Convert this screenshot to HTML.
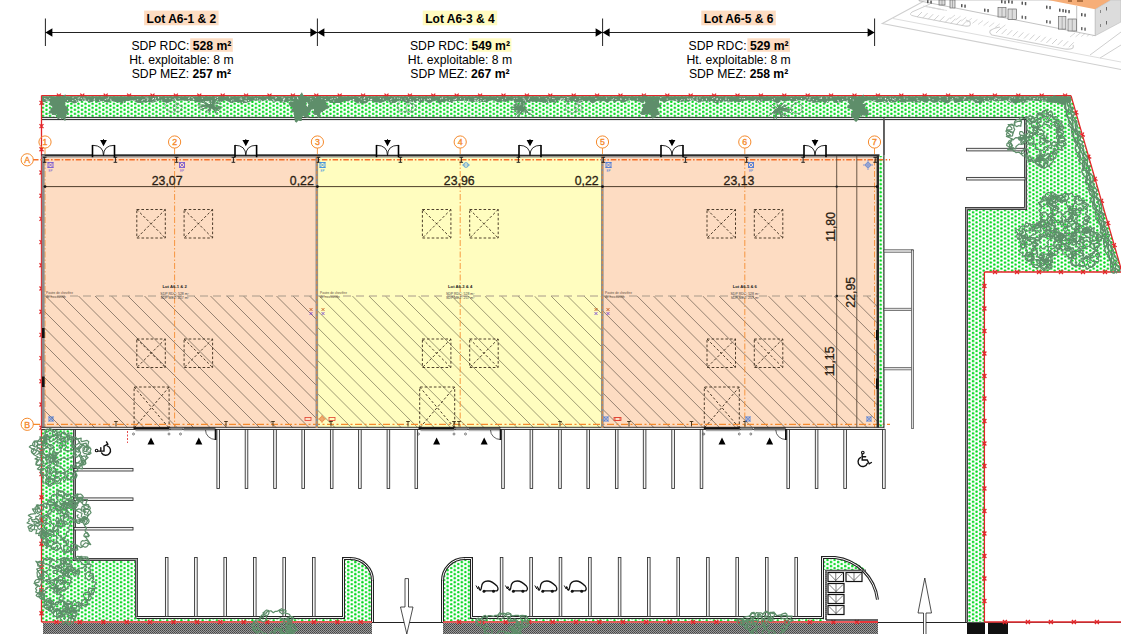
<!DOCTYPE html>
<html><head><meta charset="utf-8"><style>
html,body{margin:0;padding:0;background:#fff;overflow:hidden;}
svg{display:block;font-family:"Liberation Sans",sans-serif;}
</style></head><body>
<svg width="1121" height="634" viewBox="0 0 1121 634">
<defs>
<pattern id="dots" x="0" y="0" width="7.1" height="4.02" patternUnits="userSpaceOnUse">
<rect width="7.1" height="4.02" fill="#fff"/>
<circle cx="3.9" cy="1.26" r="1.25" fill="#00D81C"/><circle cx="0.35" cy="3.27" r="1.25" fill="#00D81C"/><circle cx="7.45" cy="3.27" r="1.25" fill="#00D81C"/><circle cx="0.35" cy="-0.75" r="1.25" fill="#00D81C"/><circle cx="7.45" cy="-0.75" r="1.25" fill="#00D81C"/>
</pattern>
<pattern id="gh" x="0" y="0" width="2" height="2" patternUnits="userSpaceOnUse">
<rect width="2" height="2" fill="#9a9a9a"/><rect width="1" height="1" fill="#444"/><rect x="1" y="1" width="1" height="1" fill="#555"/>
</pattern>
<clipPath id="hclip"><rect x="44" y="296" width="833" height="132"/></clipPath>
</defs>
<rect x="144.1" y="10.6" width="74.5" height="14.7" fill="#FDDCC2"/>
<text x="181.4" y="22.6" font-weight="bold" font-size="12" text-anchor="middle">Lot A6-1 &amp; 2</text>
<rect x="190.2" y="38.3" width="42.6" height="13.5" fill="#FDDCC2"/>
<text x="181.4" y="50" font-size="12.2" text-anchor="middle">SDP RDC: <tspan font-weight="bold">528 m²</tspan></text>
<text x="181.4" y="64" font-size="12.2" text-anchor="middle">Ht. exploitable: 8 m</text>
<text x="181.4" y="78" font-size="12.2" text-anchor="middle">SDP MEZ: <tspan font-weight="bold">257 m²</tspan></text>
<rect x="422.7" y="10.6" width="74.5" height="14.7" fill="#FFFBC0"/>
<text x="460.0" y="22.6" font-weight="bold" font-size="12" text-anchor="middle">Lot A6-3 &amp; 4</text>
<rect x="468.8" y="38.3" width="42.6" height="13.5" fill="#FFFBC0"/>
<text x="460.0" y="50" font-size="12.2" text-anchor="middle">SDP RDC: <tspan font-weight="bold">549 m²</tspan></text>
<text x="460.0" y="64" font-size="12.2" text-anchor="middle">Ht. exploitable: 8 m</text>
<text x="460.0" y="78" font-size="12.2" text-anchor="middle">SDP MEZ: <tspan font-weight="bold">267 m²</tspan></text>
<rect x="701.3" y="10.6" width="74.5" height="14.7" fill="#FDDCC2"/>
<text x="738.6" y="22.6" font-weight="bold" font-size="12" text-anchor="middle">Lot A6-5 &amp; 6</text>
<rect x="747.4" y="38.3" width="42.6" height="13.5" fill="#FDDCC2"/>
<text x="738.6" y="50" font-size="12.2" text-anchor="middle">SDP RDC: <tspan font-weight="bold">529 m²</tspan></text>
<text x="738.6" y="64" font-size="12.2" text-anchor="middle">Ht. exploitable: 8 m</text>
<text x="738.6" y="78" font-size="12.2" text-anchor="middle">SDP MEZ: <tspan font-weight="bold">258 m²</tspan></text>
<line x1="45.4" y1="32.5" x2="874.6" y2="32.5" stroke="#222" stroke-width="1"/>
<line x1="45.4" y1="18.5" x2="45.4" y2="46" stroke="#222" stroke-width="1"/>
<line x1="317.4" y1="18.5" x2="317.4" y2="46" stroke="#222" stroke-width="1"/>
<line x1="602.6" y1="18.5" x2="602.6" y2="46" stroke="#222" stroke-width="1"/>
<line x1="874.6" y1="18.5" x2="874.6" y2="46" stroke="#222" stroke-width="1"/>
<path d="M45.4,32.5 L52.4,28.3 L52.4,36.7Z" fill="#000"/>
<path d="M874.6,32.5 L867.6,28.3 L867.6,36.7Z" fill="#000"/>
<path d="M317.4,32.5 L324.4,28.3 L324.4,36.7Z" fill="#000"/>
<path d="M317.4,32.5 L310.4,28.3 L310.4,36.7Z" fill="#000"/>
<path d="M602.6,32.5 L609.6,28.3 L609.6,36.7Z" fill="#000"/>
<path d="M602.6,32.5 L595.6,28.3 L595.6,36.7Z" fill="#000"/>
<g>
<path d="M926,0 L882.3,23.5 L1121,69.5" stroke="#cfcfcf" stroke-width="1.1" fill="none"/>
<path d="M893,18.5 L1121,62" stroke="#dedede" stroke-width="1" fill="none"/>
<path d="M930,4 L912,12 Q908,15 914,16 L918,17" stroke="#cfcfcf" stroke-width="1" fill="none"/>
<path d="M918,17 L965,26 Q972,27 970,22 L966,20" stroke="#cfcfcf" stroke-width="1.1" fill="none"/>
<path d="M1000,27 Q985,30 992,35 L1065,49 Q1075,50 1073,45" stroke="#cfcfcf" stroke-width="1.1" fill="none"/>
<path d="M1090,55 L1121,32 M1100,58 L1121,45" stroke="#cfcfcf" stroke-width="1" fill="none"/>
<line x1="917.0" y1="17.0" x2="922.0" y2="12.0" stroke="#c4c4c4" stroke-width="0.8"/>
<line x1="922.6" y1="18.1" x2="927.6" y2="13.1" stroke="#c4c4c4" stroke-width="0.8"/>
<line x1="928.2" y1="19.2" x2="933.2" y2="14.2" stroke="#c4c4c4" stroke-width="0.8"/>
<line x1="933.8" y1="20.3" x2="938.8" y2="15.3" stroke="#c4c4c4" stroke-width="0.8"/>
<line x1="939.4" y1="21.4" x2="944.4" y2="16.4" stroke="#c4c4c4" stroke-width="0.8"/>
<line x1="945.0" y1="22.5" x2="950.0" y2="17.5" stroke="#c4c4c4" stroke-width="0.8"/>
<line x1="950.6" y1="23.6" x2="955.6" y2="18.6" stroke="#c4c4c4" stroke-width="0.8"/>
<line x1="956.2" y1="24.700000000000003" x2="961.2" y2="19.700000000000003" stroke="#c4c4c4" stroke-width="0.8"/>
<line x1="961.8" y1="25.8" x2="966.8" y2="20.8" stroke="#c4c4c4" stroke-width="0.8"/>
<line x1="923" y1="6.0" x2="932" y2="7.5" stroke="#d4d4d4" stroke-width="0.7"/>
<line x1="926" y1="6.6" x2="935" y2="8.1" stroke="#d4d4d4" stroke-width="0.7"/>
<line x1="929" y1="7.2" x2="938" y2="8.7" stroke="#d4d4d4" stroke-width="0.7"/>
<line x1="932" y1="7.8" x2="941" y2="9.3" stroke="#d4d4d4" stroke-width="0.7"/>
<line x1="935" y1="8.4" x2="944" y2="9.9" stroke="#d4d4d4" stroke-width="0.7"/>
<line x1="938" y1="9.0" x2="947" y2="10.5" stroke="#d4d4d4" stroke-width="0.7"/>
<line x1="996.0" y1="33.0" x2="1001.0" y2="28.0" stroke="#c4c4c4" stroke-width="0.8"/>
<line x1="1001.6" y1="34.1" x2="1006.6" y2="29.1" stroke="#c4c4c4" stroke-width="0.8"/>
<line x1="1007.2" y1="35.2" x2="1012.2" y2="30.2" stroke="#c4c4c4" stroke-width="0.8"/>
<line x1="1012.8" y1="36.3" x2="1017.8" y2="31.3" stroke="#c4c4c4" stroke-width="0.8"/>
<line x1="1018.4" y1="37.4" x2="1023.4" y2="32.4" stroke="#c4c4c4" stroke-width="0.8"/>
<line x1="1024.0" y1="38.5" x2="1029.0" y2="33.5" stroke="#c4c4c4" stroke-width="0.8"/>
<line x1="1029.6" y1="39.6" x2="1034.6" y2="34.6" stroke="#c4c4c4" stroke-width="0.8"/>
<line x1="1035.2" y1="40.7" x2="1040.2" y2="35.7" stroke="#c4c4c4" stroke-width="0.8"/>
<line x1="1040.8" y1="41.8" x2="1045.8" y2="36.8" stroke="#c4c4c4" stroke-width="0.8"/>
<line x1="1046.4" y1="42.9" x2="1051.4" y2="37.9" stroke="#c4c4c4" stroke-width="0.8"/>
<line x1="1052.0" y1="44.0" x2="1057.0" y2="39.0" stroke="#c4c4c4" stroke-width="0.8"/>
<line x1="1057.6" y1="45.1" x2="1062.6" y2="40.1" stroke="#c4c4c4" stroke-width="0.8"/>
<line x1="1063.2" y1="46.2" x2="1068.2" y2="41.2" stroke="#c4c4c4" stroke-width="0.8"/>
<line x1="1068.8" y1="47.3" x2="1073.8" y2="42.3" stroke="#c4c4c4" stroke-width="0.8"/>
<line x1="950.0" y1="19.0" x2="955.0" y2="15.0" stroke="#d0d0d0" stroke-width="0.8"/>
<line x1="955.6" y1="20.1" x2="960.6" y2="16.1" stroke="#d0d0d0" stroke-width="0.8"/>
<line x1="961.2" y1="21.2" x2="966.2" y2="17.2" stroke="#d0d0d0" stroke-width="0.8"/>
<line x1="966.8" y1="22.3" x2="971.8" y2="18.3" stroke="#d0d0d0" stroke-width="0.8"/>
<line x1="972.4" y1="23.4" x2="977.4" y2="19.4" stroke="#d0d0d0" stroke-width="0.8"/>
<line x1="978.0" y1="24.5" x2="983.0" y2="20.5" stroke="#d0d0d0" stroke-width="0.8"/>
<line x1="983.6" y1="25.6" x2="988.6" y2="21.6" stroke="#d0d0d0" stroke-width="0.8"/>
<line x1="989.2" y1="26.700000000000003" x2="994.2" y2="22.700000000000003" stroke="#d0d0d0" stroke-width="0.8"/>
<line x1="994.8" y1="27.8" x2="999.8" y2="23.8" stroke="#d0d0d0" stroke-width="0.8"/>
<line x1="1000.4" y1="28.9" x2="1005.4" y2="24.9" stroke="#d0d0d0" stroke-width="0.8"/>
<line x1="1070.0" y1="37.0" x2="1075.0" y2="33.0" stroke="#d0d0d0" stroke-width="0.8"/>
<line x1="1075.6" y1="36.8" x2="1080.6" y2="32.8" stroke="#d0d0d0" stroke-width="0.8"/>
<line x1="1081.2" y1="36.6" x2="1086.2" y2="32.6" stroke="#d0d0d0" stroke-width="0.8"/>
<line x1="1086.8" y1="36.4" x2="1091.8" y2="32.4" stroke="#d0d0d0" stroke-width="0.8"/>
<line x1="1092.4" y1="36.2" x2="1097.4" y2="32.2" stroke="#d0d0d0" stroke-width="0.8"/>
<path d="M919,0 L1095.3,0 L1095.3,35.7 L919,0.8 Z" fill="#fff" stroke="#9a9a9a" stroke-width="0.6"/>
<line x1="1076.7" y1="6" x2="1076.7" y2="32" stroke="#999" stroke-width="0.6"/>
<path d="M1048,0 L1111,0 L1095.3,9.3 Z" fill="#F6AE78"/>
<rect x="1068" y="0" width="4" height="2" fill="#b07040"/><rect x="1077" y="0" width="6" height="2" fill="#b07040"/>
<path d="M1095.3,9.3 L1111,0 L1121,0 L1121,22 L1095.3,35.7 Z" fill="#dcdcdc" stroke="#b5b5b5" stroke-width="0.5"/>
<rect x="927" y="0" width="1.5" height="3.2" rx="0.5" fill="#555"/><rect x="930.3" y="0.5" width="1.5" height="3.2" rx="0.5" fill="#555"/>
<rect x="961" y="4" width="1.5" height="3.2" rx="0.5" fill="#555"/><rect x="964.3" y="4.5" width="1.5" height="3.2" rx="0.5" fill="#555"/>
<rect x="984" y="8.5" width="1.5" height="3.2" rx="0.5" fill="#555"/><rect x="987.3" y="9.0" width="1.5" height="3.2" rx="0.5" fill="#555"/>
<rect x="1021.5" y="1.5" width="1.5" height="3.2" rx="0.5" fill="#555"/><rect x="1024.8" y="2.0" width="1.5" height="3.2" rx="0.5" fill="#555"/>
<rect x="1046" y="5.5" width="1.5" height="3.2" rx="0.5" fill="#555"/><rect x="1049.3" y="6.0" width="1.5" height="3.2" rx="0.5" fill="#555"/>
<rect x="1059" y="8.5" width="1.5" height="3.2" rx="0.5" fill="#555"/><rect x="1062.3" y="9.0" width="1.5" height="3.2" rx="0.5" fill="#555"/>
<rect x="1065" y="9.5" width="1.5" height="3.2" rx="0.5" fill="#555"/><rect x="1068.3" y="10.0" width="1.5" height="3.2" rx="0.5" fill="#555"/>
<rect x="1081" y="13" width="1.5" height="3.2" rx="0.5" fill="#555"/><rect x="1084.3" y="13.5" width="1.5" height="3.2" rx="0.5" fill="#555"/>
<rect x="1001" y="0" width="1.5" height="3.2" rx="0.5" fill="#555"/><rect x="1004.3" y="0.5" width="1.5" height="3.2" rx="0.5" fill="#555"/>
<rect x="1008" y="0" width="1.5" height="3.2" rx="0.5" fill="#555"/><rect x="1011.3" y="0.5" width="1.5" height="3.2" rx="0.5" fill="#555"/>
<rect x="1021.5" y="15.5" width="1.5" height="3.2" rx="0.5" fill="#666"/><rect x="1024.8" y="16.0" width="1.5" height="3.2" rx="0.5" fill="#666"/>
<rect x="1046" y="20" width="1.5" height="3.2" rx="0.5" fill="#666"/><rect x="1049.3" y="20.5" width="1.5" height="3.2" rx="0.5" fill="#666"/>
<rect x="1081" y="27" width="1.5" height="3.2" rx="0.5" fill="#666"/><rect x="1084.3" y="27.5" width="1.5" height="3.2" rx="0.5" fill="#666"/>
<rect x="1100" y="10" width="1" height="3" fill="#888"/><rect x="1106" y="7" width="1" height="3.5" fill="#666"/>
<rect x="1100" y="24" width="1" height="3" fill="#888"/><rect x="1106" y="21" width="1" height="3.5" fill="#666"/>
<rect x="939" y="0" width="6" height="5" fill="#ddd" stroke="#555" stroke-width="0.6"/><line x1="942.0" y1="0" x2="942.0" y2="5" stroke="#777" stroke-width="0.5"/>
<rect x="950" y="0" width="5" height="8" fill="#ddd" stroke="#555" stroke-width="0.6"/><line x1="952.5" y1="0" x2="952.5" y2="8" stroke="#777" stroke-width="0.5"/>
<rect x="998" y="7.5" width="8" height="9.5" fill="#ddd" stroke="#555" stroke-width="0.6"/><line x1="1002.0" y1="7.5" x2="1002.0" y2="17.0" stroke="#777" stroke-width="0.5"/>
<rect x="1008" y="9" width="8.5" height="10.5" fill="#ddd" stroke="#555" stroke-width="0.6"/><line x1="1012.25" y1="9" x2="1012.25" y2="19.5" stroke="#777" stroke-width="0.5"/>
<rect x="1058.4" y="16.6" width="7.5" height="12.5" fill="#ddd" stroke="#555" stroke-width="0.6"/><line x1="1062.15" y1="16.6" x2="1062.15" y2="29.1" stroke="#777" stroke-width="0.5"/>
<rect x="1068" y="19" width="8.5" height="12" fill="#ddd" stroke="#555" stroke-width="0.6"/><line x1="1072.25" y1="19" x2="1072.25" y2="31" stroke="#777" stroke-width="0.5"/>
</g>
<path d="M41.5,95.6 L1071,95.6 L1122,272 L984.4,272 L984.4,622 L966,622 L966,208.5 L1025.6,208.5 L1025.6,118.5 L41.5,118.5 Z" fill="url(#dots)"/>
<path d="M41.5,429 L73.5,429 L73.5,559 L136.8,559 L136.8,617.5 L343,617.5 L343,558.6 L350,558.6 A22,22 0 0 1 372,580.6 L372,622 L41.5,622 Z" fill="url(#dots)"/>
<path d="M443,622 L443,580.6 A22,22 0 0 1 465,558.6 L471.8,558.6 L471.8,617.5 L824,617.5 L824,622 Z" fill="url(#dots)"/>
<path d="M823.5,558.5 L842,558.5 Q856,561 866,570 L824,570 Z" fill="url(#dots)"/>
<rect x="879" y="156" width="5" height="272" fill="url(#dots)"/>
<rect x="43" y="623" width="329" height="11" fill="url(#gh)"/>
<rect x="443" y="623" width="435" height="11" fill="url(#gh)"/>
<rect x="967" y="623" width="18" height="11" fill="#111"/>
<rect x="988" y="623" width="20" height="11" fill="#111"/>
<line x1="372" y1="622.5" x2="443" y2="622.5" stroke="#222" stroke-width="1"/>
<line x1="878" y1="622.5" x2="1121" y2="622.5" stroke="#222" stroke-width="0.8"/>
<path d="M1025.5,118.5 L1025.5,208.5 L966.5,208.5 L966.5,622" fill="none" stroke="#222" stroke-width="3" stroke-linejoin="miter"/>
<path d="M1025.5,118.5 L1025.5,208.5 L966.5,208.5 L966.5,622" fill="none" stroke="#a0a0a0" stroke-width="1.6" stroke-linejoin="miter"/>
<rect x="41.5" y="116.9" width="985" height="1" fill="#1e1e1e"/><rect x="41.5" y="117.9" width="985" height="1.2" fill="#e8e8e8"/><rect x="41.5" y="119.1" width="985" height="1" fill="#1e1e1e"/>
<path d="M74.5,429 L74.5,559.5 L136.5,559.5 L136.5,617.5" fill="none" stroke="#222" stroke-width="3" stroke-linejoin="miter"/>
<path d="M74.5,429 L74.5,559.5 L136.5,559.5 L136.5,617.5" fill="none" stroke="#a0a0a0" stroke-width="1.6" stroke-linejoin="miter"/>
<path d="M136.5,617.5 L343.5,617.5 L343.5,558.5 L350.5,558.5 A22,22 0 0 1 372.5,580.5 L372.5,622" fill="none" stroke="#222" stroke-width="3"/><path d="M136.5,617.5 L343.5,617.5 L343.5,558.5 L350.5,558.5 A22,22 0 0 1 372.5,580.5 L372.5,622" fill="none" stroke="#f4f4f4" stroke-width="1"/>
<path d="M442.5,622 L442.5,580.5 A22,22 0 0 1 464.5,558.5 L471.5,558.5 L471.5,617.5 L822.5,617.5 L822.5,557.5 L835,557.5 A48,48 0 0 1 877.5,599.7" fill="none" stroke="#222" stroke-width="3"/><path d="M442.5,622 L442.5,580.5 A22,22 0 0 1 464.5,558.5 L471.5,558.5 L471.5,617.5 L822.5,617.5 L822.5,557.5 L835,557.5 A48,48 0 0 1 877.5,599.7" fill="none" stroke="#f4f4f4" stroke-width="1"/>
<line x1="884" y1="118.5" x2="884" y2="155" stroke="#333" stroke-width="1.2"/>
<path d="M41.5,95.6 L1071,95.6" fill="none" stroke="#E3262A" stroke-width="1.3"/>
<path d="M56.9,93.6 L60.9,97.6 M60.9,93.6 L56.9,97.6" stroke="#E3262A" stroke-width="1.3"/>
<path d="M80.3,93.6 L84.3,97.6 M84.3,93.6 L80.3,97.6" stroke="#E3262A" stroke-width="1.3"/>
<path d="M103.7,93.6 L107.7,97.6 M107.7,93.6 L103.7,97.6" stroke="#E3262A" stroke-width="1.3"/>
<path d="M127.1,93.6 L131.1,97.6 M131.1,93.6 L127.1,97.6" stroke="#E3262A" stroke-width="1.3"/>
<path d="M150.5,93.6 L154.5,97.6 M154.5,93.6 L150.5,97.6" stroke="#E3262A" stroke-width="1.3"/>
<path d="M173.9,93.6 L177.9,97.6 M177.9,93.6 L173.9,97.6" stroke="#E3262A" stroke-width="1.3"/>
<path d="M197.3,93.6 L201.3,97.6 M201.3,93.6 L197.3,97.6" stroke="#E3262A" stroke-width="1.3"/>
<path d="M220.7,93.6 L224.7,97.6 M224.7,93.6 L220.7,97.6" stroke="#E3262A" stroke-width="1.3"/>
<path d="M244.1,93.6 L248.1,97.6 M248.1,93.6 L244.1,97.6" stroke="#E3262A" stroke-width="1.3"/>
<path d="M267.5,93.6 L271.5,97.6 M271.5,93.6 L267.5,97.6" stroke="#E3262A" stroke-width="1.3"/>
<path d="M290.9,93.6 L294.9,97.6 M294.9,93.6 L290.9,97.6" stroke="#E3262A" stroke-width="1.3"/>
<path d="M314.3,93.6 L318.3,97.6 M318.3,93.6 L314.3,97.6" stroke="#E3262A" stroke-width="1.3"/>
<path d="M337.7,93.6 L341.7,97.6 M341.7,93.6 L337.7,97.6" stroke="#E3262A" stroke-width="1.3"/>
<path d="M361.1,93.6 L365.1,97.6 M365.1,93.6 L361.1,97.6" stroke="#E3262A" stroke-width="1.3"/>
<path d="M384.5,93.6 L388.5,97.6 M388.5,93.6 L384.5,97.6" stroke="#E3262A" stroke-width="1.3"/>
<path d="M407.9,93.6 L411.9,97.6 M411.9,93.6 L407.9,97.6" stroke="#E3262A" stroke-width="1.3"/>
<path d="M431.3,93.6 L435.3,97.6 M435.3,93.6 L431.3,97.6" stroke="#E3262A" stroke-width="1.3"/>
<path d="M454.7,93.6 L458.7,97.6 M458.7,93.6 L454.7,97.6" stroke="#E3262A" stroke-width="1.3"/>
<path d="M478.1,93.6 L482.1,97.6 M482.1,93.6 L478.1,97.6" stroke="#E3262A" stroke-width="1.3"/>
<path d="M501.5,93.6 L505.5,97.6 M505.5,93.6 L501.5,97.6" stroke="#E3262A" stroke-width="1.3"/>
<path d="M524.9,93.6 L528.9,97.6 M528.9,93.6 L524.9,97.6" stroke="#E3262A" stroke-width="1.3"/>
<path d="M548.3,93.6 L552.3,97.6 M552.3,93.6 L548.3,97.6" stroke="#E3262A" stroke-width="1.3"/>
<path d="M571.7,93.6 L575.7,97.6 M575.7,93.6 L571.7,97.6" stroke="#E3262A" stroke-width="1.3"/>
<path d="M595.1,93.6 L599.1,97.6 M599.1,93.6 L595.1,97.6" stroke="#E3262A" stroke-width="1.3"/>
<path d="M618.5,93.6 L622.5,97.6 M622.5,93.6 L618.5,97.6" stroke="#E3262A" stroke-width="1.3"/>
<path d="M641.9,93.6 L645.9,97.6 M645.9,93.6 L641.9,97.6" stroke="#E3262A" stroke-width="1.3"/>
<path d="M665.3,93.6 L669.3,97.6 M669.3,93.6 L665.3,97.6" stroke="#E3262A" stroke-width="1.3"/>
<path d="M688.7,93.6 L692.7,97.6 M692.7,93.6 L688.7,97.6" stroke="#E3262A" stroke-width="1.3"/>
<path d="M712.1,93.6 L716.1,97.6 M716.1,93.6 L712.1,97.6" stroke="#E3262A" stroke-width="1.3"/>
<path d="M735.5,93.6 L739.5,97.6 M739.5,93.6 L735.5,97.6" stroke="#E3262A" stroke-width="1.3"/>
<path d="M758.9,93.6 L762.9,97.6 M762.9,93.6 L758.9,97.6" stroke="#E3262A" stroke-width="1.3"/>
<path d="M782.3,93.6 L786.3,97.6 M786.3,93.6 L782.3,97.6" stroke="#E3262A" stroke-width="1.3"/>
<path d="M805.7,93.6 L809.7,97.6 M809.7,93.6 L805.7,97.6" stroke="#E3262A" stroke-width="1.3"/>
<path d="M829.1,93.6 L833.1,97.6 M833.1,93.6 L829.1,97.6" stroke="#E3262A" stroke-width="1.3"/>
<path d="M852.5,93.6 L856.5,97.6 M856.5,93.6 L852.5,97.6" stroke="#E3262A" stroke-width="1.3"/>
<path d="M875.9,93.6 L879.9,97.6 M879.9,93.6 L875.9,97.6" stroke="#E3262A" stroke-width="1.3"/>
<path d="M899.3,93.6 L903.3,97.6 M903.3,93.6 L899.3,97.6" stroke="#E3262A" stroke-width="1.3"/>
<path d="M922.7,93.6 L926.7,97.6 M926.7,93.6 L922.7,97.6" stroke="#E3262A" stroke-width="1.3"/>
<path d="M946.1,93.6 L950.1,97.6 M950.1,93.6 L946.1,97.6" stroke="#E3262A" stroke-width="1.3"/>
<path d="M969.5,93.6 L973.5,97.6 M973.5,93.6 L969.5,97.6" stroke="#E3262A" stroke-width="1.3"/>
<path d="M992.9,93.6 L996.9,97.6 M996.9,93.6 L992.9,97.6" stroke="#E3262A" stroke-width="1.3"/>
<path d="M1016.3,93.6 L1020.3,97.6 M1020.3,93.6 L1016.3,97.6" stroke="#E3262A" stroke-width="1.3"/>
<path d="M1039.7,93.6 L1043.7,97.6 M1043.7,93.6 L1039.7,97.6" stroke="#E3262A" stroke-width="1.3"/>
<path d="M1063.1,93.6 L1067.1,97.6 M1067.1,93.6 L1063.1,97.6" stroke="#E3262A" stroke-width="1.3"/>
<path d="M41.5,95.6 L41.5,622" fill="none" stroke="#E3262A" stroke-width="1.3"/>
<path d="M43.5,100.9 L39.5,104.9 M43.5,104.9 L39.5,100.9" stroke="#E3262A" stroke-width="1.3"/>
<path d="M43.5,124.1 L39.5,128.1 M43.5,128.1 L39.5,124.1" stroke="#E3262A" stroke-width="1.3"/>
<path d="M43.5,147.3 L39.5,151.3 M43.5,151.3 L39.5,147.3" stroke="#E3262A" stroke-width="1.3"/>
<path d="M43.5,170.5 L39.5,174.5 M43.5,174.5 L39.5,170.5" stroke="#E3262A" stroke-width="1.3"/>
<path d="M43.5,193.7 L39.5,197.7 M43.5,197.7 L39.5,193.7" stroke="#E3262A" stroke-width="1.3"/>
<path d="M43.5,216.9 L39.5,220.9 M43.5,220.9 L39.5,216.9" stroke="#E3262A" stroke-width="1.3"/>
<path d="M43.5,240.1 L39.5,244.1 M43.5,244.1 L39.5,240.1" stroke="#E3262A" stroke-width="1.3"/>
<path d="M43.5,263.3 L39.5,267.3 M43.5,267.3 L39.5,263.3" stroke="#E3262A" stroke-width="1.3"/>
<path d="M43.5,286.5 L39.5,290.5 M43.5,290.5 L39.5,286.5" stroke="#E3262A" stroke-width="1.3"/>
<path d="M43.5,309.7 L39.5,313.7 M43.5,313.7 L39.5,309.7" stroke="#E3262A" stroke-width="1.3"/>
<path d="M43.5,332.9 L39.5,336.9 M43.5,336.9 L39.5,332.9" stroke="#E3262A" stroke-width="1.3"/>
<path d="M43.5,356.1 L39.5,360.1 M43.5,360.1 L39.5,356.1" stroke="#E3262A" stroke-width="1.3"/>
<path d="M43.5,379.3 L39.5,383.3 M43.5,383.3 L39.5,379.3" stroke="#E3262A" stroke-width="1.3"/>
<path d="M43.5,402.5 L39.5,406.5 M43.5,406.5 L39.5,402.5" stroke="#E3262A" stroke-width="1.3"/>
<path d="M43.5,425.7 L39.5,429.7 M43.5,429.7 L39.5,425.7" stroke="#E3262A" stroke-width="1.3"/>
<path d="M43.5,448.9 L39.5,452.9 M43.5,452.9 L39.5,448.9" stroke="#E3262A" stroke-width="1.3"/>
<path d="M43.5,472.1 L39.5,476.1 M43.5,476.1 L39.5,472.1" stroke="#E3262A" stroke-width="1.3"/>
<path d="M43.5,495.3 L39.5,499.3 M43.5,499.3 L39.5,495.3" stroke="#E3262A" stroke-width="1.3"/>
<path d="M43.5,518.5 L39.5,522.5 M43.5,522.5 L39.5,518.5" stroke="#E3262A" stroke-width="1.3"/>
<path d="M43.5,541.7 L39.5,545.7 M43.5,545.7 L39.5,541.7" stroke="#E3262A" stroke-width="1.3"/>
<path d="M43.5,564.9 L39.5,568.9 M43.5,568.9 L39.5,564.9" stroke="#E3262A" stroke-width="1.3"/>
<path d="M43.5,588.1 L39.5,592.1 M43.5,592.1 L39.5,588.1" stroke="#E3262A" stroke-width="1.3"/>
<path d="M43.5,611.3 L39.5,615.3 M43.5,615.3 L39.5,611.3" stroke="#E3262A" stroke-width="1.3"/>
<path d="M1071,95.6 L1122,272" fill="none" stroke="#E3262A" stroke-width="1.3"/>
<path d="M1077.4,110.4 L1074.6,115.4 M1078.5,114.3 L1073.5,111.5" stroke="#E3262A" stroke-width="1.3"/>
<path d="M1083.8,132.5 L1081.0,137.5 M1084.9,136.4 L1079.9,133.6" stroke="#E3262A" stroke-width="1.3"/>
<path d="M1090.1,154.6 L1087.4,159.6 M1091.3,158.4 L1086.3,155.7" stroke="#E3262A" stroke-width="1.3"/>
<path d="M1096.5,176.7 L1093.8,181.7 M1097.6,180.5 L1092.7,177.8" stroke="#E3262A" stroke-width="1.3"/>
<path d="M1102.9,198.8 L1100.2,203.7 M1104.0,202.6 L1099.1,199.9" stroke="#E3262A" stroke-width="1.3"/>
<path d="M1109.3,220.9 L1106.6,225.8 M1110.4,224.7 L1105.5,222.0" stroke="#E3262A" stroke-width="1.3"/>
<path d="M1115.7,243.0 L1113.0,247.9 M1116.8,246.8 L1111.9,244.1" stroke="#E3262A" stroke-width="1.3"/>
<path d="M1122.1,265.1 L1119.3,270.0 M1123.2,268.9 L1118.2,266.2" stroke="#E3262A" stroke-width="1.3"/>
<path d="M1121,272 L984.4,272" fill="none" stroke="#E3262A" stroke-width="1.3"/>
<path d="M1107.0,274.0 L1103.0,270.0 M1103.0,274.0 L1107.0,270.0" stroke="#E3262A" stroke-width="1.3"/>
<path d="M1085.0,274.0 L1081.0,270.0 M1081.0,274.0 L1085.0,270.0" stroke="#E3262A" stroke-width="1.3"/>
<path d="M1063.0,274.0 L1059.0,270.0 M1059.0,274.0 L1063.0,270.0" stroke="#E3262A" stroke-width="1.3"/>
<path d="M1041.0,274.0 L1037.0,270.0 M1037.0,274.0 L1041.0,270.0" stroke="#E3262A" stroke-width="1.3"/>
<path d="M1019.0,274.0 L1015.0,270.0 M1015.0,274.0 L1019.0,270.0" stroke="#E3262A" stroke-width="1.3"/>
<path d="M997.0,274.0 L993.0,270.0 M993.0,274.0 L997.0,270.0" stroke="#E3262A" stroke-width="1.3"/>
<path d="M984.4,272 L984.4,622" fill="none" stroke="#E3262A" stroke-width="1.3"/>
<path d="M986.4,284.0 L982.4,288.0 M986.4,288.0 L982.4,284.0" stroke="#E3262A" stroke-width="1.3"/>
<path d="M986.4,306.5 L982.4,310.5 M986.4,310.5 L982.4,306.5" stroke="#E3262A" stroke-width="1.3"/>
<path d="M986.4,329.0 L982.4,333.0 M986.4,333.0 L982.4,329.0" stroke="#E3262A" stroke-width="1.3"/>
<path d="M986.4,351.5 L982.4,355.5 M986.4,355.5 L982.4,351.5" stroke="#E3262A" stroke-width="1.3"/>
<path d="M986.4,374.0 L982.4,378.0 M986.4,378.0 L982.4,374.0" stroke="#E3262A" stroke-width="1.3"/>
<path d="M986.4,396.5 L982.4,400.5 M986.4,400.5 L982.4,396.5" stroke="#E3262A" stroke-width="1.3"/>
<path d="M986.4,419.0 L982.4,423.0 M986.4,423.0 L982.4,419.0" stroke="#E3262A" stroke-width="1.3"/>
<path d="M986.4,441.5 L982.4,445.5 M986.4,445.5 L982.4,441.5" stroke="#E3262A" stroke-width="1.3"/>
<path d="M986.4,464.0 L982.4,468.0 M986.4,468.0 L982.4,464.0" stroke="#E3262A" stroke-width="1.3"/>
<path d="M986.4,486.5 L982.4,490.5 M986.4,490.5 L982.4,486.5" stroke="#E3262A" stroke-width="1.3"/>
<path d="M986.4,509.0 L982.4,513.0 M986.4,513.0 L982.4,509.0" stroke="#E3262A" stroke-width="1.3"/>
<path d="M986.4,531.5 L982.4,535.5 M986.4,535.5 L982.4,531.5" stroke="#E3262A" stroke-width="1.3"/>
<path d="M986.4,554.0 L982.4,558.0 M986.4,558.0 L982.4,554.0" stroke="#E3262A" stroke-width="1.3"/>
<path d="M986.4,576.5 L982.4,580.5 M986.4,580.5 L982.4,576.5" stroke="#E3262A" stroke-width="1.3"/>
<path d="M986.4,599.0 L982.4,603.0 M986.4,603.0 L982.4,599.0" stroke="#E3262A" stroke-width="1.3"/>
<path d="M41.5,622 L372,622" fill="none" stroke="#E3262A" stroke-width="1.3"/>
<path d="M54.5,620.0 L58.5,624.0 M58.5,620.0 L54.5,624.0" stroke="#E3262A" stroke-width="1.3"/>
<path d="M77.9,620.0 L81.9,624.0 M81.9,620.0 L77.9,624.0" stroke="#E3262A" stroke-width="1.3"/>
<path d="M101.3,620.0 L105.3,624.0 M105.3,620.0 L101.3,624.0" stroke="#E3262A" stroke-width="1.3"/>
<path d="M124.7,620.0 L128.7,624.0 M128.7,620.0 L124.7,624.0" stroke="#E3262A" stroke-width="1.3"/>
<path d="M148.1,620.0 L152.1,624.0 M152.1,620.0 L148.1,624.0" stroke="#E3262A" stroke-width="1.3"/>
<path d="M171.5,620.0 L175.5,624.0 M175.5,620.0 L171.5,624.0" stroke="#E3262A" stroke-width="1.3"/>
<path d="M194.9,620.0 L198.9,624.0 M198.9,620.0 L194.9,624.0" stroke="#E3262A" stroke-width="1.3"/>
<path d="M218.3,620.0 L222.3,624.0 M222.3,620.0 L218.3,624.0" stroke="#E3262A" stroke-width="1.3"/>
<path d="M241.7,620.0 L245.7,624.0 M245.7,620.0 L241.7,624.0" stroke="#E3262A" stroke-width="1.3"/>
<path d="M265.1,620.0 L269.1,624.0 M269.1,620.0 L265.1,624.0" stroke="#E3262A" stroke-width="1.3"/>
<path d="M288.5,620.0 L292.5,624.0 M292.5,620.0 L288.5,624.0" stroke="#E3262A" stroke-width="1.3"/>
<path d="M311.9,620.0 L315.9,624.0 M315.9,620.0 L311.9,624.0" stroke="#E3262A" stroke-width="1.3"/>
<path d="M335.3,620.0 L339.3,624.0 M339.3,620.0 L335.3,624.0" stroke="#E3262A" stroke-width="1.3"/>
<path d="M358.7,620.0 L362.7,624.0 M362.7,620.0 L358.7,624.0" stroke="#E3262A" stroke-width="1.3"/>
<path d="M443,622 L878,622" fill="none" stroke="#E3262A" stroke-width="1.3"/>
<path d="M457.0,620.0 L461.0,624.0 M461.0,620.0 L457.0,624.0" stroke="#E3262A" stroke-width="1.3"/>
<path d="M480.4,620.0 L484.4,624.0 M484.4,620.0 L480.4,624.0" stroke="#E3262A" stroke-width="1.3"/>
<path d="M503.8,620.0 L507.8,624.0 M507.8,620.0 L503.8,624.0" stroke="#E3262A" stroke-width="1.3"/>
<path d="M527.2,620.0 L531.2,624.0 M531.2,620.0 L527.2,624.0" stroke="#E3262A" stroke-width="1.3"/>
<path d="M550.6,620.0 L554.6,624.0 M554.6,620.0 L550.6,624.0" stroke="#E3262A" stroke-width="1.3"/>
<path d="M574.0,620.0 L578.0,624.0 M578.0,620.0 L574.0,624.0" stroke="#E3262A" stroke-width="1.3"/>
<path d="M597.4,620.0 L601.4,624.0 M601.4,620.0 L597.4,624.0" stroke="#E3262A" stroke-width="1.3"/>
<path d="M620.8,620.0 L624.8,624.0 M624.8,620.0 L620.8,624.0" stroke="#E3262A" stroke-width="1.3"/>
<path d="M644.2,620.0 L648.2,624.0 M648.2,620.0 L644.2,624.0" stroke="#E3262A" stroke-width="1.3"/>
<path d="M667.6,620.0 L671.6,624.0 M671.6,620.0 L667.6,624.0" stroke="#E3262A" stroke-width="1.3"/>
<path d="M691.0,620.0 L695.0,624.0 M695.0,620.0 L691.0,624.0" stroke="#E3262A" stroke-width="1.3"/>
<path d="M714.4,620.0 L718.4,624.0 M718.4,620.0 L714.4,624.0" stroke="#E3262A" stroke-width="1.3"/>
<path d="M737.8,620.0 L741.8,624.0 M741.8,620.0 L737.8,624.0" stroke="#E3262A" stroke-width="1.3"/>
<path d="M761.2,620.0 L765.2,624.0 M765.2,620.0 L761.2,624.0" stroke="#E3262A" stroke-width="1.3"/>
<path d="M784.6,620.0 L788.6,624.0 M788.6,620.0 L784.6,624.0" stroke="#E3262A" stroke-width="1.3"/>
<path d="M808.0,620.0 L812.0,624.0 M812.0,620.0 L808.0,624.0" stroke="#E3262A" stroke-width="1.3"/>
<path d="M831.4,620.0 L835.4,624.0 M835.4,620.0 L831.4,624.0" stroke="#E3262A" stroke-width="1.3"/>
<path d="M854.8,620.0 L858.8,624.0 M858.8,620.0 L854.8,624.0" stroke="#E3262A" stroke-width="1.3"/>
<line x1="878" y1="622.5" x2="967" y2="622.5" stroke="#222" stroke-width="1"/>
<path d="M984.4,622 L1121,622" fill="none" stroke="#E3262A" stroke-width="1.3"/>
<path d="M1002.9,620.0 L1006.9,624.0 M1006.9,620.0 L1002.9,624.0" stroke="#E3262A" stroke-width="1.3"/>
<path d="M1025.9,620.0 L1029.9,624.0 M1029.9,620.0 L1025.9,624.0" stroke="#E3262A" stroke-width="1.3"/>
<path d="M1048.9,620.0 L1052.9,624.0 M1052.9,620.0 L1048.9,624.0" stroke="#E3262A" stroke-width="1.3"/>
<path d="M1071.9,620.0 L1075.9,624.0 M1075.9,620.0 L1071.9,624.0" stroke="#E3262A" stroke-width="1.3"/>
<path d="M1094.9,620.0 L1098.9,624.0 M1098.9,620.0 L1094.9,624.0" stroke="#E3262A" stroke-width="1.3"/>
<path d="M860,622 L878,622" fill="none" stroke="#E3262A" stroke-width="1.3"/>
<rect x="44" y="156" width="273" height="272" fill="#FDDCC2"/>
<rect x="317" y="156" width="285" height="272" fill="#FFFDBF"/>
<rect x="602" y="156" width="275" height="272" fill="#FDDCC2"/>
<clipPath id="hc1"><rect x="44" y="296" width="273" height="132"/></clipPath><clipPath id="hc3"><rect x="602" y="296" width="275" height="132"/></clipPath><clipPath id="hc2"><rect x="317" y="296" width="285" height="132"/></clipPath>
<path clip-path="url(#hc1)" d="M-103.0,296 L29.0,428 M-86.5,296 L45.5,428 M-70.0,296 L62.0,428 M-53.5,296 L78.5,428 M-37.0,296 L95.0,428 M-20.5,296 L111.5,428 M-4.0,296 L128.0,428 M12.5,296 L144.5,428 M29.0,296 L161.0,428 M45.5,296 L177.5,428 M62.0,296 L194.0,428 M78.5,296 L210.5,428 M95.0,296 L227.0,428 M111.5,296 L243.5,428 M128.0,296 L260.0,428 M144.5,296 L276.5,428 M161.0,296 L293.0,428 M177.5,296 L309.5,428 M194.0,296 L326.0,428 M210.5,296 L342.5,428 M227.0,296 L359.0,428 M243.5,296 L375.5,428 M260.0,296 L392.0,428 M276.5,296 L408.5,428 M293.0,296 L425.0,428 M309.5,296 L441.5,428 M326.0,296 L458.0,428 M342.5,296 L474.5,428 M359.0,296 L491.0,428 M375.5,296 L507.5,428 M392.0,296 L524.0,428 M408.5,296 L540.5,428 M425.0,296 L557.0,428 M441.5,296 L573.5,428 M458.0,296 L590.0,428 M474.5,296 L606.5,428 M491.0,296 L623.0,428 M507.5,296 L639.5,428 M524.0,296 L656.0,428 M540.5,296 L672.5,428 M557.0,296 L689.0,428 M573.5,296 L705.5,428 M590.0,296 L722.0,428 M606.5,296 L738.5,428 M623.0,296 L755.0,428 M639.5,296 L771.5,428 M656.0,296 L788.0,428 M672.5,296 L804.5,428 M689.0,296 L821.0,428 M705.5,296 L837.5,428 M722.0,296 L854.0,428 M738.5,296 L870.5,428 M755.0,296 L887.0,428 M771.5,296 L903.5,428 M788.0,296 L920.0,428 M804.5,296 L936.5,428 M821.0,296 L953.0,428 M837.5,296 L969.5,428 M854.0,296 L986.0,428 M870.5,296 L1002.5,428" stroke="#7A6A5C" stroke-width="0.8" fill="none"/>
<path clip-path="url(#hc2)" d="M-111.1,296 L20.9,428 M-94.5,296 L37.5,428 M-77.9,296 L54.1,428 M-61.4,296 L70.6,428 M-44.8,296 L87.2,428 M-28.3,296 L103.7,428 M-11.8,296 L120.2,428 M4.8,296 L136.8,428 M21.3,296 L153.3,428 M37.9,296 L169.9,428 M54.4,296 L186.4,428 M71.0,296 L203.0,428 M87.6,296 L219.6,428 M104.1,296 L236.1,428 M120.6,296 L252.6,428 M137.2,296 L269.2,428 M153.8,296 L285.8,428 M170.3,296 L302.3,428 M186.9,296 L318.9,428 M203.4,296 L335.4,428 M219.9,296 L351.9,428 M236.5,296 L368.5,428 M253.1,296 L385.1,428 M269.6,296 L401.6,428 M286.1,296 L418.1,428 M302.7,296 L434.7,428 M319.2,296 L451.2,428 M335.8,296 L467.8,428 M352.4,296 L484.4,428 M368.9,296 L500.9,428 M385.4,296 L517.5,428 M402.0,296 L534.0,428 M418.6,296 L550.5,428 M435.1,296 L567.1,428 M451.6,296 L583.6,428 M468.2,296 L600.2,428 M484.8,296 L616.8,428 M501.3,296 L633.3,428 M517.9,296 L649.9,428 M534.4,296 L666.4,428 M551.0,296 L683.0,428 M567.5,296 L699.5,428 M584.0,296 L716.0,428 M600.6,296 L732.6,428 M617.1,296 L749.1,428 M633.7,296 L765.7,428 M650.2,296 L782.2,428 M666.8,296 L798.8,428 M683.4,296 L815.4,428 M699.9,296 L831.9,428 M716.5,296 L848.5,428 M733.0,296 L865.0,428 M749.5,296 L881.5,428 M766.1,296 L898.1,428 M782.7,296 L914.7,428 M799.2,296 L931.2,428 M815.8,296 L947.8,428 M832.3,296 L964.3,428 M848.9,296 L980.9,428 M865.4,296 L997.4,428" stroke="#86825f" stroke-width="0.8" fill="none"/>
<path clip-path="url(#hc3)" d="M-100.9,296 L31.1,428 M-84.5,296 L47.5,428 M-68.1,296 L63.9,428 M-51.7,296 L80.3,428 M-35.3,296 L96.7,428 M-18.9,296 L113.1,428 M-2.5,296 L129.5,428 M13.9,296 L145.9,428 M30.3,296 L162.3,428 M46.7,296 L178.7,428 M63.1,296 L195.1,428 M79.5,296 L211.5,428 M95.9,296 L227.9,428 M112.3,296 L244.3,428 M128.7,296 L260.7,428 M145.1,296 L277.1,428 M161.5,296 L293.5,428 M177.9,296 L309.9,428 M194.3,296 L326.3,428 M210.7,296 L342.7,428 M227.1,296 L359.1,428 M243.5,296 L375.5,428 M259.9,296 L391.9,428 M276.3,296 L408.3,428 M292.7,296 L424.7,428 M309.1,296 L441.1,428 M325.5,296 L457.5,428 M341.9,296 L473.9,428 M358.3,296 L490.3,428 M374.7,296 L506.7,428 M391.1,296 L523.1,428 M407.5,296 L539.5,428 M423.9,296 L555.9,428 M440.3,296 L572.3,428 M456.7,296 L588.7,428 M473.1,296 L605.1,428 M489.5,296 L621.5,428 M505.9,296 L637.9,428 M522.3,296 L654.3,428 M538.7,296 L670.7,428 M555.1,296 L687.1,428 M571.5,296 L703.5,428 M587.9,296 L719.9,428 M604.3,296 L736.3,428 M620.7,296 L752.7,428 M637.1,296 L769.1,428 M653.5,296 L785.5,428 M669.9,296 L801.9,428 M686.3,296 L818.3,428 M702.7,296 L834.7,428 M719.1,296 L851.1,428 M735.5,296 L867.5,428 M751.9,296 L883.9,428 M768.3,296 L900.3,428 M784.7,296 L916.7,428 M801.1,296 L933.1,428 M817.5,296 L949.5,428 M833.9,296 L965.9,428 M850.3,296 L982.3,428 M866.7,296 L998.7,428" stroke="#7A6A5C" stroke-width="0.8" fill="none"/>
<line x1="44" y1="296" x2="877" y2="296" stroke="#a89a8a" stroke-width="1" stroke-dasharray="8,5"/>
<line x1="45" y1="148" x2="45" y2="428" stroke="#F58A2C" stroke-width="1" stroke-dasharray="6,2,1.5,2" opacity="0.85"/>
<line x1="174.6" y1="148" x2="174.6" y2="428" stroke="#F58A2C" stroke-width="1" stroke-dasharray="6,2,1.5,2" opacity="0.85"/>
<line x1="317.4" y1="148" x2="317.4" y2="428" stroke="#F58A2C" stroke-width="1" stroke-dasharray="6,2,1.5,2" opacity="0.85"/>
<line x1="460.2" y1="148" x2="460.2" y2="428" stroke="#F58A2C" stroke-width="1" stroke-dasharray="6,2,1.5,2" opacity="0.85"/>
<line x1="602.5" y1="148" x2="602.5" y2="428" stroke="#F58A2C" stroke-width="1" stroke-dasharray="6,2,1.5,2" opacity="0.85"/>
<line x1="744.8" y1="148" x2="744.8" y2="428" stroke="#F58A2C" stroke-width="1" stroke-dasharray="6,2,1.5,2" opacity="0.85"/>
<line x1="874.5" y1="148" x2="874.5" y2="428" stroke="#F58A2C" stroke-width="1" stroke-dasharray="6,2,1.5,2" opacity="0.85"/>
<line x1="33" y1="159.8" x2="890" y2="159.8" stroke="#F7702A" stroke-width="1.6" stroke-dasharray="5.5,1.8,1.6,1.8"/>
<line x1="33" y1="424.3" x2="890" y2="424.3" stroke="#F58A2C" stroke-width="1.2" stroke-dasharray="7,2.5,2,2.5"/>
<circle cx="45" cy="142" r="6.1" fill="none" stroke="#F58A2C" stroke-width="1"/>
<text x="45" y="145.3" font-size="8.8" fill="#F58A2C" stroke="#F58A2C" stroke-width="0.35" text-anchor="middle">1</text>
<circle cx="174.6" cy="142" r="6.1" fill="none" stroke="#F58A2C" stroke-width="1"/>
<text x="174.6" y="145.3" font-size="8.8" fill="#F58A2C" stroke="#F58A2C" stroke-width="0.35" text-anchor="middle">2</text>
<circle cx="317.4" cy="142" r="6.1" fill="none" stroke="#F58A2C" stroke-width="1"/>
<text x="317.4" y="145.3" font-size="8.8" fill="#F58A2C" stroke="#F58A2C" stroke-width="0.35" text-anchor="middle">3</text>
<circle cx="460.2" cy="142" r="6.1" fill="none" stroke="#F58A2C" stroke-width="1"/>
<text x="460.2" y="145.3" font-size="8.8" fill="#F58A2C" stroke="#F58A2C" stroke-width="0.35" text-anchor="middle">4</text>
<circle cx="602.5" cy="142" r="6.1" fill="none" stroke="#F58A2C" stroke-width="1"/>
<text x="602.5" y="145.3" font-size="8.8" fill="#F58A2C" stroke="#F58A2C" stroke-width="0.35" text-anchor="middle">5</text>
<circle cx="744.8" cy="142" r="6.1" fill="none" stroke="#F58A2C" stroke-width="1"/>
<text x="744.8" y="145.3" font-size="8.8" fill="#F58A2C" stroke="#F58A2C" stroke-width="0.35" text-anchor="middle">6</text>
<circle cx="874.5" cy="142" r="6.1" fill="none" stroke="#F58A2C" stroke-width="1"/>
<text x="874.5" y="145.3" font-size="8.8" fill="#F58A2C" stroke="#F58A2C" stroke-width="0.35" text-anchor="middle">7</text>
<circle cx="27.2" cy="159.8" r="6.1" fill="none" stroke="#F58A2C" stroke-width="1"/>
<text x="27.2" y="163.0" font-size="8.8" fill="#F58A2C" stroke="#F58A2C" stroke-width="0.35" text-anchor="middle">A</text>
<circle cx="27.2" cy="424.3" r="6.1" fill="none" stroke="#F58A2C" stroke-width="1"/>
<text x="27.2" y="427.5" font-size="8.8" fill="#F58A2C" stroke="#F58A2C" stroke-width="0.35" text-anchor="middle">B</text>
<rect x="41.5" y="154.3" width="838" height="2" fill="#2a2a2a"/>
<rect x="41.5" y="156.2" width="835" height="1.3" fill="#8a8a8a"/>
<rect x="41.8" y="155" width="2.8" height="273" fill="#8a8a8a"/>
<rect x="876.6" y="155" width="2.4" height="273" fill="#2a2a2a"/>
<rect x="883.2" y="118.5" width="1.4" height="310" fill="#555"/>
<rect x="41.5" y="427.6" width="843" height="1.8" fill="#e6e6e6"/>
<line x1="41.5" y1="427.3" x2="884" y2="427.3" stroke="#222" stroke-width="0.9"/>
<line x1="41.5" y1="429.5" x2="884" y2="429.5" stroke="#222" stroke-width="0.9"/>
<rect x="315.5" y="156" width="2.6" height="272" fill="#8f8f8f"/>
<line x1="316.8" y1="156" x2="316.8" y2="428" stroke="#F58A2C" stroke-width="0.9" stroke-dasharray="3,2"/>
<rect x="601.0" y="156" width="2.6" height="272" fill="#8f8f8f"/>
<line x1="602.3" y1="156" x2="602.3" y2="428" stroke="#F58A2C" stroke-width="0.9" stroke-dasharray="3,2"/>
<rect x="92.5" y="154" width="22.0" height="1.2" fill="#fff"/>
<line x1="92.5" y1="155.2" x2="114.5" y2="155.2" stroke="#111" stroke-width="0.9"/>
<path d="M92.5,145.3 Q103.5,145.3 103.5,155.5 Q103.5,145.3 114.5,145.3" fill="none" stroke="#111" stroke-width="0.9"/>
<path d="M92.5,145 L92.5,157.3 M114.5,145 L114.5,157.3" fill="none" stroke="#000" stroke-width="1.6"/>
<path d="M100.1,140 L106.9,140 L103.5,146.3Z M103.1,139 L103.9,139 L103.9,140 L103.1,140Z" fill="#000"/>
<rect x="235" y="154" width="21.600000000000023" height="1.2" fill="#fff"/>
<line x1="235" y1="155.2" x2="256.6" y2="155.2" stroke="#111" stroke-width="0.9"/>
<path d="M235,145.3 Q245.8,145.3 245.8,155.5 Q245.8,145.3 256.6,145.3" fill="none" stroke="#111" stroke-width="0.9"/>
<path d="M235,145 L235,157.3 M256.6,145 L256.6,157.3" fill="none" stroke="#000" stroke-width="1.6"/>
<path d="M242.4,140 L249.20000000000002,140 L245.8,146.3Z M245.4,139 L246.20000000000002,139 L246.20000000000002,140 L245.4,140Z" fill="#000"/>
<rect x="376.5" y="154" width="22.0" height="1.2" fill="#fff"/>
<line x1="376.5" y1="155.2" x2="398.5" y2="155.2" stroke="#111" stroke-width="0.9"/>
<path d="M376.5,145.3 Q387.5,145.3 387.5,155.5 Q387.5,145.3 398.5,145.3" fill="none" stroke="#111" stroke-width="0.9"/>
<path d="M376.5,145 L376.5,157.3 M398.5,145 L398.5,157.3" fill="none" stroke="#000" stroke-width="1.6"/>
<path d="M384.1,140 L390.9,140 L387.5,146.3Z M387.1,139 L387.9,139 L387.9,140 L387.1,140Z" fill="#000"/>
<rect x="519" y="154" width="22" height="1.2" fill="#fff"/>
<line x1="519" y1="155.2" x2="541" y2="155.2" stroke="#111" stroke-width="0.9"/>
<path d="M519,145.3 Q530.0,145.3 530.0,155.5 Q530.0,145.3 541,145.3" fill="none" stroke="#111" stroke-width="0.9"/>
<path d="M519,145 L519,157.3 M541,145 L541,157.3" fill="none" stroke="#000" stroke-width="1.6"/>
<path d="M526.6,140 L533.4,140 L530.0,146.3Z M529.6,139 L530.4,139 L530.4,140 L529.6,140Z" fill="#000"/>
<rect x="661" y="154" width="22" height="1.2" fill="#fff"/>
<line x1="661" y1="155.2" x2="683" y2="155.2" stroke="#111" stroke-width="0.9"/>
<path d="M661,145.3 Q672.0,145.3 672.0,155.5 Q672.0,145.3 683,145.3" fill="none" stroke="#111" stroke-width="0.9"/>
<path d="M661,145 L661,157.3 M683,145 L683,157.3" fill="none" stroke="#000" stroke-width="1.6"/>
<path d="M668.6,140 L675.4,140 L672.0,146.3Z M671.6,139 L672.4,139 L672.4,140 L671.6,140Z" fill="#000"/>
<rect x="804" y="154" width="22" height="1.2" fill="#fff"/>
<line x1="804" y1="155.2" x2="826" y2="155.2" stroke="#111" stroke-width="0.9"/>
<path d="M804,145.3 Q815.0,145.3 815.0,155.5 Q815.0,145.3 826,145.3" fill="none" stroke="#111" stroke-width="0.9"/>
<path d="M804,145 L804,157.3 M826,145 L826,157.3" fill="none" stroke="#000" stroke-width="1.6"/>
<path d="M811.6,140 L818.4,140 L815.0,146.3Z M814.6,139 L815.4,139 L815.4,140 L814.6,140Z" fill="#000"/>
<line x1="45" y1="186.6" x2="877" y2="186.6" stroke="#3a2a1a" stroke-width="0.9"/>
<circle cx="45" cy="186.6" r="1.4" fill="#111"/>
<circle cx="317.4" cy="186.6" r="1.4" fill="#111"/>
<circle cx="602.5" cy="186.6" r="1.4" fill="#111"/>
<circle cx="877" cy="186.6" r="1.4" fill="#111"/>
<text x="167.1" y="184.6" font-size="12.3" fill="#2a1d12" stroke="#2a1d12" stroke-width="0.3" text-anchor="middle">23,07</text>
<text x="301.8" y="184.6" font-size="12.3" fill="#2a1d12" stroke="#2a1d12" stroke-width="0.3" text-anchor="middle">0,22</text>
<text x="459.2" y="184.6" font-size="12.3" fill="#2a1d12" stroke="#2a1d12" stroke-width="0.3" text-anchor="middle">23,96</text>
<text x="586.7" y="184.6" font-size="12.3" fill="#2a1d12" stroke="#2a1d12" stroke-width="0.3" text-anchor="middle">0,22</text>
<text x="739" y="184.6" font-size="12.3" fill="#2a1d12" stroke="#2a1d12" stroke-width="0.3" text-anchor="middle">23,13</text>
<line x1="836.7" y1="156" x2="836.7" y2="428" stroke="#5a4a3a" stroke-width="0.9"/>
<line x1="856.8" y1="156" x2="856.8" y2="428" stroke="#5a4a3a" stroke-width="0.9"/>
<circle cx="836.7" cy="296" r="1.3" fill="#222"/><circle cx="836.7" cy="186.6" r="1.2" fill="#222"/>
<text transform="translate(834.5,226.9) rotate(-90)" font-size="12.3" fill="#2a1d12" stroke="#2a1d12" stroke-width="0.3" text-anchor="middle">11,80</text>
<text transform="translate(854.6,292.3) rotate(-90)" font-size="12.3" fill="#2a1d12" stroke="#2a1d12" stroke-width="0.3" text-anchor="middle">22,95</text>
<text transform="translate(833.6,361.4) rotate(-90)" font-size="12.3" fill="#2a1d12" stroke="#2a1d12" stroke-width="0.3" text-anchor="middle">11,15</text>
<g stroke="#3a2a1a" stroke-width="0.9" fill="none" stroke-dasharray="2.6,2"><rect x="136.8" y="209.5" width="28.5" height="28.5"/><path d="M136.8,209.5 L165.3,238.0 M165.3,209.5 L136.8,238.0"/></g>
<g stroke="#3a2a1a" stroke-width="0.9" fill="none" stroke-dasharray="2.6,2"><rect x="184.1" y="209.5" width="28.5" height="28.5"/><path d="M184.1,209.5 L212.6,238.0 M212.6,209.5 L184.1,238.0"/></g>
<g stroke="#3a2a1a" stroke-width="0.9" fill="none" stroke-dasharray="2.6,2"><rect x="136.8" y="339" width="28.5" height="28.5"/><path d="M136.8,339 L165.3,367.5 M165.3,339 L136.8,367.5"/></g>
<g stroke="#3a2a1a" stroke-width="0.9" fill="none" stroke-dasharray="2.6,2"><rect x="184.1" y="339" width="28.5" height="28.5"/><path d="M184.1,339 L212.6,367.5 M212.6,339 L184.1,367.5"/></g>
<g stroke="#3a2a1a" stroke-width="0.9" fill="none" stroke-dasharray="2.6,2"><path d="M134.1,428 L134.1,387 L169.1,387 L169.1,428 M134.1,387 L169.1,428 M169.1,387 L134.1,428"/></g>
<g stroke="#3a2a1a" stroke-width="0.9" fill="none" stroke-dasharray="2.6,2"><rect x="422.4" y="209.5" width="28.5" height="28.5"/><path d="M422.4,209.5 L450.9,238.0 M450.9,209.5 L422.4,238.0"/></g>
<g stroke="#3a2a1a" stroke-width="0.9" fill="none" stroke-dasharray="2.6,2"><rect x="469.7" y="209.5" width="28.5" height="28.5"/><path d="M469.7,209.5 L498.2,238.0 M498.2,209.5 L469.7,238.0"/></g>
<g stroke="#3a2a1a" stroke-width="0.9" fill="none" stroke-dasharray="2.6,2"><rect x="422.4" y="339" width="28.5" height="28.5"/><path d="M422.4,339 L450.9,367.5 M450.9,339 L422.4,367.5"/></g>
<g stroke="#3a2a1a" stroke-width="0.9" fill="none" stroke-dasharray="2.6,2"><rect x="469.7" y="339" width="28.5" height="28.5"/><path d="M469.7,339 L498.2,367.5 M498.2,339 L469.7,367.5"/></g>
<g stroke="#3a2a1a" stroke-width="0.9" fill="none" stroke-dasharray="2.6,2"><path d="M419.7,428 L419.7,387 L454.7,387 L454.7,428 M419.7,387 L454.7,428 M454.7,387 L419.7,428"/></g>
<g stroke="#3a2a1a" stroke-width="0.9" fill="none" stroke-dasharray="2.6,2"><rect x="707.0" y="209.5" width="28.5" height="28.5"/><path d="M707.0,209.5 L735.5,238.0 M735.5,209.5 L707.0,238.0"/></g>
<g stroke="#3a2a1a" stroke-width="0.9" fill="none" stroke-dasharray="2.6,2"><rect x="754.3" y="209.5" width="28.5" height="28.5"/><path d="M754.3,209.5 L782.8,238.0 M782.8,209.5 L754.3,238.0"/></g>
<g stroke="#3a2a1a" stroke-width="0.9" fill="none" stroke-dasharray="2.6,2"><rect x="707.0" y="339" width="28.5" height="28.5"/><path d="M707.0,339 L735.5,367.5 M735.5,339 L707.0,367.5"/></g>
<g stroke="#3a2a1a" stroke-width="0.9" fill="none" stroke-dasharray="2.6,2"><rect x="754.3" y="339" width="28.5" height="28.5"/><path d="M754.3,339 L782.8,367.5 M782.8,339 L754.3,367.5"/></g>
<g stroke="#3a2a1a" stroke-width="0.9" fill="none" stroke-dasharray="2.6,2"><path d="M704.3,428 L704.3,387 L739.3,387 L739.3,428 M704.3,387 L739.3,428 M739.3,387 L704.3,428"/></g>
<text x="174.6" y="288" font-size="4.2" font-weight="bold" fill="#222" text-anchor="middle">Lot A6-1 &amp; 2</text>
<text x="174.6" y="295" font-size="3.5" fill="#444" text-anchor="middle">SDP RDC: 528 m²</text>
<text x="174.6" y="299" font-size="3.5" fill="#444" text-anchor="middle">SDP MEZ: 257 m²</text>
<text x="460.2" y="288" font-size="4.2" font-weight="bold" fill="#222" text-anchor="middle">Lot A6-3 &amp; 4</text>
<text x="460.2" y="295" font-size="3.5" fill="#444" text-anchor="middle">SDP RDC: 528 m²</text>
<text x="460.2" y="299" font-size="3.5" fill="#444" text-anchor="middle">SDP MEZ: 257 m²</text>
<text x="744.8" y="288" font-size="4.2" font-weight="bold" fill="#222" text-anchor="middle">Lot A6-5 &amp; 6</text>
<text x="744.8" y="295" font-size="3.5" fill="#444" text-anchor="middle">SDP RDC: 528 m²</text>
<text x="744.8" y="299" font-size="3.5" fill="#444" text-anchor="middle">SDP MEZ: 257 m²</text>
<path d="M42.900000000000006,157.3 L46.5,157.3 M44.7,157.3 L44.7,162.3 M42.900000000000006,162.3 L46.5,162.3" stroke="#111" stroke-width="0.9"/>
<path d="M113.60000000000001,157.3 L117.2,157.3 M115.4,157.3 L115.4,162.3 M113.60000000000001,162.3 L117.2,162.3" stroke="#111" stroke-width="0.9"/>
<path d="M174.79999999999998,157.3 L178.4,157.3 M176.6,157.3 L176.6,162.3 M174.79999999999998,162.3 L178.4,162.3" stroke="#111" stroke-width="0.9"/>
<path d="M231.6,157.3 L235.20000000000002,157.3 M233.4,157.3 L233.4,162.3 M231.6,162.3 L235.20000000000002,162.3" stroke="#111" stroke-width="0.9"/>
<path d="M316.7,157.3 L320.3,157.3 M318.5,157.3 L318.5,162.3 M316.7,162.3 L320.3,162.3" stroke="#111" stroke-width="0.9"/>
<path d="M398.59999999999997,157.3 L402.2,157.3 M400.4,157.3 L400.4,162.3 M398.59999999999997,162.3 L402.2,162.3" stroke="#111" stroke-width="0.9"/>
<path d="M459.5,157.3 L463.1,157.3 M461.3,157.3 L461.3,162.3 M459.5,162.3 L463.1,162.3" stroke="#111" stroke-width="0.9"/>
<path d="M516.6,157.3 L520.1999999999999,157.3 M518.4,157.3 L518.4,162.3 M516.6,162.3 L520.1999999999999,162.3" stroke="#111" stroke-width="0.9"/>
<path d="M601.5,157.3 L605.0999999999999,157.3 M603.3,157.3 L603.3,162.3 M601.5,162.3 L605.0999999999999,162.3" stroke="#111" stroke-width="0.9"/>
<path d="M683.6,157.3 L687.1999999999999,157.3 M685.4,157.3 L685.4,162.3 M683.6,162.3 L687.1999999999999,162.3" stroke="#111" stroke-width="0.9"/>
<path d="M744.8000000000001,157.3 L748.4,157.3 M746.6,157.3 L746.6,162.3 M744.8000000000001,162.3 L748.4,162.3" stroke="#111" stroke-width="0.9"/>
<path d="M801.3000000000001,157.3 L804.9,157.3 M803.1,157.3 L803.1,162.3 M801.3000000000001,162.3 L804.9,162.3" stroke="#111" stroke-width="0.9"/>
<path d="M873.4000000000001,157.3 L877.0,157.3 M875.2,157.3 L875.2,162.3 M873.4000000000001,162.3 L877.0,162.3" stroke="#111" stroke-width="0.9"/>
<path d="M114.2,421.5 L117.8,421.5 M116,421.5 L116,426.5" stroke="#3a2a10" stroke-width="0.9"/>
<path d="M224.2,421.5 L227.8,421.5 M226,421.5 L226,426.5" stroke="#3a2a10" stroke-width="0.9"/>
<path d="M271.2,421.5 L274.8,421.5 M273,421.5 L273,426.5" stroke="#3a2a10" stroke-width="0.9"/>
<path d="M329.2,421.5 L332.8,421.5 M331,421.5 L331,426.5" stroke="#3a2a10" stroke-width="0.9"/>
<path d="M406.2,421.5 L409.8,421.5 M408,421.5 L408,426.5" stroke="#3a2a10" stroke-width="0.9"/>
<path d="M452.2,421.5 L455.8,421.5 M454,421.5 L454,426.5" stroke="#3a2a10" stroke-width="0.9"/>
<path d="M457.2,421.5 L460.8,421.5 M459,421.5 L459,426.5" stroke="#3a2a10" stroke-width="0.9"/>
<path d="M558.2,421.5 L561.8,421.5 M560,421.5 L560,426.5" stroke="#3a2a10" stroke-width="0.9"/>
<path d="M627.2,421.5 L630.8,421.5 M629,421.5 L629,426.5" stroke="#3a2a10" stroke-width="0.9"/>
<path d="M689.7,421.5 L693.3,421.5 M691.5,421.5 L691.5,426.5" stroke="#3a2a10" stroke-width="0.9"/>
<path d="M743.2,421.5 L746.8,421.5 M745,421.5 L745,426.5" stroke="#3a2a10" stroke-width="0.9"/>
<rect x="48.0" y="162.5" width="5" height="5" fill="none" stroke="#7a5ad0" stroke-width="0.9"/><path d="M47.5,162 L53.5,168 M53.5,162 L47.5,168" stroke="#7a5ad0" stroke-width="0.8"/><text x="50.5" y="171.5" font-size="3" fill="#7a5ad0" text-anchor="middle">EP</text>
<rect x="179.5" y="162.5" width="5" height="5" fill="none" stroke="#7a5ad0" stroke-width="0.9"/><path d="M179,162 L185,168 M185,162 L179,168" stroke="#7a5ad0" stroke-width="0.8"/><text x="182" y="171.5" font-size="3" fill="#7a5ad0" text-anchor="middle">EP</text>
<rect x="320.0" y="162.5" width="5" height="5" fill="none" stroke="#3d8ee0" stroke-width="0.9"/><path d="M319.5,162 L325.5,168 M325.5,162 L319.5,168" stroke="#3d8ee0" stroke-width="0.8"/><text x="322.5" y="171.5" font-size="3" fill="#3d8ee0" text-anchor="middle">EP</text>
<rect x="606.0" y="162.5" width="5" height="5" fill="none" stroke="#4a7ad8" stroke-width="0.9"/><path d="M605.5,162 L611.5,168 M611.5,162 L605.5,168" stroke="#4a7ad8" stroke-width="0.8"/><text x="608.5" y="171.5" font-size="3" fill="#4a7ad8" text-anchor="middle">EP</text>
<rect x="748.5" y="162.5" width="5" height="5" fill="none" stroke="#4a7ad8" stroke-width="0.9"/><path d="M748,162 L754,168 M754,162 L748,168" stroke="#4a7ad8" stroke-width="0.8"/><text x="751" y="171.5" font-size="3" fill="#4a7ad8" text-anchor="middle">EP</text>
<circle cx="466" cy="165" r="2.3" fill="none" stroke="#3d8ee0" stroke-width="0.9"/><line x1="462" y1="165" x2="470" y2="165" stroke="#3d8ee0" stroke-width="0.6"/>
<circle cx="868" cy="165" r="2.3" fill="none" stroke="#4a7ad8" stroke-width="0.9"/><path d="M863,165 L873,165 M868,160 L868,170" stroke="#4a7ad8" stroke-width="0.7"/>
<rect x="49" y="417" width="4" height="4" fill="none" stroke="#4a7ad8" stroke-width="0.9"/><path d="M48.5,416.5 L53.5,421.5 M53.5,416.5 L48.5,421.5" stroke="#4a7ad8" stroke-width="0.7"/>
<rect x="604" y="417" width="4" height="4" fill="none" stroke="#4a7ad8" stroke-width="0.9"/><path d="M603.5,416.5 L608.5,421.5 M608.5,416.5 L603.5,421.5" stroke="#4a7ad8" stroke-width="0.7"/>
<rect x="746" y="417" width="4" height="4" fill="none" stroke="#4a7ad8" stroke-width="0.9"/><path d="M745.5,416.5 L750.5,421.5 M750.5,416.5 L745.5,421.5" stroke="#4a7ad8" stroke-width="0.7"/>
<rect x="867" y="417" width="4" height="4" fill="none" stroke="#4a7ad8" stroke-width="0.9"/><path d="M866.5,416.5 L871.5,421.5 M871.5,416.5 L866.5,421.5" stroke="#4a7ad8" stroke-width="0.7"/>
<rect x="305" y="417.5" width="6" height="3" fill="none" stroke="#e04030" stroke-width="0.8"/>
<rect x="329" y="417.5" width="6" height="3" fill="none" stroke="#e04030" stroke-width="0.8"/>
<rect x="615" y="417.5" width="6" height="3" fill="none" stroke="#e04030" stroke-width="0.8"/>
<rect x="614" y="417.5" width="6" height="3" fill="none" stroke="#e04030" stroke-width="0.8"/>
<circle cx="322" cy="419" r="2.2" fill="none" stroke="#e06020" stroke-width="0.8"/><path d="M318,419 L326,419 M322,415 L322,423" stroke="#e06020" stroke-width="0.6"/>
<path d="M309.5,308 L312.5,311 M312.5,308 L309.5,311" stroke="#c05010" stroke-width="0.8"/><path d="M309.5,312 L312.5,315 M312.5,312 L309.5,315" stroke="#7040d0" stroke-width="0.8"/>
<path d="M321.5,308 L324.5,311 M324.5,308 L321.5,311" stroke="#c05010" stroke-width="0.8"/><path d="M321.5,312 L324.5,315 M324.5,312 L321.5,315" stroke="#7040d0" stroke-width="0.8"/>
<path d="M594.5,308 L597.5,311 M597.5,308 L594.5,311" stroke="#c05010" stroke-width="0.8"/><path d="M594.5,312 L597.5,315 M597.5,312 L594.5,315" stroke="#7040d0" stroke-width="0.8"/>
<path d="M606.5,308 L609.5,311 M609.5,308 L606.5,311" stroke="#c05010" stroke-width="0.8"/><path d="M606.5,312 L609.5,315 M609.5,312 L606.5,315" stroke="#7040d0" stroke-width="0.8"/>
<line x1="127.5" y1="431" x2="127.5" y2="443" stroke="#e02020" stroke-width="0.8" stroke-dasharray="2,1.5"/>
<rect x="42" y="328" width="2.6" height="10" fill="#111"/>
<rect x="876" y="330" width="2.6" height="10" fill="#111"/>
<rect x="42" y="376.5" width="2.6" height="10.5" fill="#111"/>
<rect x="876" y="378.5" width="2.6" height="10.5" fill="#111"/>
<text x="46" y="294" font-size="3.2" fill="#5a4a3a">Poutre de chevêtre</text><text x="46" y="298" font-size="3.2" fill="#5a4a3a">de mezzanine</text>
<text x="320" y="294" font-size="3.2" fill="#5a4a3a">Poutre de chevêtre</text><text x="320" y="298" font-size="3.2" fill="#5a4a3a">de mezzanine</text>
<text x="605" y="294" font-size="3.2" fill="#5a4a3a">Poutre de chevêtre</text><text x="605" y="298" font-size="3.2" fill="#5a4a3a">de mezzanine</text>
<rect x="884" y="249.8" width="29" height="2.4" fill="#ddd" stroke="#333" stroke-width="0.6"/>
<rect x="884" y="308.2" width="29" height="2.4" fill="#ddd" stroke="#333" stroke-width="0.6"/>
<rect x="884" y="367.5" width="29" height="2.4" fill="#ddd" stroke="#333" stroke-width="0.6"/>
<rect x="911.3" y="250" width="2.4" height="178.5" fill="#ddd" stroke="#333" stroke-width="0.6"/>
<rect x="216.9" y="429.5" width="2.6" height="59.0" fill="#f4f4f4" stroke="#2a2a2a" stroke-width="0.85"/>
<rect x="245.20000000000002" y="429.5" width="2.6" height="59.0" fill="#f4f4f4" stroke="#2a2a2a" stroke-width="0.85"/>
<rect x="273.7" y="429.5" width="2.6" height="59.0" fill="#f4f4f4" stroke="#2a2a2a" stroke-width="0.85"/>
<rect x="301.9" y="429.5" width="2.6" height="59.0" fill="#f4f4f4" stroke="#2a2a2a" stroke-width="0.85"/>
<rect x="330.4" y="429.5" width="2.6" height="59.0" fill="#f4f4f4" stroke="#2a2a2a" stroke-width="0.85"/>
<rect x="358.59999999999997" y="429.5" width="2.6" height="59.0" fill="#f4f4f4" stroke="#2a2a2a" stroke-width="0.85"/>
<rect x="387.09999999999997" y="429.5" width="2.6" height="59.0" fill="#f4f4f4" stroke="#2a2a2a" stroke-width="0.85"/>
<rect x="415.0" y="429.5" width="2.6" height="59.0" fill="#f4f4f4" stroke="#2a2a2a" stroke-width="0.85"/>
<rect x="501.7" y="429.5" width="2.6" height="59.0" fill="#f4f4f4" stroke="#2a2a2a" stroke-width="0.85"/>
<rect x="530.1" y="429.5" width="2.6" height="59.0" fill="#f4f4f4" stroke="#2a2a2a" stroke-width="0.85"/>
<rect x="558.6999999999999" y="429.5" width="2.6" height="59.0" fill="#f4f4f4" stroke="#2a2a2a" stroke-width="0.85"/>
<rect x="586.9" y="429.5" width="2.6" height="59.0" fill="#f4f4f4" stroke="#2a2a2a" stroke-width="0.85"/>
<rect x="615.4" y="429.5" width="2.6" height="59.0" fill="#f4f4f4" stroke="#2a2a2a" stroke-width="0.85"/>
<rect x="643.3" y="429.5" width="2.6" height="59.0" fill="#f4f4f4" stroke="#2a2a2a" stroke-width="0.85"/>
<rect x="671.8" y="429.5" width="2.6" height="59.0" fill="#f4f4f4" stroke="#2a2a2a" stroke-width="0.85"/>
<rect x="700.1999999999999" y="429.5" width="2.6" height="59.0" fill="#f4f4f4" stroke="#2a2a2a" stroke-width="0.85"/>
<rect x="786.9" y="429.5" width="2.6" height="59.0" fill="#f4f4f4" stroke="#2a2a2a" stroke-width="0.85"/>
<rect x="815.3" y="429.5" width="2.6" height="59.0" fill="#f4f4f4" stroke="#2a2a2a" stroke-width="0.85"/>
<rect x="843.8" y="429.5" width="2.6" height="59.0" fill="#f4f4f4" stroke="#2a2a2a" stroke-width="0.85"/>
<rect x="882.6" y="429.5" width="2.6" height="59.0" fill="#f4f4f4" stroke="#2a2a2a" stroke-width="0.85"/>
<rect x="165.4" y="557.5" width="2.6" height="59.0" fill="#f4f4f4" stroke="#2a2a2a" stroke-width="0.85"/>
<rect x="194.6" y="557.5" width="2.6" height="59.0" fill="#f4f4f4" stroke="#2a2a2a" stroke-width="0.85"/>
<rect x="223.9" y="557.5" width="2.6" height="59.0" fill="#f4f4f4" stroke="#2a2a2a" stroke-width="0.85"/>
<rect x="253.5" y="557.5" width="2.6" height="59.0" fill="#f4f4f4" stroke="#2a2a2a" stroke-width="0.85"/>
<rect x="282.9" y="557.5" width="2.6" height="59.0" fill="#f4f4f4" stroke="#2a2a2a" stroke-width="0.85"/>
<rect x="312.5" y="557.5" width="2.6" height="59.0" fill="#f4f4f4" stroke="#2a2a2a" stroke-width="0.85"/>
<rect x="500.29999999999995" y="557.5" width="2.6" height="59.0" fill="#f4f4f4" stroke="#2a2a2a" stroke-width="0.85"/>
<rect x="529.8" y="557.5" width="2.6" height="59.0" fill="#f4f4f4" stroke="#2a2a2a" stroke-width="0.85"/>
<rect x="559.1999999999999" y="557.5" width="2.6" height="59.0" fill="#f4f4f4" stroke="#2a2a2a" stroke-width="0.85"/>
<rect x="588.6" y="557.5" width="2.6" height="59.0" fill="#f4f4f4" stroke="#2a2a2a" stroke-width="0.85"/>
<rect x="618.3" y="557.5" width="2.6" height="59.0" fill="#f4f4f4" stroke="#2a2a2a" stroke-width="0.85"/>
<rect x="647.5" y="557.5" width="2.6" height="59.0" fill="#f4f4f4" stroke="#2a2a2a" stroke-width="0.85"/>
<rect x="676.9" y="557.5" width="2.6" height="59.0" fill="#f4f4f4" stroke="#2a2a2a" stroke-width="0.85"/>
<rect x="706.6" y="557.5" width="2.6" height="59.0" fill="#f4f4f4" stroke="#2a2a2a" stroke-width="0.85"/>
<rect x="735.9" y="557.5" width="2.6" height="59.0" fill="#f4f4f4" stroke="#2a2a2a" stroke-width="0.85"/>
<rect x="765.5" y="557.5" width="2.6" height="59.0" fill="#f4f4f4" stroke="#2a2a2a" stroke-width="0.85"/>
<rect x="794.9" y="557.5" width="2.6" height="59.0" fill="#f4f4f4" stroke="#2a2a2a" stroke-width="0.85"/>
<rect x="74" y="468.40000000000003" width="59" height="2.6" fill="#f0f0f0" stroke="#2a2a2a" stroke-width="0.85"/>
<rect x="74" y="497.90000000000003" width="59" height="2.6" fill="#f0f0f0" stroke="#2a2a2a" stroke-width="0.85"/>
<rect x="74" y="527.4" width="59" height="2.6" fill="#f0f0f0" stroke="#2a2a2a" stroke-width="0.85"/>
<rect x="966.6" y="148.3" width="58.39999999999998" height="2.6" fill="#f0f0f0" stroke="#2a2a2a" stroke-width="0.85"/>
<rect x="966.6" y="177.4" width="58.39999999999998" height="2.6" fill="#f0f0f0" stroke="#2a2a2a" stroke-width="0.85"/>
<path d="M147.5,444.5 L154.5,444.5 L151,437.5Z" fill="#000"/>
<path d="M195.3,444.5 L202.3,444.5 L198.8,437.5Z" fill="#000"/>
<path d="M433.1,444.5 L440.1,444.5 L436.6,437.5Z" fill="#000"/>
<path d="M480.7,444.5 L487.7,444.5 L484.2,437.5Z" fill="#000"/>
<path d="M718.5,444.5 L725.5,444.5 L722,437.5Z" fill="#000"/>
<path d="M766.1,444.5 L773.1,444.5 L769.6,437.5Z" fill="#000"/>
<rect x="133.5" y="427.2" width="36" height="1.8" fill="#111"/>
<rect x="170.5" y="427.5" width="12" height="2.5" fill="#888" stroke="#333" stroke-width="0.4"/>
<rect x="183.5" y="427.5" width="32" height="1.2" fill="#222"/>
<rect x="135.5" y="429.6" width="34" height="1.6" fill="#aaa"/>
<rect x="183.5" y="429.6" width="32" height="1.6" fill="#bbb"/>
<path d="M205.5,430 A10,9.5 0 0 0 215.5,439.5" fill="none" stroke="#333" stroke-width="0.8"/>
<rect x="214.7" y="429" width="1.8" height="11" fill="#111"/>
<circle cx="133.5" cy="434" r="1" fill="none" stroke="#333" stroke-width="0.6"/>
<circle cx="169.0" cy="434" r="1" fill="none" stroke="#333" stroke-width="0.6"/>
<circle cx="180.5" cy="434" r="1" fill="none" stroke="#333" stroke-width="0.6"/>
<rect x="418.5" y="427.2" width="36" height="1.8" fill="#111"/>
<rect x="455.5" y="427.5" width="12" height="2.5" fill="#888" stroke="#333" stroke-width="0.4"/>
<rect x="468.5" y="427.5" width="32" height="1.2" fill="#222"/>
<rect x="420.5" y="429.6" width="34" height="1.6" fill="#aaa"/>
<rect x="468.5" y="429.6" width="32" height="1.6" fill="#bbb"/>
<path d="M490.5,430 A10,9.5 0 0 0 500.5,439.5" fill="none" stroke="#333" stroke-width="0.8"/>
<rect x="499.7" y="429" width="1.8" height="11" fill="#111"/>
<circle cx="418.5" cy="434" r="1" fill="none" stroke="#333" stroke-width="0.6"/>
<circle cx="454.0" cy="434" r="1" fill="none" stroke="#333" stroke-width="0.6"/>
<circle cx="465.5" cy="434" r="1" fill="none" stroke="#333" stroke-width="0.6"/>
<rect x="703.8" y="427.2" width="36" height="1.8" fill="#111"/>
<rect x="740.8" y="427.5" width="12" height="2.5" fill="#888" stroke="#333" stroke-width="0.4"/>
<rect x="753.8" y="427.5" width="32" height="1.2" fill="#222"/>
<rect x="705.8" y="429.6" width="34" height="1.6" fill="#aaa"/>
<rect x="753.8" y="429.6" width="32" height="1.6" fill="#bbb"/>
<path d="M775.8,430 A10,9.5 0 0 0 785.8,439.5" fill="none" stroke="#333" stroke-width="0.8"/>
<rect x="785.0" y="429" width="1.8" height="11" fill="#111"/>
<circle cx="703.8" cy="434" r="1" fill="none" stroke="#333" stroke-width="0.6"/>
<circle cx="739.3" cy="434" r="1" fill="none" stroke="#333" stroke-width="0.6"/>
<circle cx="750.8" cy="434" r="1" fill="none" stroke="#333" stroke-width="0.6"/>
<g transform="translate(862.8,462)"><g fill="none" stroke="#111" stroke-linecap="round"><circle cx="0" cy="-9.4" r="1.3" stroke-width="1.1"/><path d="M-0.6,-7.5 L-0.6,-2 L4.4,-2 L6.4,1.8 L8.6,0.5" stroke-width="1.4"/><path d="M-0.6,-5.2 L2.8,-5.2" stroke-width="1.4"/><path d="M-2.4,-4.4 A4.8,4.8 0 1 0 4.6,1.3" stroke-width="1.4"/></g></g>
<g transform="translate(106,450.5) rotate(-90)"><g fill="none" stroke="#111" stroke-linecap="round"><circle cx="0" cy="-9.4" r="1.3" stroke-width="1.1"/><path d="M-0.6,-7.5 L-0.6,-2 L4.4,-2 L6.4,1.8 L8.6,0.5" stroke-width="1.4"/><path d="M-0.6,-5.2 L2.8,-5.2" stroke-width="1.4"/><path d="M-2.4,-4.4 A4.8,4.8 0 1 0 4.6,1.3" stroke-width="1.4"/></g></g>
<path d="M479,589 Q481,592 481.5,587 Q482,581 488,581 Q492,581 497,586 Q499,589 497,590.8 L484,590.8" fill="none" stroke="#111" stroke-width="1.3"/>
<path d="M476,585.5 L478,589 L478.5,586.5 L480.5,590" fill="none" stroke="#111" stroke-width="1"/>
<circle cx="484" cy="591.3" r="1.5" fill="#111"/><circle cx="493.5" cy="591.3" r="1.5" fill="#111"/>
<path d="M508.4,589 Q510.4,592 510.9,587 Q511.4,581 517.4,581 Q521.4,581 526.4,586 Q528.4,589 526.4,590.8 L513.4,590.8" fill="none" stroke="#111" stroke-width="1.3"/>
<path d="M505.4,585.5 L507.4,589 L507.9,586.5 L509.9,590" fill="none" stroke="#111" stroke-width="1"/>
<circle cx="513.4" cy="591.3" r="1.5" fill="#111"/><circle cx="522.9" cy="591.3" r="1.5" fill="#111"/>
<path d="M537.8,589 Q539.8,592 540.3,587 Q540.8,581 546.8,581 Q550.8,581 555.8,586 Q557.8,589 555.8,590.8 L542.8,590.8" fill="none" stroke="#111" stroke-width="1.3"/>
<path d="M534.8,585.5 L536.8,589 L537.3,586.5 L539.3,590" fill="none" stroke="#111" stroke-width="1"/>
<circle cx="542.8" cy="591.3" r="1.5" fill="#111"/><circle cx="552.3" cy="591.3" r="1.5" fill="#111"/>
<path d="M567.2,589 Q569.2,592 569.7,587 Q570.2,581 576.2,581 Q580.2,581 585.2,586 Q587.2,589 585.2,590.8 L572.2,590.8" fill="none" stroke="#111" stroke-width="1.3"/>
<path d="M564.2,585.5 L566.2,589 L566.7,586.5 L568.7,590" fill="none" stroke="#111" stroke-width="1"/>
<circle cx="572.2" cy="591.3" r="1.5" fill="#111"/><circle cx="581.7" cy="591.3" r="1.5" fill="#111"/>
<path d="M405,578.6 L408.5,578.6 L408.5,607 L413,607 L406.8,634 L400.5,607 L405,607 Z" fill="#fff" stroke="#222" stroke-width="0.8"/>
<path d="M923.5,634 L923.5,613 L918,613 L924.8,578 L931.5,613 L926,613 L926,634" fill="#fff" stroke="#222" stroke-width="0.8"/>
<path d="M826,620 L826,570.5 L866,570.5" fill="none" stroke="#333" stroke-width="1.6"/><path d="M826,620 L826,570.5 L866,570.5" fill="none" stroke="#bbb" stroke-width="0.6" stroke-dasharray="1,1"/>
<path d="M826,620 L878,620" fill="none" stroke="#333" stroke-width="1.6"/>
<rect x="828" y="572.5" width="15.5" height="9" fill="#fff" stroke="#111" stroke-width="1.2"/><path d="M835.75,572.5 L835.75,581.5 M829,573.5 L835.75,580.5 L842.5,573.5" stroke="#222" stroke-width="0.6" fill="none"/>
<rect x="846" y="572.5" width="16" height="9" fill="#fff" stroke="#111" stroke-width="1.2"/><path d="M854.0,572.5 L854.0,581.5 M847,573.5 L854.0,580.5 L861,573.5" stroke="#222" stroke-width="0.6" fill="none"/>
<rect x="828" y="583.5" width="16" height="9" fill="#fff" stroke="#111" stroke-width="1.2"/><path d="M836.0,583.5 L836.0,592.5 M829,584.5 L836.0,591.5 L843,584.5" stroke="#222" stroke-width="0.6" fill="none"/>
<rect x="828" y="594.5" width="16" height="9" fill="#fff" stroke="#111" stroke-width="1.2"/><path d="M836.0,594.5 L836.0,603.5 M829,595.5 L836.0,602.5 L843,595.5" stroke="#222" stroke-width="0.6" fill="none"/>
<rect x="828" y="605.5" width="16" height="9" fill="#fff" stroke="#111" stroke-width="1.2"/><path d="M836.0,605.5 L836.0,614.5 M829,606.5 L836.0,613.5 L843,606.5" stroke="#222" stroke-width="0.6" fill="none"/>
<path d="M42.0,96.2 L42.0,101.3 L44.5,102.3 L46.7,102.0 L49.8,100.4 L53.3,100.3 L56.6,100.4 L58.9,101.6 L63.3,100.6 L66.0,102.3 L70.9,102.1 L74.0,103.4 L76.2,103.0 L79.1,100.7 L81.4,101.2 L85.9,100.8 L89.6,102.3 L92.7,102.0 L94.9,100.4 L97.5,102.4 L100.8,101.2 L104.6,101.7 L107.5,102.8 L111.6,101.0 L115.3,101.9 L119.9,102.6 L122.8,103.4 L125.1,101.6 L129.4,100.7 L132.9,100.3 L136.9,102.7 L140.6,103.1 L143.5,102.5 L147.3,102.1 L150.7,103.0 L155.5,101.8 L159.5,100.4 L163.6,102.3 L168.6,102.9 L171.4,101.5 L175.5,100.3 L178.8,100.8 L181.2,100.4 L185.5,100.6 L188.2,101.5 L192.8,100.5 L196.2,102.0 L200.8,102.9 L205.4,101.1 L208.7,101.4 L213.3,103.4 L215.8,100.8 L218.5,101.0 L221.9,102.1 L224.7,100.2 L228.0,101.4 L231.7,103.3 L235.8,101.9 L239.6,102.4 L241.8,103.2 L246.1,103.1 L250.5,101.5 L253.7,100.5 L257.6,100.4 L259.8,100.9 L262.3,101.3 L264.5,100.2 L266.9,100.5 L270.0,100.3 L274.6,102.2 L277.1,101.0 L280.1,101.4 L282.5,103.0 L287.5,101.7 L290.9,100.5 L293.2,101.3 L296.0,102.9 L298.5,100.3 L303.3,101.9 L305.8,102.0 L307.9,101.9 L312.8,103.0 L316.9,101.1 L320.0,100.8 L324.3,102.0 L328.6,101.3 L331.3,102.9 L336.3,103.0 L340.7,102.9 L344.9,100.9 L348.5,101.4 L350.5,100.3 L353.4,101.1 L357.5,103.4 L360.8,103.3 L365.8,103.4 L368.9,100.9 L371.5,100.8 L374.2,102.3 L378.9,103.0 L382.3,102.4 L386.7,100.5 L390.7,103.2 L395.0,102.7 L398.5,100.8 L402.8,101.3 L407.2,103.4 L410.4,101.5 L415.3,102.6 L417.8,100.6 L420.2,103.2 L424.6,100.7 L429.1,103.4 L433.1,101.4 L436.7,100.6 L438.8,103.4 L442.7,101.9 L447.5,101.6 L452.1,102.9 L454.8,101.0 L457.7,101.0 L461.4,101.1 L464.7,100.6 L469.4,101.4 L472.8,102.1 L477.5,101.6 L482.2,101.9 L485.8,101.9 L487.9,101.7 L490.4,100.2 L494.8,100.8 L498.3,102.6 L501.9,101.3 L505.5,102.0 L509.8,100.6 L513.5,101.0 L516.3,102.7 L519.9,102.1 L524.2,103.2 L527.5,102.2 L531.0,101.9 L535.1,101.7 L538.7,101.8 L543.5,102.5 L548.1,103.3 L550.9,102.0 L555.7,103.0 L558.1,100.6 L561.5,100.4 L564.2,100.4 L568.2,102.8 L572.9,100.7 L577.0,102.4 L579.5,103.1 L584.4,100.9 L589.2,101.5 L592.7,103.5 L597.2,100.7 L600.5,101.9 L603.5,100.8 L606.5,102.6 L608.5,102.0 L611.8,100.3 L614.8,102.3 L618.4,100.4 L623.3,102.8 L628.2,100.5 L631.0,100.3 L635.4,101.1 L637.8,101.6 L642.5,102.9 L645.3,100.7 L650.0,102.1 L654.1,100.5 L656.3,102.5 L659.6,100.4 L664.4,102.3 L668.8,100.5 L673.4,100.4 L678.0,101.7 L681.0,102.0 L685.8,101.1 L688.1,101.9 L690.9,100.6 L693.3,100.4 L695.9,101.2 L698.9,102.7 L701.7,101.9 L704.3,101.3 L706.3,101.0 L708.4,102.6 L712.0,100.8 L715.4,103.3 L717.8,102.9 L721.1,101.8 L725.6,101.5 L729.1,102.5 L734.0,101.3 L738.5,102.5 L742.4,101.5 L745.5,100.4 L747.9,100.4 L752.1,101.0 L754.6,100.5 L759.1,103.1 L763.1,101.1 L765.8,101.2 L769.2,100.7 L772.6,101.1 L777.4,103.4 L781.1,101.0 L786.0,101.2 L789.1,100.2 L792.2,101.8 L795.7,100.9 L799.2,100.2 L802.0,100.5 L805.2,100.3 L807.3,101.2 L810.0,102.1 L813.6,102.7 L817.5,102.6 L822.2,101.5 L825.2,103.4 L827.6,102.6 L831.5,100.3 L836.0,103.1 L839.9,102.6 L844.4,100.7 L847.9,101.9 L852.4,102.9 L856.9,102.1 L861.6,102.5 L865.7,101.0 L867.8,100.6 L870.8,100.5 L875.4,102.0 L879.2,102.3 L883.3,101.8 L885.3,102.8 L889.5,101.9 L893.1,102.4 L895.3,102.6 L898.1,100.4 L900.9,102.6 L903.5,102.6 L908.4,101.8 L911.6,101.8 L915.6,102.7 L919.5,102.3 L921.7,100.7 L924.5,102.7 L927.4,102.1 L929.4,100.4 L932.2,102.4 L936.3,102.4 L939.2,101.9 L942.6,101.7 L944.9,103.1 L947.5,103.4 L952.3,100.3 L955.7,102.9 L960.6,101.7 L963.4,100.9 L968.3,100.9 L972.0,100.7 L975.6,103.3 L978.0,102.9 L981.5,103.1 L985.6,101.0 L990.3,101.8 L992.4,100.2 L995.9,101.7 L998.8,100.7 L1001.8,101.2 L1006.3,100.2 L1010.6,103.0 L1012.9,103.3 L1017.1,103.2 L1019.9,101.4 L1023.1,103.5 L1026.9,101.4 L1030.2,101.1 L1032.3,100.5 L1036.8,101.1 L1041.6,101.0 L1044.4,101.9 L1047.0,101.4 L1051.9,103.1 L1056.3,102.3 L1061.0,103.3 L1064.7,102.6 L1066.8,102.6 L1070.2,102.7 L1071.0,102.0 L1071.0,96.2Z" fill="#5E8E6A"/>
<rect x="336.9" y="97.2" width="1" height="1" fill="#fff" opacity="0.8"/>
<rect x="994.8" y="97.6" width="1" height="1" fill="#fff" opacity="0.8"/>
<rect x="527.9" y="98.7" width="1" height="1" fill="#fff" opacity="0.8"/>
<rect x="348.8" y="100.7" width="1" height="1" fill="#fff" opacity="0.8"/>
<rect x="1045.7" y="98.3" width="1" height="1" fill="#fff" opacity="0.8"/>
<rect x="716.7" y="98.5" width="1" height="1" fill="#fff" opacity="0.8"/>
<rect x="615.4" y="99.0" width="1" height="1" fill="#fff" opacity="0.8"/>
<rect x="214.9" y="97.8" width="1" height="1" fill="#fff" opacity="0.8"/>
<rect x="256.5" y="101.5" width="1" height="1" fill="#fff" opacity="0.8"/>
<rect x="553.5" y="98.1" width="1" height="1" fill="#fff" opacity="0.8"/>
<rect x="973.7" y="102.0" width="1" height="1" fill="#fff" opacity="0.8"/>
<rect x="505.1" y="97.7" width="1" height="1" fill="#fff" opacity="0.8"/>
<rect x="240.6" y="97.5" width="1" height="1" fill="#fff" opacity="0.8"/>
<rect x="394.2" y="97.5" width="1" height="1" fill="#fff" opacity="0.8"/>
<rect x="288.6" y="98.3" width="1" height="1" fill="#fff" opacity="0.8"/>
<rect x="628.0" y="101.4" width="1" height="1" fill="#fff" opacity="0.8"/>
<rect x="812.9" y="99.1" width="1" height="1" fill="#fff" opacity="0.8"/>
<rect x="468.1" y="99.6" width="1" height="1" fill="#fff" opacity="0.8"/>
<rect x="430.0" y="98.7" width="1" height="1" fill="#fff" opacity="0.8"/>
<rect x="106.7" y="98.4" width="1" height="1" fill="#fff" opacity="0.8"/>
<rect x="1036.8" y="97.6" width="1" height="1" fill="#fff" opacity="0.8"/>
<rect x="560.0" y="100.1" width="1" height="1" fill="#fff" opacity="0.8"/>
<rect x="929.2" y="98.1" width="1" height="1" fill="#fff" opacity="0.8"/>
<rect x="321.3" y="98.2" width="1" height="1" fill="#fff" opacity="0.8"/>
<rect x="453.6" y="99.2" width="1" height="1" fill="#fff" opacity="0.8"/>
<rect x="1022.7" y="101.2" width="1" height="1" fill="#fff" opacity="0.8"/>
<rect x="939.5" y="97.1" width="1" height="1" fill="#fff" opacity="0.8"/>
<rect x="76.1" y="100.5" width="1" height="1" fill="#fff" opacity="0.8"/>
<rect x="962.9" y="99.4" width="1" height="1" fill="#fff" opacity="0.8"/>
<rect x="646.0" y="97.0" width="1" height="1" fill="#fff" opacity="0.8"/>
<rect x="445.1" y="101.6" width="1" height="1" fill="#fff" opacity="0.8"/>
<rect x="890.9" y="101.3" width="1" height="1" fill="#fff" opacity="0.8"/>
<rect x="1041.5" y="98.2" width="1" height="1" fill="#fff" opacity="0.8"/>
<rect x="155.0" y="97.8" width="1" height="1" fill="#fff" opacity="0.8"/>
<rect x="579.5" y="100.4" width="1" height="1" fill="#fff" opacity="0.8"/>
<rect x="1009.9" y="100.6" width="1" height="1" fill="#fff" opacity="0.8"/>
<rect x="707.8" y="100.8" width="1" height="1" fill="#fff" opacity="0.8"/>
<rect x="512.7" y="99.8" width="1" height="1" fill="#fff" opacity="0.8"/>
<rect x="83.6" y="100.9" width="1" height="1" fill="#fff" opacity="0.8"/>
<rect x="281.9" y="101.6" width="1" height="1" fill="#fff" opacity="0.8"/>
<rect x="705.9" y="98.5" width="1" height="1" fill="#fff" opacity="0.8"/>
<rect x="174.4" y="98.3" width="1" height="1" fill="#fff" opacity="0.8"/>
<rect x="696.5" y="100.5" width="1" height="1" fill="#fff" opacity="0.8"/>
<rect x="158.2" y="97.4" width="1" height="1" fill="#fff" opacity="0.8"/>
<rect x="581.6" y="99.9" width="1" height="1" fill="#fff" opacity="0.8"/>
<rect x="441.6" y="98.1" width="1" height="1" fill="#fff" opacity="0.8"/>
<rect x="660.3" y="97.1" width="1" height="1" fill="#fff" opacity="0.8"/>
<rect x="352.7" y="99.3" width="1" height="1" fill="#fff" opacity="0.8"/>
<rect x="1027.8" y="100.2" width="1" height="1" fill="#fff" opacity="0.8"/>
<rect x="950.6" y="99.4" width="1" height="1" fill="#fff" opacity="0.8"/>
<rect x="284.1" y="98.2" width="1" height="1" fill="#fff" opacity="0.8"/>
<rect x="1029.6" y="100.5" width="1" height="1" fill="#fff" opacity="0.8"/>
<rect x="358.7" y="97.1" width="1" height="1" fill="#fff" opacity="0.8"/>
<rect x="554.8" y="100.4" width="1" height="1" fill="#fff" opacity="0.8"/>
<rect x="474.4" y="98.3" width="1" height="1" fill="#fff" opacity="0.8"/>
<rect x="728.4" y="101.6" width="1" height="1" fill="#fff" opacity="0.8"/>
<rect x="275.9" y="97.2" width="1" height="1" fill="#fff" opacity="0.8"/>
<rect x="390.2" y="99.1" width="1" height="1" fill="#fff" opacity="0.8"/>
<rect x="744.0" y="98.0" width="1" height="1" fill="#fff" opacity="0.8"/>
<rect x="861.6" y="100.7" width="1" height="1" fill="#fff" opacity="0.8"/>
<rect x="561.5" y="98.0" width="1" height="1" fill="#fff" opacity="0.8"/>
<rect x="1039.0" y="98.6" width="1" height="1" fill="#fff" opacity="0.8"/>
<rect x="885.1" y="98.2" width="1" height="1" fill="#fff" opacity="0.8"/>
<rect x="270.4" y="100.8" width="1" height="1" fill="#fff" opacity="0.8"/>
<rect x="345.9" y="101.8" width="1" height="1" fill="#fff" opacity="0.8"/>
<rect x="552.2" y="97.9" width="1" height="1" fill="#fff" opacity="0.8"/>
<rect x="272.4" y="99.1" width="1" height="1" fill="#fff" opacity="0.8"/>
<rect x="726.3" y="101.7" width="1" height="1" fill="#fff" opacity="0.8"/>
<rect x="193.3" y="99.0" width="1" height="1" fill="#fff" opacity="0.8"/>
<rect x="261.7" y="101.9" width="1" height="1" fill="#fff" opacity="0.8"/>
<rect x="188.7" y="97.3" width="1" height="1" fill="#fff" opacity="0.8"/>
<rect x="104.8" y="99.0" width="1" height="1" fill="#fff" opacity="0.8"/>
<rect x="965.4" y="101.4" width="1" height="1" fill="#fff" opacity="0.8"/>
<rect x="795.5" y="102.0" width="1" height="1" fill="#fff" opacity="0.8"/>
<rect x="999.7" y="98.6" width="1" height="1" fill="#fff" opacity="0.8"/>
<rect x="233.5" y="101.7" width="1" height="1" fill="#fff" opacity="0.8"/>
<rect x="809.5" y="97.2" width="1" height="1" fill="#fff" opacity="0.8"/>
<rect x="725.4" y="98.9" width="1" height="1" fill="#fff" opacity="0.8"/>
<rect x="427.0" y="98.7" width="1" height="1" fill="#fff" opacity="0.8"/>
<rect x="216.8" y="97.0" width="1" height="1" fill="#fff" opacity="0.8"/>
<rect x="330.4" y="98.8" width="1" height="1" fill="#fff" opacity="0.8"/>
<rect x="1024.3" y="97.6" width="1" height="1" fill="#fff" opacity="0.8"/>
<rect x="1033.3" y="98.0" width="1" height="1" fill="#fff" opacity="0.8"/>
<rect x="409.3" y="101.1" width="1" height="1" fill="#fff" opacity="0.8"/>
<rect x="887.2" y="99.2" width="1" height="1" fill="#fff" opacity="0.8"/>
<rect x="93.6" y="99.4" width="1" height="1" fill="#fff" opacity="0.8"/>
<rect x="425.8" y="101.6" width="1" height="1" fill="#fff" opacity="0.8"/>
<rect x="241.2" y="98.8" width="1" height="1" fill="#fff" opacity="0.8"/>
<rect x="964.2" y="97.2" width="1" height="1" fill="#fff" opacity="0.8"/>
<rect x="464.9" y="101.1" width="1" height="1" fill="#fff" opacity="0.8"/>
<rect x="830.4" y="97.2" width="1" height="1" fill="#fff" opacity="0.8"/>
<rect x="78.8" y="97.3" width="1" height="1" fill="#fff" opacity="0.8"/>
<rect x="987.9" y="98.3" width="1" height="1" fill="#fff" opacity="0.8"/>
<rect x="810.5" y="101.5" width="1" height="1" fill="#fff" opacity="0.8"/>
<rect x="391.2" y="98.4" width="1" height="1" fill="#fff" opacity="0.8"/>
<rect x="1026.5" y="100.1" width="1" height="1" fill="#fff" opacity="0.8"/>
<rect x="312.3" y="100.6" width="1" height="1" fill="#fff" opacity="0.8"/>
<rect x="368.0" y="98.4" width="1" height="1" fill="#fff" opacity="0.8"/>
<rect x="46.9" y="100.8" width="1" height="1" fill="#fff" opacity="0.8"/>
<rect x="984.2" y="100.2" width="1" height="1" fill="#fff" opacity="0.8"/>
<rect x="1011.7" y="97.1" width="1" height="1" fill="#fff" opacity="0.8"/>
<rect x="283.2" y="99.4" width="1" height="1" fill="#fff" opacity="0.8"/>
<rect x="1025.6" y="101.8" width="1" height="1" fill="#fff" opacity="0.8"/>
<rect x="440.0" y="98.3" width="1" height="1" fill="#fff" opacity="0.8"/>
<rect x="484.5" y="99.5" width="1" height="1" fill="#fff" opacity="0.8"/>
<rect x="996.2" y="97.9" width="1" height="1" fill="#fff" opacity="0.8"/>
<rect x="867.2" y="100.7" width="1" height="1" fill="#fff" opacity="0.8"/>
<rect x="888.0" y="100.9" width="1" height="1" fill="#fff" opacity="0.8"/>
<rect x="666.7" y="98.6" width="1" height="1" fill="#fff" opacity="0.8"/>
<rect x="371.2" y="98.8" width="1" height="1" fill="#fff" opacity="0.8"/>
<rect x="846.4" y="97.4" width="1" height="1" fill="#fff" opacity="0.8"/>
<rect x="245.6" y="100.8" width="1" height="1" fill="#fff" opacity="0.8"/>
<rect x="297.0" y="97.3" width="1" height="1" fill="#fff" opacity="0.8"/>
<rect x="77.8" y="99.8" width="1" height="1" fill="#fff" opacity="0.8"/>
<rect x="377.6" y="101.9" width="1" height="1" fill="#fff" opacity="0.8"/>
<rect x="950.3" y="101.9" width="1" height="1" fill="#fff" opacity="0.8"/>
<rect x="315.0" y="97.4" width="1" height="1" fill="#fff" opacity="0.8"/>
<rect x="142.0" y="99.5" width="1" height="1" fill="#fff" opacity="0.8"/>
<rect x="771.9" y="99.2" width="1" height="1" fill="#fff" opacity="0.8"/>
<rect x="283.5" y="99.1" width="1" height="1" fill="#fff" opacity="0.8"/>
<rect x="680.1" y="100.4" width="1" height="1" fill="#fff" opacity="0.8"/>
<rect x="811.2" y="101.2" width="1" height="1" fill="#fff" opacity="0.8"/>
<rect x="725.4" y="97.6" width="1" height="1" fill="#fff" opacity="0.8"/>
<rect x="906.6" y="98.5" width="1" height="1" fill="#fff" opacity="0.8"/>
<rect x="625.2" y="98.9" width="1" height="1" fill="#fff" opacity="0.8"/>
<rect x="801.0" y="98.0" width="1" height="1" fill="#fff" opacity="0.8"/>
<rect x="297.1" y="98.2" width="1" height="1" fill="#fff" opacity="0.8"/>
<rect x="200.5" y="101.4" width="1" height="1" fill="#fff" opacity="0.8"/>
<rect x="636.9" y="98.6" width="1" height="1" fill="#fff" opacity="0.8"/>
<rect x="449.8" y="102.0" width="1" height="1" fill="#fff" opacity="0.8"/>
<rect x="564.0" y="98.2" width="1" height="1" fill="#fff" opacity="0.8"/>
<rect x="873.3" y="100.3" width="1" height="1" fill="#fff" opacity="0.8"/>
<rect x="1060.7" y="97.5" width="1" height="1" fill="#fff" opacity="0.8"/>
<rect x="530.6" y="101.1" width="1" height="1" fill="#fff" opacity="0.8"/>
<rect x="906.3" y="101.6" width="1" height="1" fill="#fff" opacity="0.8"/>
<rect x="84.5" y="98.5" width="1" height="1" fill="#fff" opacity="0.8"/>
<rect x="165.4" y="97.9" width="1" height="1" fill="#fff" opacity="0.8"/>
<rect x="1042.2" y="99.9" width="1" height="1" fill="#fff" opacity="0.8"/>
<rect x="998.3" y="98.9" width="1" height="1" fill="#fff" opacity="0.8"/>
<rect x="932.5" y="99.2" width="1" height="1" fill="#fff" opacity="0.8"/>
<rect x="310.0" y="100.9" width="1" height="1" fill="#fff" opacity="0.8"/>
<rect x="1014.2" y="97.5" width="1" height="1" fill="#fff" opacity="0.8"/>
<rect x="655.2" y="100.1" width="1" height="1" fill="#fff" opacity="0.8"/>
<rect x="266.5" y="98.8" width="1" height="1" fill="#fff" opacity="0.8"/>
<rect x="188.2" y="98.0" width="1" height="1" fill="#fff" opacity="0.8"/>
<rect x="304.8" y="100.0" width="1" height="1" fill="#fff" opacity="0.8"/>
<rect x="712.2" y="98.0" width="1" height="1" fill="#fff" opacity="0.8"/>
<rect x="54.7" y="98.6" width="1" height="1" fill="#fff" opacity="0.8"/>
<rect x="739.6" y="97.9" width="1" height="1" fill="#fff" opacity="0.8"/>
<rect x="363.6" y="98.0" width="1" height="1" fill="#fff" opacity="0.8"/>
<rect x="859.8" y="99.7" width="1" height="1" fill="#fff" opacity="0.8"/>
<rect x="108.0" y="97.5" width="1" height="1" fill="#fff" opacity="0.8"/>
<rect x="449.0" y="99.8" width="1" height="1" fill="#fff" opacity="0.8"/>
<rect x="699.4" y="97.5" width="1" height="1" fill="#fff" opacity="0.8"/>
<rect x="211.1" y="100.5" width="1" height="1" fill="#fff" opacity="0.8"/>
<rect x="463.9" y="98.4" width="1" height="1" fill="#fff" opacity="0.8"/>
<rect x="358.9" y="101.8" width="1" height="1" fill="#fff" opacity="0.8"/>
<rect x="363.8" y="99.8" width="1" height="1" fill="#fff" opacity="0.8"/>
<rect x="409.8" y="99.1" width="1" height="1" fill="#fff" opacity="0.8"/>
<rect x="930.6" y="102.0" width="1" height="1" fill="#fff" opacity="0.8"/>
<rect x="416.6" y="98.0" width="1" height="1" fill="#fff" opacity="0.8"/>
<rect x="790.7" y="98.0" width="1" height="1" fill="#fff" opacity="0.8"/>
<rect x="49.0" y="101.5" width="1" height="1" fill="#fff" opacity="0.8"/>
<rect x="478.2" y="101.1" width="1" height="1" fill="#fff" opacity="0.8"/>
<rect x="460.2" y="101.4" width="1" height="1" fill="#fff" opacity="0.8"/>
<rect x="516.4" y="97.8" width="1" height="1" fill="#fff" opacity="0.8"/>
<rect x="58.2" y="99.8" width="1" height="1" fill="#fff" opacity="0.8"/>
<rect x="701.0" y="101.5" width="1" height="1" fill="#fff" opacity="0.8"/>
<rect x="134.4" y="100.1" width="1" height="1" fill="#fff" opacity="0.8"/>
<rect x="423.9" y="99.5" width="1" height="1" fill="#fff" opacity="0.8"/>
<rect x="192.8" y="98.4" width="1" height="1" fill="#fff" opacity="0.8"/>
<rect x="578.2" y="101.6" width="1" height="1" fill="#fff" opacity="0.8"/>
<rect x="154.7" y="99.5" width="1" height="1" fill="#fff" opacity="0.8"/>
<rect x="869.5" y="101.8" width="1" height="1" fill="#fff" opacity="0.8"/>
<rect x="245.7" y="97.6" width="1" height="1" fill="#fff" opacity="0.8"/>
<rect x="1011.5" y="101.9" width="1" height="1" fill="#fff" opacity="0.8"/>
<rect x="538.8" y="97.3" width="1" height="1" fill="#fff" opacity="0.8"/>
<rect x="994.2" y="98.9" width="1" height="1" fill="#fff" opacity="0.8"/>
<rect x="971.6" y="100.1" width="1" height="1" fill="#fff" opacity="0.8"/>
<rect x="889.8" y="97.8" width="1" height="1" fill="#fff" opacity="0.8"/>
<rect x="850.0" y="98.1" width="1" height="1" fill="#fff" opacity="0.8"/>
<rect x="458.4" y="101.2" width="1" height="1" fill="#fff" opacity="0.8"/>
<rect x="894.6" y="97.9" width="1" height="1" fill="#fff" opacity="0.8"/>
<rect x="267.0" y="99.0" width="1" height="1" fill="#fff" opacity="0.8"/>
<rect x="574.9" y="98.9" width="1" height="1" fill="#fff" opacity="0.8"/>
<rect x="169.4" y="98.2" width="1" height="1" fill="#fff" opacity="0.8"/>
<rect x="787.5" y="101.5" width="1" height="1" fill="#fff" opacity="0.8"/>
<rect x="85.2" y="99.8" width="1" height="1" fill="#fff" opacity="0.8"/>
<rect x="820.9" y="97.2" width="1" height="1" fill="#fff" opacity="0.8"/>
<rect x="903.8" y="97.6" width="1" height="1" fill="#fff" opacity="0.8"/>
<rect x="658.7" y="99.8" width="1" height="1" fill="#fff" opacity="0.8"/>
<rect x="687.0" y="98.5" width="1" height="1" fill="#fff" opacity="0.8"/>
<rect x="474.4" y="99.9" width="1" height="1" fill="#fff" opacity="0.8"/>
<rect x="480.2" y="100.3" width="1" height="1" fill="#fff" opacity="0.8"/>
<rect x="501.9" y="99.2" width="1" height="1" fill="#fff" opacity="0.8"/>
<rect x="67.0" y="100.1" width="1" height="1" fill="#fff" opacity="0.8"/>
<rect x="545.7" y="98.2" width="1" height="1" fill="#fff" opacity="0.8"/>
<rect x="827.2" y="100.9" width="1" height="1" fill="#fff" opacity="0.8"/>
<rect x="513.7" y="97.9" width="1" height="1" fill="#fff" opacity="0.8"/>
<rect x="529.0" y="97.5" width="1" height="1" fill="#fff" opacity="0.8"/>
<rect x="174.9" y="99.2" width="1" height="1" fill="#fff" opacity="0.8"/>
<rect x="137.2" y="99.2" width="1" height="1" fill="#fff" opacity="0.8"/>
<rect x="566.9" y="97.2" width="1" height="1" fill="#fff" opacity="0.8"/>
<rect x="696.6" y="97.4" width="1" height="1" fill="#fff" opacity="0.8"/>
<rect x="796.3" y="100.9" width="1" height="1" fill="#fff" opacity="0.8"/>
<rect x="568.3" y="97.3" width="1" height="1" fill="#fff" opacity="0.8"/>
<rect x="560.5" y="98.9" width="1" height="1" fill="#fff" opacity="0.8"/>
<rect x="1019.5" y="97.7" width="1" height="1" fill="#fff" opacity="0.8"/>
<rect x="923.2" y="102.0" width="1" height="1" fill="#fff" opacity="0.8"/>
<rect x="794.9" y="101.1" width="1" height="1" fill="#fff" opacity="0.8"/>
<rect x="241.9" y="101.9" width="1" height="1" fill="#fff" opacity="0.8"/>
<rect x="548.2" y="101.8" width="1" height="1" fill="#fff" opacity="0.8"/>
<rect x="983.8" y="97.8" width="1" height="1" fill="#fff" opacity="0.8"/>
<rect x="852.7" y="101.7" width="1" height="1" fill="#fff" opacity="0.8"/>
<rect x="110.3" y="98.8" width="1" height="1" fill="#fff" opacity="0.8"/>
<rect x="819.6" y="97.8" width="1" height="1" fill="#fff" opacity="0.8"/>
<rect x="963.7" y="98.4" width="1" height="1" fill="#fff" opacity="0.8"/>
<rect x="880.6" y="97.7" width="1" height="1" fill="#fff" opacity="0.8"/>
<rect x="558.8" y="101.6" width="1" height="1" fill="#fff" opacity="0.8"/>
<rect x="256.9" y="98.3" width="1" height="1" fill="#fff" opacity="0.8"/>
<rect x="562.7" y="98.6" width="1" height="1" fill="#fff" opacity="0.8"/>
<rect x="80.8" y="97.9" width="1" height="1" fill="#fff" opacity="0.8"/>
<rect x="208.6" y="101.7" width="1" height="1" fill="#fff" opacity="0.8"/>
<rect x="741.0" y="101.5" width="1" height="1" fill="#fff" opacity="0.8"/>
<rect x="216.3" y="100.9" width="1" height="1" fill="#fff" opacity="0.8"/>
<rect x="161.2" y="99.7" width="1" height="1" fill="#fff" opacity="0.8"/>
<rect x="696.5" y="98.8" width="1" height="1" fill="#fff" opacity="0.8"/>
<rect x="939.5" y="99.8" width="1" height="1" fill="#fff" opacity="0.8"/>
<rect x="638.7" y="101.4" width="1" height="1" fill="#fff" opacity="0.8"/>
<rect x="150.4" y="102.0" width="1" height="1" fill="#fff" opacity="0.8"/>
<rect x="689.8" y="99.0" width="1" height="1" fill="#fff" opacity="0.8"/>
<rect x="862.2" y="98.3" width="1" height="1" fill="#fff" opacity="0.8"/>
<rect x="1060.2" y="99.9" width="1" height="1" fill="#fff" opacity="0.8"/>
<rect x="413.0" y="100.8" width="1" height="1" fill="#fff" opacity="0.8"/>
<rect x="497.2" y="97.9" width="1" height="1" fill="#fff" opacity="0.8"/>
<rect x="806.7" y="97.2" width="1" height="1" fill="#fff" opacity="0.8"/>
<rect x="885.0" y="98.3" width="1" height="1" fill="#fff" opacity="0.8"/>
<rect x="699.5" y="101.9" width="1" height="1" fill="#fff" opacity="0.8"/>
<rect x="644.7" y="100.3" width="1" height="1" fill="#fff" opacity="0.8"/>
<rect x="364.1" y="97.0" width="1" height="1" fill="#fff" opacity="0.8"/>
<rect x="77.7" y="97.7" width="1" height="1" fill="#fff" opacity="0.8"/>
<rect x="675.7" y="99.2" width="1" height="1" fill="#fff" opacity="0.8"/>
<rect x="569.5" y="101.5" width="1" height="1" fill="#fff" opacity="0.8"/>
<rect x="178.6" y="98.1" width="1" height="1" fill="#fff" opacity="0.8"/>
<rect x="713.7" y="97.1" width="1" height="1" fill="#fff" opacity="0.8"/>
<rect x="45.7" y="98.8" width="1" height="1" fill="#fff" opacity="0.8"/>
<rect x="152.2" y="98.8" width="1" height="1" fill="#fff" opacity="0.8"/>
<rect x="273.3" y="99.9" width="1" height="1" fill="#fff" opacity="0.8"/>
<rect x="648.0" y="98.0" width="1" height="1" fill="#fff" opacity="0.8"/>
<rect x="683.8" y="99.4" width="1" height="1" fill="#fff" opacity="0.8"/>
<rect x="181.4" y="101.7" width="1" height="1" fill="#fff" opacity="0.8"/>
<rect x="293.2" y="97.7" width="1" height="1" fill="#fff" opacity="0.8"/>
<rect x="141.4" y="100.2" width="1" height="1" fill="#fff" opacity="0.8"/>
<rect x="937.8" y="100.9" width="1" height="1" fill="#fff" opacity="0.8"/>
<rect x="455.8" y="98.3" width="1" height="1" fill="#fff" opacity="0.8"/>
<rect x="54.8" y="100.2" width="1" height="1" fill="#fff" opacity="0.8"/>
<rect x="620.5" y="98.8" width="1" height="1" fill="#fff" opacity="0.8"/>
<rect x="706.0" y="99.2" width="1" height="1" fill="#fff" opacity="0.8"/>
<rect x="1005.5" y="100.7" width="1" height="1" fill="#fff" opacity="0.8"/>
<rect x="298.2" y="101.5" width="1" height="1" fill="#fff" opacity="0.8"/>
<rect x="88.2" y="99.7" width="1" height="1" fill="#fff" opacity="0.8"/>
<rect x="460.0" y="98.2" width="1" height="1" fill="#fff" opacity="0.8"/>
<rect x="103.0" y="100.9" width="1" height="1" fill="#fff" opacity="0.8"/>
<rect x="55.7" y="99.8" width="1" height="1" fill="#fff" opacity="0.8"/>
<rect x="1009.3" y="97.7" width="1" height="1" fill="#fff" opacity="0.8"/>
<rect x="247.9" y="100.0" width="1" height="1" fill="#fff" opacity="0.8"/>
<rect x="563.6" y="100.2" width="1" height="1" fill="#fff" opacity="0.8"/>
<rect x="878.3" y="97.9" width="1" height="1" fill="#fff" opacity="0.8"/>
<rect x="360.7" y="98.5" width="1" height="1" fill="#fff" opacity="0.8"/>
<rect x="92.8" y="101.4" width="1" height="1" fill="#fff" opacity="0.8"/>
<rect x="847.1" y="100.6" width="1" height="1" fill="#fff" opacity="0.8"/>
<rect x="49.5" y="101.2" width="1" height="1" fill="#fff" opacity="0.8"/>
<rect x="808.3" y="99.3" width="1" height="1" fill="#fff" opacity="0.8"/>
<rect x="804.8" y="99.3" width="1" height="1" fill="#fff" opacity="0.8"/>
<rect x="275.0" y="97.5" width="1" height="1" fill="#fff" opacity="0.8"/>
<rect x="281.6" y="97.2" width="1" height="1" fill="#fff" opacity="0.8"/>
<rect x="387.6" y="100.7" width="1" height="1" fill="#fff" opacity="0.8"/>
<rect x="756.9" y="101.2" width="1" height="1" fill="#fff" opacity="0.8"/>
<rect x="773.9" y="98.3" width="1" height="1" fill="#fff" opacity="0.8"/>
<rect x="611.7" y="99.2" width="1" height="1" fill="#fff" opacity="0.8"/>
<rect x="852.7" y="99.6" width="1" height="1" fill="#fff" opacity="0.8"/>
<rect x="315.5" y="100.2" width="1" height="1" fill="#fff" opacity="0.8"/>
<rect x="1034.2" y="98.1" width="1" height="1" fill="#fff" opacity="0.8"/>
<rect x="946.8" y="97.1" width="1" height="1" fill="#fff" opacity="0.8"/>
<rect x="310.4" y="98.2" width="1" height="1" fill="#fff" opacity="0.8"/>
<rect x="807.0" y="101.7" width="1" height="1" fill="#fff" opacity="0.8"/>
<rect x="809.3" y="98.6" width="1" height="1" fill="#fff" opacity="0.8"/>
<rect x="946.9" y="98.6" width="1" height="1" fill="#fff" opacity="0.8"/>
<rect x="288.6" y="101.5" width="1" height="1" fill="#fff" opacity="0.8"/>
<rect x="690.7" y="100.5" width="1" height="1" fill="#fff" opacity="0.8"/>
<rect x="726.2" y="101.9" width="1" height="1" fill="#fff" opacity="0.8"/>
<rect x="525.2" y="101.2" width="1" height="1" fill="#fff" opacity="0.8"/>
<rect x="759.5" y="101.3" width="1" height="1" fill="#fff" opacity="0.8"/>
<rect x="492.0" y="100.6" width="1" height="1" fill="#fff" opacity="0.8"/>
<rect x="628.7" y="98.5" width="1" height="1" fill="#fff" opacity="0.8"/>
<rect x="260.7" y="100.1" width="1" height="1" fill="#fff" opacity="0.8"/>
<rect x="122.9" y="101.6" width="1" height="1" fill="#fff" opacity="0.8"/>
<rect x="191.5" y="97.1" width="1" height="1" fill="#fff" opacity="0.8"/>
<rect x="152.6" y="101.6" width="1" height="1" fill="#fff" opacity="0.8"/>
<rect x="397.2" y="97.7" width="1" height="1" fill="#fff" opacity="0.8"/>
<rect x="72.5" y="97.2" width="1" height="1" fill="#fff" opacity="0.8"/>
<rect x="754.3" y="100.2" width="1" height="1" fill="#fff" opacity="0.8"/>
<rect x="758.8" y="100.7" width="1" height="1" fill="#fff" opacity="0.8"/>
<rect x="110.5" y="100.0" width="1" height="1" fill="#fff" opacity="0.8"/>
<rect x="416.2" y="101.1" width="1" height="1" fill="#fff" opacity="0.8"/>
<rect x="884.7" y="101.5" width="1" height="1" fill="#fff" opacity="0.8"/>
<rect x="110.7" y="101.3" width="1" height="1" fill="#fff" opacity="0.8"/>
<rect x="982.1" y="101.7" width="1" height="1" fill="#fff" opacity="0.8"/>
<rect x="153.0" y="98.0" width="1" height="1" fill="#fff" opacity="0.8"/>
<rect x="158.0" y="97.2" width="1" height="1" fill="#fff" opacity="0.8"/>
<rect x="913.6" y="101.1" width="1" height="1" fill="#fff" opacity="0.8"/>
<rect x="694.3" y="101.1" width="1" height="1" fill="#fff" opacity="0.8"/>
<rect x="691.6" y="98.4" width="1" height="1" fill="#fff" opacity="0.8"/>
<rect x="145.6" y="97.5" width="1" height="1" fill="#fff" opacity="0.8"/>
<rect x="820.8" y="98.0" width="1" height="1" fill="#fff" opacity="0.8"/>
<rect x="370.8" y="99.1" width="1" height="1" fill="#fff" opacity="0.8"/>
<rect x="64.5" y="98.3" width="1" height="1" fill="#fff" opacity="0.8"/>
<rect x="333.2" y="100.6" width="1" height="1" fill="#fff" opacity="0.8"/>
<rect x="421.0" y="98.6" width="1" height="1" fill="#fff" opacity="0.8"/>
<rect x="1033.0" y="99.5" width="1" height="1" fill="#fff" opacity="0.8"/>
<rect x="917.4" y="100.1" width="1" height="1" fill="#fff" opacity="0.8"/>
<rect x="74.8" y="99.1" width="1" height="1" fill="#fff" opacity="0.8"/>
<rect x="491.2" y="100.9" width="1" height="1" fill="#fff" opacity="0.8"/>
<rect x="399.1" y="100.5" width="1" height="1" fill="#fff" opacity="0.8"/>
<rect x="595.4" y="98.1" width="1" height="1" fill="#fff" opacity="0.8"/>
<rect x="928.5" y="97.5" width="1" height="1" fill="#fff" opacity="0.8"/>
<rect x="884.9" y="97.9" width="1" height="1" fill="#fff" opacity="0.8"/>
<rect x="44.3" y="98.0" width="1" height="1" fill="#fff" opacity="0.8"/>
<rect x="825.8" y="101.9" width="1" height="1" fill="#fff" opacity="0.8"/>
<rect x="47.5" y="99.5" width="1" height="1" fill="#fff" opacity="0.8"/>
<rect x="547.8" y="101.0" width="1" height="1" fill="#fff" opacity="0.8"/>
<rect x="232.5" y="99.5" width="1" height="1" fill="#fff" opacity="0.8"/>
<rect x="399.6" y="101.2" width="1" height="1" fill="#fff" opacity="0.8"/>
<rect x="310.6" y="101.7" width="1" height="1" fill="#fff" opacity="0.8"/>
<rect x="334.4" y="98.1" width="1" height="1" fill="#fff" opacity="0.8"/>
<rect x="761.4" y="99.5" width="1" height="1" fill="#fff" opacity="0.8"/>
<rect x="155.9" y="100.2" width="1" height="1" fill="#fff" opacity="0.8"/>
<rect x="126.1" y="100.9" width="1" height="1" fill="#fff" opacity="0.8"/>
<rect x="759.0" y="100.9" width="1" height="1" fill="#fff" opacity="0.8"/>
<rect x="687.9" y="98.8" width="1" height="1" fill="#fff" opacity="0.8"/>
<rect x="455.1" y="99.0" width="1" height="1" fill="#fff" opacity="0.8"/>
<rect x="957.4" y="97.4" width="1" height="1" fill="#fff" opacity="0.8"/>
<rect x="955.4" y="97.1" width="1" height="1" fill="#fff" opacity="0.8"/>
<rect x="254.7" y="98.3" width="1" height="1" fill="#fff" opacity="0.8"/>
<rect x="968.5" y="99.5" width="1" height="1" fill="#fff" opacity="0.8"/>
<rect x="432.5" y="101.4" width="1" height="1" fill="#fff" opacity="0.8"/>
<rect x="282.9" y="99.3" width="1" height="1" fill="#fff" opacity="0.8"/>
<rect x="588.9" y="100.8" width="1" height="1" fill="#fff" opacity="0.8"/>
<rect x="816.3" y="100.2" width="1" height="1" fill="#fff" opacity="0.8"/>
<rect x="400.9" y="98.6" width="1" height="1" fill="#fff" opacity="0.8"/>
<rect x="202.5" y="101.2" width="1" height="1" fill="#fff" opacity="0.8"/>
<rect x="723.0" y="100.7" width="1" height="1" fill="#fff" opacity="0.8"/>
<rect x="217.1" y="99.2" width="1" height="1" fill="#fff" opacity="0.8"/>
<rect x="837.3" y="99.9" width="1" height="1" fill="#fff" opacity="0.8"/>
<rect x="172.5" y="99.3" width="1" height="1" fill="#fff" opacity="0.8"/>
<rect x="952.0" y="98.2" width="1" height="1" fill="#fff" opacity="0.8"/>
<rect x="239.7" y="98.5" width="1" height="1" fill="#fff" opacity="0.8"/>
<rect x="765.2" y="101.2" width="1" height="1" fill="#fff" opacity="0.8"/>
<rect x="201.8" y="97.8" width="1" height="1" fill="#fff" opacity="0.8"/>
<rect x="297.3" y="98.6" width="1" height="1" fill="#fff" opacity="0.8"/>
<rect x="579.3" y="97.8" width="1" height="1" fill="#fff" opacity="0.8"/>
<rect x="379.9" y="97.9" width="1" height="1" fill="#fff" opacity="0.8"/>
<rect x="1044.5" y="100.6" width="1" height="1" fill="#fff" opacity="0.8"/>
<rect x="147.6" y="101.8" width="1" height="1" fill="#fff" opacity="0.8"/>
<rect x="147.4" y="98.9" width="1" height="1" fill="#fff" opacity="0.8"/>
<rect x="1053.4" y="101.0" width="1" height="1" fill="#fff" opacity="0.8"/>
<rect x="796.1" y="99.2" width="1" height="1" fill="#fff" opacity="0.8"/>
<rect x="244.5" y="100.2" width="1" height="1" fill="#fff" opacity="0.8"/>
<rect x="152.8" y="98.0" width="1" height="1" fill="#fff" opacity="0.8"/>
<rect x="441.8" y="97.2" width="1" height="1" fill="#fff" opacity="0.8"/>
<rect x="452.8" y="101.0" width="1" height="1" fill="#fff" opacity="0.8"/>
<rect x="755.2" y="99.5" width="1" height="1" fill="#fff" opacity="0.8"/>
<rect x="692.5" y="99.3" width="1" height="1" fill="#fff" opacity="0.8"/>
<rect x="188.6" y="100.0" width="1" height="1" fill="#fff" opacity="0.8"/>
<rect x="458.6" y="100.7" width="1" height="1" fill="#fff" opacity="0.8"/>
<rect x="975.5" y="99.2" width="1" height="1" fill="#fff" opacity="0.8"/>
<rect x="632.5" y="100.7" width="1" height="1" fill="#fff" opacity="0.8"/>
<rect x="475.5" y="98.1" width="1" height="1" fill="#fff" opacity="0.8"/>
<rect x="784.7" y="101.4" width="1" height="1" fill="#fff" opacity="0.8"/>
<rect x="837.9" y="100.5" width="1" height="1" fill="#fff" opacity="0.8"/>
<rect x="918.5" y="100.4" width="1" height="1" fill="#fff" opacity="0.8"/>
<rect x="701.9" y="99.3" width="1" height="1" fill="#fff" opacity="0.8"/>
<rect x="364.5" y="100.1" width="1" height="1" fill="#fff" opacity="0.8"/>
<rect x="143.5" y="99.1" width="1" height="1" fill="#fff" opacity="0.8"/>
<rect x="846.5" y="100.6" width="1" height="1" fill="#fff" opacity="0.8"/>
<rect x="689.6" y="98.3" width="1" height="1" fill="#fff" opacity="0.8"/>
<rect x="478.0" y="99.3" width="1" height="1" fill="#fff" opacity="0.8"/>
<rect x="681.4" y="99.0" width="1" height="1" fill="#fff" opacity="0.8"/>
<rect x="736.5" y="101.7" width="1" height="1" fill="#fff" opacity="0.8"/>
<rect x="231.0" y="100.3" width="1" height="1" fill="#fff" opacity="0.8"/>
<rect x="842.2" y="98.9" width="1" height="1" fill="#fff" opacity="0.8"/>
<rect x="546.1" y="101.9" width="1" height="1" fill="#fff" opacity="0.8"/>
<rect x="82.2" y="99.7" width="1" height="1" fill="#fff" opacity="0.8"/>
<rect x="208.2" y="100.9" width="1" height="1" fill="#fff" opacity="0.8"/>
<rect x="1009.0" y="99.6" width="1" height="1" fill="#fff" opacity="0.8"/>
<rect x="146.8" y="99.9" width="1" height="1" fill="#fff" opacity="0.8"/>
<rect x="598.6" y="100.6" width="1" height="1" fill="#fff" opacity="0.8"/>
<rect x="569.0" y="100.2" width="1" height="1" fill="#fff" opacity="0.8"/>
<rect x="894.4" y="99.6" width="1" height="1" fill="#fff" opacity="0.8"/>
<rect x="464.4" y="101.7" width="1" height="1" fill="#fff" opacity="0.8"/>
<rect x="258.8" y="100.4" width="1" height="1" fill="#fff" opacity="0.8"/>
<rect x="446.1" y="100.8" width="1" height="1" fill="#fff" opacity="0.8"/>
<rect x="168.7" y="101.9" width="1" height="1" fill="#fff" opacity="0.8"/>
<rect x="408.1" y="97.3" width="1" height="1" fill="#fff" opacity="0.8"/>
<rect x="324.8" y="99.0" width="1" height="1" fill="#fff" opacity="0.8"/>
<rect x="56.7" y="99.1" width="1" height="1" fill="#fff" opacity="0.8"/>
<rect x="474.9" y="100.5" width="1" height="1" fill="#fff" opacity="0.8"/>
<rect x="404.6" y="98.3" width="1" height="1" fill="#fff" opacity="0.8"/>
<rect x="273.5" y="100.7" width="1" height="1" fill="#fff" opacity="0.8"/>
<rect x="1008.3" y="99.6" width="1" height="1" fill="#fff" opacity="0.8"/>
<rect x="267.8" y="101.0" width="1" height="1" fill="#fff" opacity="0.8"/>
<rect x="445.5" y="98.1" width="1" height="1" fill="#fff" opacity="0.8"/>
<rect x="175.8" y="100.9" width="1" height="1" fill="#fff" opacity="0.8"/>
<rect x="874.4" y="100.2" width="1" height="1" fill="#fff" opacity="0.8"/>
<rect x="524.8" y="99.8" width="1" height="1" fill="#fff" opacity="0.8"/>
<rect x="275.1" y="101.8" width="1" height="1" fill="#fff" opacity="0.8"/>
<rect x="405.7" y="100.2" width="1" height="1" fill="#fff" opacity="0.8"/>
<rect x="883.8" y="101.1" width="1" height="1" fill="#fff" opacity="0.8"/>
<rect x="523.7" y="98.5" width="1" height="1" fill="#fff" opacity="0.8"/>
<rect x="606.1" y="97.6" width="1" height="1" fill="#fff" opacity="0.8"/>
<rect x="899.3" y="98.8" width="1" height="1" fill="#fff" opacity="0.8"/>
<rect x="916.6" y="98.3" width="1" height="1" fill="#fff" opacity="0.8"/>
<rect x="429.3" y="98.3" width="1" height="1" fill="#fff" opacity="0.8"/>
<rect x="480.6" y="97.9" width="1" height="1" fill="#fff" opacity="0.8"/>
<rect x="45.8" y="100.6" width="1" height="1" fill="#fff" opacity="0.8"/>
<rect x="331.8" y="98.2" width="1" height="1" fill="#fff" opacity="0.8"/>
<rect x="353.0" y="99.4" width="1" height="1" fill="#fff" opacity="0.8"/>
<rect x="483.1" y="100.2" width="1" height="1" fill="#fff" opacity="0.8"/>
<rect x="720.1" y="98.8" width="1" height="1" fill="#fff" opacity="0.8"/>
<rect x="996.8" y="101.3" width="1" height="1" fill="#fff" opacity="0.8"/>
<rect x="101.6" y="101.1" width="1" height="1" fill="#fff" opacity="0.8"/>
<rect x="973.3" y="100.9" width="1" height="1" fill="#fff" opacity="0.8"/>
<rect x="187.2" y="101.2" width="1" height="1" fill="#fff" opacity="0.8"/>
<rect x="693.3" y="97.1" width="1" height="1" fill="#fff" opacity="0.8"/>
<rect x="54.8" y="101.8" width="1" height="1" fill="#fff" opacity="0.8"/>
<rect x="716.7" y="98.3" width="1" height="1" fill="#fff" opacity="0.8"/>
<rect x="147.3" y="97.7" width="1" height="1" fill="#fff" opacity="0.8"/>
<rect x="282.9" y="100.9" width="1" height="1" fill="#fff" opacity="0.8"/>
<rect x="398.8" y="97.8" width="1" height="1" fill="#fff" opacity="0.8"/>
<rect x="971.5" y="101.0" width="1" height="1" fill="#fff" opacity="0.8"/>
<rect x="215.4" y="101.5" width="1" height="1" fill="#fff" opacity="0.8"/>
<rect x="667.8" y="100.9" width="1" height="1" fill="#fff" opacity="0.8"/>
<rect x="729.5" y="101.5" width="1" height="1" fill="#fff" opacity="0.8"/>
<rect x="852.4" y="101.2" width="1" height="1" fill="#fff" opacity="0.8"/>
<rect x="245.7" y="100.5" width="1" height="1" fill="#fff" opacity="0.8"/>
<rect x="588.1" y="100.7" width="1" height="1" fill="#fff" opacity="0.8"/>
<rect x="493.4" y="101.4" width="1" height="1" fill="#fff" opacity="0.8"/>
<rect x="613.1" y="98.3" width="1" height="1" fill="#fff" opacity="0.8"/>
<rect x="283.5" y="97.7" width="1" height="1" fill="#fff" opacity="0.8"/>
<rect x="549.4" y="97.3" width="1" height="1" fill="#fff" opacity="0.8"/>
<rect x="522.7" y="97.7" width="1" height="1" fill="#fff" opacity="0.8"/>
<rect x="547.6" y="99.5" width="1" height="1" fill="#fff" opacity="0.8"/>
<rect x="597.1" y="101.3" width="1" height="1" fill="#fff" opacity="0.8"/>
<rect x="49.8" y="101.2" width="1" height="1" fill="#fff" opacity="0.8"/>
<rect x="523.6" y="99.8" width="1" height="1" fill="#fff" opacity="0.8"/>
<rect x="726.3" y="101.2" width="1" height="1" fill="#fff" opacity="0.8"/>
<rect x="428.1" y="99.1" width="1" height="1" fill="#fff" opacity="0.8"/>
<rect x="1029.6" y="97.4" width="1" height="1" fill="#fff" opacity="0.8"/>
<rect x="697.2" y="100.2" width="1" height="1" fill="#fff" opacity="0.8"/>
<rect x="72.3" y="100.0" width="1" height="1" fill="#fff" opacity="0.8"/>
<rect x="744.0" y="101.7" width="1" height="1" fill="#fff" opacity="0.8"/>
<rect x="382.4" y="101.9" width="1" height="1" fill="#fff" opacity="0.8"/>
<rect x="567.4" y="99.4" width="1" height="1" fill="#fff" opacity="0.8"/>
<rect x="964.8" y="97.2" width="1" height="1" fill="#fff" opacity="0.8"/>
<rect x="780.6" y="100.1" width="1" height="1" fill="#fff" opacity="0.8"/>
<rect x="390.7" y="101.3" width="1" height="1" fill="#fff" opacity="0.8"/>
<rect x="419.0" y="99.4" width="1" height="1" fill="#fff" opacity="0.8"/>
<rect x="582.7" y="100.9" width="1" height="1" fill="#fff" opacity="0.8"/>
<rect x="259.4" y="99.2" width="1" height="1" fill="#fff" opacity="0.8"/>
<rect x="476.8" y="99.8" width="1" height="1" fill="#fff" opacity="0.8"/>
<rect x="892.0" y="98.5" width="1" height="1" fill="#fff" opacity="0.8"/>
<rect x="893.1" y="99.0" width="1" height="1" fill="#fff" opacity="0.8"/>
<rect x="560.4" y="98.4" width="1" height="1" fill="#fff" opacity="0.8"/>
<rect x="563.1" y="101.9" width="1" height="1" fill="#fff" opacity="0.8"/>
<rect x="715.2" y="101.0" width="1" height="1" fill="#fff" opacity="0.8"/>
<rect x="382.8" y="98.6" width="1" height="1" fill="#fff" opacity="0.8"/>
<rect x="350.3" y="99.9" width="1" height="1" fill="#fff" opacity="0.8"/>
<rect x="695.0" y="100.9" width="1" height="1" fill="#fff" opacity="0.8"/>
<rect x="84.1" y="100.6" width="1" height="1" fill="#fff" opacity="0.8"/>
<rect x="952.5" y="99.7" width="1" height="1" fill="#fff" opacity="0.8"/>
<rect x="94.0" y="98.5" width="1" height="1" fill="#fff" opacity="0.8"/>
<rect x="49.4" y="97.9" width="1" height="1" fill="#fff" opacity="0.8"/>
<rect x="989.3" y="100.0" width="1" height="1" fill="#fff" opacity="0.8"/>
<rect x="718.8" y="100.9" width="1" height="1" fill="#fff" opacity="0.8"/>
<rect x="977.4" y="100.1" width="1" height="1" fill="#fff" opacity="0.8"/>
<rect x="676.4" y="100.1" width="1" height="1" fill="#fff" opacity="0.8"/>
<rect x="758.2" y="100.0" width="1" height="1" fill="#fff" opacity="0.8"/>
<rect x="742.4" y="98.1" width="1" height="1" fill="#fff" opacity="0.8"/>
<rect x="728.0" y="99.3" width="1" height="1" fill="#fff" opacity="0.8"/>
<rect x="826.3" y="97.5" width="1" height="1" fill="#fff" opacity="0.8"/>
<rect x="229.2" y="97.2" width="1" height="1" fill="#fff" opacity="0.8"/>
<rect x="838.4" y="101.6" width="1" height="1" fill="#fff" opacity="0.8"/>
<rect x="716.4" y="98.8" width="1" height="1" fill="#fff" opacity="0.8"/>
<rect x="887.8" y="100.9" width="1" height="1" fill="#fff" opacity="0.8"/>
<rect x="620.3" y="98.3" width="1" height="1" fill="#fff" opacity="0.8"/>
<rect x="353.2" y="99.1" width="1" height="1" fill="#fff" opacity="0.8"/>
<rect x="370.1" y="99.2" width="1" height="1" fill="#fff" opacity="0.8"/>
<rect x="702.1" y="101.7" width="1" height="1" fill="#fff" opacity="0.8"/>
<rect x="99.1" y="99.8" width="1" height="1" fill="#fff" opacity="0.8"/>
<rect x="83.4" y="97.6" width="1" height="1" fill="#fff" opacity="0.8"/>
<path d="M64.7,106.0 L63.6,107.0 L66.5,109.1 L68.2,111.8 L67.8,113.9 L65.7,114.6 L63.5,114.5 L62.3,115.4 L60.3,114.0 L59.1,113.7 L58.0,112.2 L56.8,114.2 L55.3,115.4 L54.0,114.7 L52.0,115.1 L51.4,113.3 L48.1,114.0 L50.5,110.2 L50.3,108.8 L52.7,106.9 L51.5,106.0 L48.5,104.3 L50.2,103.2 L49.4,101.1 L50.1,99.6 L50.6,97.8 L51.4,95.9 L54.1,97.5 L55.5,97.5 L56.7,96.7 L58.0,98.0 L59.3,97.2 L60.7,96.9 L62.6,96.1 L65.6,94.3 L65.3,97.9 L66.3,99.3 L65.9,101.5 L64.9,103.5 L64.7,104.8Z" fill="#5E8E6A"/>
<path d="M65.4,112.0 L66.4,113.1 L66.1,114.1 L66.7,115.8 L65.8,116.4 L65.5,117.6 L65.7,120.2 L64.9,121.0 L63.5,119.3 L62.7,119.0 L62.0,118.2 L61.2,119.9 L60.8,118.0 L60.0,118.1 L58.8,119.0 L57.6,119.1 L57.0,117.8 L56.9,116.2 L56.7,114.7 L56.6,113.4 L57.2,112.0 L58.5,111.1 L59.2,110.5 L57.2,108.1 L57.0,106.2 L57.4,104.6 L58.9,105.2 L59.5,104.0 L60.0,102.2 L61.1,103.0 L62.0,105.4 L62.5,107.0 L63.3,105.7 L64.7,103.6 L65.1,105.2 L65.9,105.7 L66.7,106.5 L68.1,107.0 L67.9,108.9 L66.0,111.0Z" fill="#5E8E6A"/>
<path d="M310.3,108.0 L310.9,110.3 L310.2,112.4 L308.1,113.5 L309.6,117.3 L307.4,117.9 L304.8,116.9 L303.0,115.8 L302.2,117.0 L301.6,121.1 L300.0,121.0 L298.5,120.5 L296.4,122.7 L294.9,121.4 L294.4,118.2 L294.1,115.8 L293.6,114.2 L293.7,112.3 L291.5,111.7 L291.2,109.9 L292.8,108.0 L289.8,105.9 L288.4,103.0 L290.2,101.3 L293.3,101.5 L294.6,100.8 L294.5,98.0 L295.9,97.3 L297.9,99.4 L299.1,100.4 L300.0,94.8 L301.9,92.3 L303.2,95.0 L304.5,96.2 L306.2,96.6 L307.7,97.8 L307.1,101.1 L305.9,104.0 L306.2,105.3 L307.3,106.5Z" fill="#5E8E6A"/>
<path d="M329.3,106.0 L329.4,107.8 L326.6,108.8 L325.4,109.8 L324.1,110.5 L323.0,111.0 L322.9,112.8 L320.9,111.7 L320.4,113.3 L319.8,117.2 L318.0,117.9 L316.6,114.8 L315.0,115.2 L313.8,114.3 L312.7,113.3 L314.0,110.0 L314.0,108.9 L309.8,110.2 L307.6,109.4 L307.9,107.6 L308.1,106.0 L308.6,104.5 L306.9,102.4 L309.3,101.6 L311.0,100.9 L313.0,101.0 L313.1,99.3 L313.4,96.9 L315.4,98.0 L316.8,98.4 L318.0,96.6 L319.7,95.4 L321.0,96.7 L321.3,99.6 L322.2,100.2 L324.1,99.9 L324.6,101.2 L326.1,101.9 L326.5,103.2 L326.4,104.7Z" fill="#5E8E6A"/>
<path d="M660.9,107.0 L656.8,108.0 L657.2,109.3 L658.8,111.4 L660.1,114.3 L658.3,115.1 L656.5,115.4 L655.7,117.3 L654.1,117.8 L652.7,118.8 L651.0,116.4 L650.1,113.3 L648.9,114.0 L647.3,115.2 L646.1,114.4 L643.9,114.9 L641.5,114.7 L639.7,113.4 L642.2,110.2 L642.3,108.5 L643.1,107.0 L642.7,105.5 L642.0,103.7 L645.4,103.8 L645.4,102.4 L643.3,98.5 L643.4,95.3 L645.8,95.7 L648.4,98.0 L649.6,97.4 L651.0,96.4 L652.1,99.3 L652.9,100.5 L653.9,100.8 L655.9,99.6 L658.8,98.3 L659.0,100.6 L659.0,102.5 L659.3,104.0 L661.3,105.2Z" fill="#5E8E6A"/>
<path d="M864.8,108.0 L868.8,110.1 L868.4,112.1 L869.1,114.9 L866.3,115.3 L864.4,115.8 L862.3,115.2 L861.7,116.9 L859.9,115.1 L859.3,117.8 L858.0,120.0 L856.2,121.9 L854.6,121.0 L853.7,118.2 L852.1,117.9 L851.4,116.1 L850.6,114.6 L852.6,111.3 L852.8,110.1 L851.3,109.3 L847.2,108.0 L847.4,106.0 L849.6,104.7 L848.2,101.9 L849.9,100.8 L851.3,99.8 L854.2,101.6 L855.5,101.9 L855.4,98.3 L856.6,97.5 L858.0,97.6 L859.4,97.0 L861.0,96.7 L863.7,94.3 L863.7,98.4 L864.8,99.7 L862.6,103.9 L865.7,103.2 L866.4,104.6 L865.2,106.6Z" fill="#5E8E6A"/>
<path d="M1070.6,100.0 L1068.5,100.5 L1068.1,101.0 L1068.2,101.7 L1068.9,102.6 L1066.5,102.6 L1065.5,103.0 L1065.5,104.3 L1063.5,104.3 L1062.1,105.2 L1060.0,103.8 L1058.5,103.7 L1057.9,102.5 L1055.4,103.6 L1054.9,102.8 L1054.6,102.2 L1053.0,102.0 L1047.9,102.5 L1047.6,101.6 L1050.1,100.6 L1051.1,100.0 L1049.7,99.4 L1051.9,98.9 L1052.4,98.5 L1054.8,98.5 L1054.3,97.7 L1052.6,95.9 L1053.9,95.2 L1056.8,96.0 L1058.6,96.4 L1060.0,96.3 L1061.7,95.8 L1062.6,96.8 L1062.8,97.8 L1064.3,97.7 L1067.8,96.9 L1070.0,97.1 L1070.7,97.8 L1070.6,98.6 L1070.8,99.3Z" fill="#5E8E6A"/>
<line x1="209.6" y1="106.9" x2="220.0" y2="109.3" stroke="#5E8E6A" stroke-width="1"/>
<line x1="209.3" y1="107.4" x2="220.8" y2="108.9" stroke="#5E8E6A" stroke-width="1"/>
<line x1="208.1" y1="107.6" x2="216.0" y2="100.9" stroke="#5E8E6A" stroke-width="1"/>
<line x1="209.1" y1="104.7" x2="198.1" y2="107.3" stroke="#5E8E6A" stroke-width="1"/>
<line x1="208.7" y1="105.5" x2="214.0" y2="100.7" stroke="#5E8E6A" stroke-width="1"/>
<line x1="210.1" y1="105.8" x2="205.7" y2="103.8" stroke="#5E8E6A" stroke-width="1"/>
<line x1="210.9" y1="107.3" x2="203.9" y2="105.5" stroke="#5E8E6A" stroke-width="1"/>
<line x1="210.8" y1="105.5" x2="215.1" y2="101.7" stroke="#5E8E6A" stroke-width="1"/>
<line x1="211.5" y1="107.8" x2="210.0" y2="101.7" stroke="#5E8E6A" stroke-width="1"/>
<line x1="210.1" y1="106.1" x2="200.8" y2="106.2" stroke="#5E8E6A" stroke-width="1"/>
<line x1="208.9" y1="104.7" x2="222.6" y2="107.2" stroke="#5E8E6A" stroke-width="1"/>
<line x1="211.3" y1="104.1" x2="215.7" y2="109.2" stroke="#5E8E6A" stroke-width="1"/>
<line x1="208.8" y1="104.1" x2="218.8" y2="110.6" stroke="#5E8E6A" stroke-width="1"/>
<line x1="210.1" y1="106.8" x2="202.1" y2="101.7" stroke="#5E8E6A" stroke-width="1"/>
<line x1="210.9" y1="104.2" x2="219.6" y2="111.4" stroke="#5E8E6A" stroke-width="1"/>
<line x1="210.0" y1="105.1" x2="216.5" y2="110.7" stroke="#5E8E6A" stroke-width="1"/>
<line x1="208.5" y1="106.4" x2="216.0" y2="110.4" stroke="#5E8E6A" stroke-width="1"/>
<line x1="210.3" y1="107.0" x2="214.1" y2="102.4" stroke="#5E8E6A" stroke-width="1"/>
<line x1="211.8" y1="105.6" x2="216.0" y2="113.5" stroke="#5E8E6A" stroke-width="1"/>
<line x1="210.1" y1="105.6" x2="199.7" y2="110.2" stroke="#5E8E6A" stroke-width="1"/>
<line x1="209.4" y1="105.0" x2="220.5" y2="103.0" stroke="#5E8E6A" stroke-width="1"/>
<line x1="211.9" y1="107.2" x2="205.6" y2="111.5" stroke="#5E8E6A" stroke-width="1"/>
<line x1="211.4" y1="104.2" x2="219.9" y2="101.5" stroke="#5E8E6A" stroke-width="1"/>
<line x1="211.7" y1="105.0" x2="197.4" y2="105.0" stroke="#5E8E6A" stroke-width="1"/>
<line x1="209.5" y1="106.1" x2="201.1" y2="109.6" stroke="#5E8E6A" stroke-width="1"/>
<line x1="210.0" y1="104.1" x2="217.8" y2="108.7" stroke="#5E8E6A" stroke-width="1"/>
<line x1="211.1" y1="107.7" x2="218.2" y2="113.4" stroke="#5E8E6A" stroke-width="1"/>
<line x1="211.5" y1="107.5" x2="202.3" y2="99.6" stroke="#5E8E6A" stroke-width="1"/>
<line x1="209.1" y1="106.7" x2="220.0" y2="107.6" stroke="#5E8E6A" stroke-width="1"/>
<line x1="211.7" y1="106.5" x2="208.6" y2="113.0" stroke="#5E8E6A" stroke-width="1"/>
<line x1="209.7" y1="107.8" x2="210.0" y2="112.9" stroke="#5E8E6A" stroke-width="1"/>
<line x1="210.6" y1="104.5" x2="208.2" y2="111.5" stroke="#5E8E6A" stroke-width="1"/>
<line x1="210.1" y1="105.1" x2="199.5" y2="100.7" stroke="#5E8E6A" stroke-width="1"/>
<line x1="208.6" y1="104.5" x2="200.8" y2="107.5" stroke="#5E8E6A" stroke-width="1"/>
<line x1="522.6" y1="107.2" x2="528.5" y2="112.4" stroke="#5E8E6A" stroke-width="1"/>
<line x1="523.2" y1="109.4" x2="523.3" y2="112.7" stroke="#5E8E6A" stroke-width="1"/>
<line x1="523.6" y1="106.8" x2="515.0" y2="103.0" stroke="#5E8E6A" stroke-width="1"/>
<line x1="523.2" y1="108.5" x2="520.7" y2="101.1" stroke="#5E8E6A" stroke-width="1"/>
<line x1="522.0" y1="106.9" x2="514.9" y2="109.2" stroke="#5E8E6A" stroke-width="1"/>
<line x1="523.3" y1="106.0" x2="514.2" y2="107.5" stroke="#5E8E6A" stroke-width="1"/>
<line x1="522.0" y1="108.2" x2="515.3" y2="115.7" stroke="#5E8E6A" stroke-width="1"/>
<line x1="525.0" y1="107.2" x2="515.0" y2="108.3" stroke="#5E8E6A" stroke-width="1"/>
<line x1="521.3" y1="109.5" x2="524.0" y2="102.9" stroke="#5E8E6A" stroke-width="1"/>
<line x1="522.6" y1="107.8" x2="517.3" y2="109.7" stroke="#5E8E6A" stroke-width="1"/>
<line x1="521.9" y1="109.8" x2="522.4" y2="103.1" stroke="#5E8E6A" stroke-width="1"/>
<line x1="522.3" y1="107.4" x2="522.5" y2="102.8" stroke="#5E8E6A" stroke-width="1"/>
<line x1="524.4" y1="109.3" x2="518.1" y2="100.8" stroke="#5E8E6A" stroke-width="1"/>
<line x1="524.0" y1="109.0" x2="511.3" y2="107.0" stroke="#5E8E6A" stroke-width="1"/>
<line x1="523.8" y1="109.7" x2="511.0" y2="109.4" stroke="#5E8E6A" stroke-width="1"/>
<line x1="521.0" y1="109.1" x2="532.0" y2="114.9" stroke="#5E8E6A" stroke-width="1"/>
<line x1="524.9" y1="108.3" x2="514.6" y2="104.2" stroke="#5E8E6A" stroke-width="1"/>
<line x1="524.5" y1="108.4" x2="512.4" y2="112.5" stroke="#5E8E6A" stroke-width="1"/>
<line x1="522.8" y1="108.9" x2="516.2" y2="112.8" stroke="#5E8E6A" stroke-width="1"/>
<line x1="523.2" y1="107.5" x2="520.6" y2="114.4" stroke="#5E8E6A" stroke-width="1"/>
<line x1="524.4" y1="108.0" x2="517.7" y2="116.2" stroke="#5E8E6A" stroke-width="1"/>
<line x1="522.2" y1="106.6" x2="516.3" y2="109.8" stroke="#5E8E6A" stroke-width="1"/>
<line x1="521.4" y1="109.7" x2="513.7" y2="104.4" stroke="#5E8E6A" stroke-width="1"/>
<line x1="524.4" y1="109.8" x2="517.3" y2="116.5" stroke="#5E8E6A" stroke-width="1"/>
<line x1="524.6" y1="106.0" x2="525.6" y2="114.6" stroke="#5E8E6A" stroke-width="1"/>
<line x1="523.0" y1="109.7" x2="532.9" y2="110.3" stroke="#5E8E6A" stroke-width="1"/>
<line x1="525.0" y1="108.1" x2="524.5" y2="100.5" stroke="#5E8E6A" stroke-width="1"/>
<line x1="522.6" y1="107.4" x2="511.7" y2="107.1" stroke="#5E8E6A" stroke-width="1"/>
<line x1="524.8" y1="108.7" x2="515.9" y2="104.4" stroke="#5E8E6A" stroke-width="1"/>
<line x1="522.5" y1="107.6" x2="516.6" y2="107.2" stroke="#5E8E6A" stroke-width="1"/>
<line x1="524.5" y1="109.9" x2="513.3" y2="105.1" stroke="#5E8E6A" stroke-width="1"/>
<line x1="523.5" y1="110.0" x2="513.7" y2="108.6" stroke="#5E8E6A" stroke-width="1"/>
<line x1="524.3" y1="106.7" x2="517.4" y2="114.3" stroke="#5E8E6A" stroke-width="1"/>
<line x1="524.3" y1="108.1" x2="517.3" y2="117.4" stroke="#5E8E6A" stroke-width="1"/>
<line x1="778.8" y1="111.3" x2="788.1" y2="116.3" stroke="#5E8E6A" stroke-width="1"/>
<line x1="777.7" y1="108.6" x2="791.0" y2="109.4" stroke="#5E8E6A" stroke-width="1"/>
<line x1="778.0" y1="108.8" x2="775.5" y2="117.2" stroke="#5E8E6A" stroke-width="1"/>
<line x1="778.4" y1="109.4" x2="782.5" y2="117.4" stroke="#5E8E6A" stroke-width="1"/>
<line x1="776.2" y1="109.6" x2="788.9" y2="109.7" stroke="#5E8E6A" stroke-width="1"/>
<line x1="778.8" y1="108.0" x2="779.9" y2="104.0" stroke="#5E8E6A" stroke-width="1"/>
<line x1="778.3" y1="110.7" x2="773.7" y2="119.0" stroke="#5E8E6A" stroke-width="1"/>
<line x1="778.2" y1="109.1" x2="781.2" y2="116.9" stroke="#5E8E6A" stroke-width="1"/>
<line x1="780.0" y1="110.3" x2="771.9" y2="104.0" stroke="#5E8E6A" stroke-width="1"/>
<line x1="776.6" y1="111.0" x2="772.4" y2="112.6" stroke="#5E8E6A" stroke-width="1"/>
<line x1="776.7" y1="110.1" x2="783.0" y2="113.0" stroke="#5E8E6A" stroke-width="1"/>
<line x1="779.2" y1="108.2" x2="782.8" y2="102.8" stroke="#5E8E6A" stroke-width="1"/>
<line x1="777.3" y1="110.9" x2="790.0" y2="110.7" stroke="#5E8E6A" stroke-width="1"/>
<line x1="777.1" y1="108.4" x2="773.7" y2="114.2" stroke="#5E8E6A" stroke-width="1"/>
<line x1="777.4" y1="109.8" x2="786.6" y2="105.5" stroke="#5E8E6A" stroke-width="1"/>
<line x1="779.6" y1="110.3" x2="773.4" y2="113.0" stroke="#5E8E6A" stroke-width="1"/>
<line x1="778.5" y1="109.0" x2="787.0" y2="108.2" stroke="#5E8E6A" stroke-width="1"/>
<line x1="779.4" y1="109.3" x2="790.9" y2="112.7" stroke="#5E8E6A" stroke-width="1"/>
<line x1="777.2" y1="110.4" x2="788.0" y2="104.5" stroke="#5E8E6A" stroke-width="1"/>
<line x1="779.8" y1="109.0" x2="787.5" y2="108.2" stroke="#5E8E6A" stroke-width="1"/>
<line x1="776.9" y1="109.2" x2="769.0" y2="115.6" stroke="#5E8E6A" stroke-width="1"/>
<line x1="779.2" y1="109.0" x2="784.8" y2="104.9" stroke="#5E8E6A" stroke-width="1"/>
<line x1="776.7" y1="111.9" x2="782.0" y2="115.7" stroke="#5E8E6A" stroke-width="1"/>
<line x1="776.5" y1="110.1" x2="775.4" y2="117.5" stroke="#5E8E6A" stroke-width="1"/>
<line x1="776.3" y1="108.5" x2="771.2" y2="114.4" stroke="#5E8E6A" stroke-width="1"/>
<line x1="777.0" y1="108.8" x2="781.9" y2="104.3" stroke="#5E8E6A" stroke-width="1"/>
<line x1="776.1" y1="110.7" x2="776.4" y2="115.6" stroke="#5E8E6A" stroke-width="1"/>
<line x1="778.8" y1="108.4" x2="774.2" y2="114.4" stroke="#5E8E6A" stroke-width="1"/>
<line x1="776.5" y1="109.8" x2="776.4" y2="119.4" stroke="#5E8E6A" stroke-width="1"/>
<line x1="776.6" y1="109.4" x2="784.4" y2="102.1" stroke="#5E8E6A" stroke-width="1"/>
<line x1="779.8" y1="108.8" x2="776.5" y2="103.5" stroke="#5E8E6A" stroke-width="1"/>
<line x1="776.9" y1="109.8" x2="787.4" y2="107.8" stroke="#5E8E6A" stroke-width="1"/>
<line x1="777.0" y1="111.6" x2="785.8" y2="116.3" stroke="#5E8E6A" stroke-width="1"/>
<line x1="777.0" y1="110.4" x2="770.6" y2="106.6" stroke="#5E8E6A" stroke-width="1"/>
<path d="M172.5,112.1 A1.8,1.8 0 0 1 169.4,110.6 A1.7,1.7 0 0 1 166.6,109.5 A2.4,2.4 0 0 1 165.4,106.5 A1.8,1.8 0 0 1 166.4,103.6 A2.3,2.3 0 0 1 168.0,100.7 A1.8,1.8 0 0 1 171.3,100.6 A2.1,2.1 0 0 1 174.4,101.2 A2.0,2.0 0 0 1 176.3,103.9 A2.0,2.0 0 0 1 176.1,107.0 A1.8,1.8 0 0 1 174.9,109.7 A1.8,1.8 0 0 1 172.5,112.1Z" fill="none" stroke="#5E8E6A" stroke-width="0.7"/>
<path d="M175.7,111.1 A2.2,2.2 0 0 1 173.9,108.9 A2.4,2.4 0 0 1 173.7,105.7 A1.8,1.8 0 0 1 176.8,104.5 A1.8,1.8 0 0 1 179.7,105.6 A1.7,1.7 0 0 1 181.2,108.7 A2.5,2.5 0 0 1 179.0,111.5 A2.3,2.3 0 0 1 175.7,111.1Z" fill="none" stroke="#5E8E6A" stroke-width="0.7"/>
<path d="M401.1,111.2 A1.7,1.7 0 0 1 398.8,109.3 A1.8,1.8 0 0 1 397.9,106.3 A1.8,1.8 0 0 1 399.4,103.5 A2.0,2.0 0 0 1 400.1,100.4 A1.7,1.7 0 0 1 403.4,99.8 A1.8,1.8 0 0 1 406.3,99.1 A2.1,2.1 0 0 1 408.6,101.2 A1.5,1.5 0 0 1 410.2,103.3 A2.6,2.6 0 0 1 412.6,105.7 A2.2,2.2 0 0 1 411.6,108.9 A2.3,2.3 0 0 1 409.7,111.4 A1.8,1.8 0 0 1 406.5,111.5 A1.6,1.6 0 0 1 403.9,111.6 A2.0,2.0 0 0 1 401.1,111.2Z" fill="none" stroke="#5E8E6A" stroke-width="0.7"/>
<path d="M408.8,111.0 A1.7,1.7 0 0 1 406.2,109.2 A2.5,2.5 0 0 1 406.6,105.9 A1.8,1.8 0 0 1 409.3,104.2 A2.1,2.1 0 0 1 412.0,104.3 A2.3,2.3 0 0 1 415.1,105.2 A1.7,1.7 0 0 1 415.6,108.4 A2.1,2.1 0 0 1 413.7,110.7 A1.7,1.7 0 0 1 411.3,112.1 A2.0,2.0 0 0 1 408.8,111.0Z" fill="none" stroke="#5E8E6A" stroke-width="0.7"/>
<path d="M574.5,101.4 A2.0,2.0 0 0 1 576.2,103.6 A2.2,2.2 0 0 1 578.4,106.4 A2.3,2.3 0 0 1 576.4,109.2 A2.7,2.7 0 0 1 574.3,111.9 A1.9,1.9 0 0 1 570.8,111.8 A2.5,2.5 0 0 1 567.8,110.3 A1.8,1.8 0 0 1 566.0,107.4 A2.4,2.4 0 0 1 566.5,104.0 A2.4,2.4 0 0 1 568.7,101.6 A1.7,1.7 0 0 1 571.6,101.2 A1.9,1.9 0 0 1 574.5,101.4Z" fill="none" stroke="#5E8E6A" stroke-width="0.7"/>
<path d="M581.8,107.2 A2.0,2.0 0 0 1 580.9,110.4 A1.7,1.7 0 0 1 577.9,111.4 A2.0,2.0 0 0 1 575.4,109.9 A2.1,2.1 0 0 1 574.6,107.1 A1.8,1.8 0 0 1 576.5,104.7 A1.7,1.7 0 0 1 579.5,105.0 A2.1,2.1 0 0 1 581.8,107.2Z" fill="none" stroke="#5E8E6A" stroke-width="0.7"/>
<path d="M791.5,110.0 A1.9,1.9 0 0 1 792.3,106.6 A2.1,2.1 0 0 1 794.1,104.2 A2.3,2.3 0 0 1 796.8,102.3 A2.2,2.2 0 0 1 799.5,104.3 A2.2,2.2 0 0 1 801.9,106.2 A2.3,2.3 0 0 1 801.6,109.3 A1.8,1.8 0 0 1 800.5,112.4 A2.0,2.0 0 0 1 797.2,113.2 A2.0,2.0 0 0 1 793.9,112.6 A2.0,2.0 0 0 1 791.5,110.0Z" fill="none" stroke="#5E8E6A" stroke-width="0.8"/>
<path d="M1067.2,98.1 L1068.2,99.8 L1069.7,102.0 L1069.8,103.8 L1070.5,105.8 L1070.1,107.8 L1073.4,108.4 L1071.3,111.7 L1074.8,113.4 L1072.8,116.4 L1074.4,118.3 L1075.2,119.9 L1076.8,121.0 L1076.6,123.7 L1077.5,126.4 L1076.8,128.6 L1076.6,130.4 L1079.8,132.3 L1078.3,134.7 L1081.1,136.5 L1079.8,139.9 L1082.6,141.8 L1081.7,144.8 L1083.8,146.1 L1082.9,148.4 L1083.6,150.6 L1083.9,153.3 L1085.4,154.6 L1086.9,156.7 L1087.8,159.1 L1087.4,162.2 L1087.0,164.7 L1088.8,166.2 L1089.6,167.6 L1089.3,169.5 L1089.1,172.7 L1090.6,173.9 L1092.0,175.3 L1092.7,176.7 L1093.4,179.4 L1092.4,181.9 L1093.8,184.1 L1093.9,186.3 L1095.5,188.1 L1097.0,190.5 L1095.6,192.7 L1097.0,194.5 L1096.5,196.8 L1097.3,198.3 L1099.9,199.8 L1100.4,202.6 L1101.5,205.4 L1101.7,207.8 L1101.8,209.5 L1101.3,212.2 L1104.0,213.8 L1103.6,216.2 L1103.2,218.4 L1103.1,221.4 L1105.6,222.5 L1104.4,225.1 L1105.9,227.3 L1106.7,229.5 L1107.8,231.6 L1107.0,234.0 L1109.9,235.0 L1108.2,237.9 L1109.4,240.5 L1110.7,241.8 L1111.1,243.6 L1110.9,246.1 L1111.2,248.5 L1113.3,250.2 L1113.2,251.9 L1113.8,253.5 L1114.9,256.0 L1116.3,258.3 L1117.5,259.7 L1115.4,263.0 L1117.1,265.4 L1119.3,266.5 L1119.4,269.0 L1119.9,270.6 L1118.7,272.6" fill="none" stroke="#5E8E6A" stroke-width="1.4" stroke-linejoin="round"/>
<path d="M1065.6,98.6 L1066.8,100.7 L1068.9,102.1 L1070.0,104.0 L1070.7,106.4 L1071.5,108.6 L1070.0,112.0 L1071.2,114.3 L1073.0,116.5 L1072.1,119.7 L1074.5,121.1 L1075.3,123.9 L1075.4,125.5 L1075.7,127.2 L1075.1,130.1 L1077.6,132.4 L1076.7,134.7 L1079.2,136.2 L1077.7,139.1 L1078.1,140.6 L1079.1,143.1 L1080.1,145.2 L1081.0,147.6 L1083.0,148.8 L1083.1,151.2 L1084.7,153.5 L1083.2,155.5 L1084.2,157.1 L1085.9,159.5 L1084.5,161.5 L1086.7,163.7 L1086.7,165.9 L1088.3,167.2 L1089.0,169.2 L1087.2,172.2 L1088.2,174.0 L1090.1,176.4 L1089.3,178.3 L1090.8,180.0 L1091.2,182.3 L1090.6,184.6 L1092.3,186.6 L1093.1,188.0 L1092.6,191.2 L1095.0,192.3 L1094.4,194.5 L1095.0,196.7 L1096.4,198.7 L1098.7,201.1 L1097.8,203.0 L1099.5,205.2 L1099.5,208.0 L1099.3,210.6 L1101.2,212.0 L1102.4,214.6 L1101.2,217.6 L1103.3,219.8 L1103.6,222.0 L1103.9,224.0 L1103.0,226.5 L1104.3,228.2 L1105.7,230.9 L1105.5,233.1 L1106.4,234.8 L1105.8,236.7 L1107.9,239.0 L1108.9,241.0 L1108.2,243.2 L1109.1,244.6 L1110.9,246.2 L1112.2,248.2 L1112.7,250.1 L1110.8,253.2 L1112.8,254.4 L1113.0,257.5 L1114.0,260.0 L1113.6,263.0 L1116.8,264.4 L1115.4,266.8 L1115.5,268.4 L1117.7,269.7 L1117.3,271.7" fill="none" stroke="#5E8E6A" stroke-width="1.4" stroke-linejoin="round"/>
<path d="M1065.8,98.5 L1066.7,101.2 L1067.5,102.8 L1067.9,105.8 L1069.0,107.1 L1068.3,110.2 L1068.3,112.0 L1071.1,113.6 L1071.9,115.9 L1070.6,118.2 L1072.3,120.4 L1073.0,122.4 L1071.7,124.9 L1072.2,127.0 L1073.8,129.1 L1075.2,131.0 L1075.4,132.9 L1077.2,133.9 L1078.0,136.1 L1077.3,138.0 L1077.2,140.7 L1077.1,142.5 L1079.5,143.6 L1080.1,145.1 L1079.8,147.4 L1080.5,149.7 L1081.4,152.0 L1082.4,153.8 L1082.8,155.6 L1083.7,158.1 L1084.3,160.0 L1084.1,163.1 L1084.9,164.9 L1084.5,168.1 L1086.0,169.2 L1087.6,171.3 L1088.8,173.1 L1088.6,175.1 L1086.8,177.3 L1087.4,178.9 L1089.6,180.6 L1091.2,182.0 L1089.4,184.6 L1091.7,185.8 L1090.7,189.1 L1093.0,190.0 L1094.2,191.6 L1093.8,194.1 L1094.8,195.9 L1094.0,198.4 L1094.1,201.4 L1094.7,203.9 L1096.4,206.0 L1096.2,209.0 L1097.9,210.9 L1100.4,213.2 L1098.8,216.2 L1099.5,217.9 L1100.0,220.0 L1102.1,221.3 L1101.4,224.1 L1102.0,227.0 L1102.4,229.3 L1105.4,231.4 L1105.6,233.3 L1104.9,236.3 L1106.1,238.1 L1105.9,241.1 L1107.9,243.1 L1108.5,245.2 L1108.1,248.3 L1109.4,250.9 L1111.7,253.0 L1112.2,254.7 L1111.3,258.0 L1111.1,259.7 L1111.6,262.6 L1112.9,265.3 L1113.4,267.8 L1115.7,269.0 L1115.1,270.8 L1117.1,273.3" fill="none" stroke="#5E8E6A" stroke-width="1.4" stroke-linejoin="round"/>
<path d="M1065.4,98.6 L1063.5,100.8 L1065.7,103.0 L1065.6,104.6 L1065.8,106.5 L1065.0,108.4 L1066.8,111.0 L1067.0,113.9 L1067.7,116.0 L1068.4,118.0 L1069.0,120.5 L1070.8,122.7 L1070.8,124.4 L1073.2,126.1 L1071.6,128.6 L1074.5,130.9 L1073.3,133.9 L1073.8,135.6 L1073.6,137.4 L1075.3,139.2 L1075.8,141.5 L1077.3,142.7 L1077.5,145.2 L1078.6,147.3 L1080.0,150.0 L1079.3,152.9 L1079.9,154.7 L1080.6,157.6 L1081.3,159.6 L1083.5,160.7 L1082.8,162.5 L1082.5,165.6 L1083.5,167.8 L1083.5,169.7 L1086.0,170.8 L1086.9,173.3 L1086.7,175.0 L1087.1,176.9 L1086.7,179.5 L1086.6,182.6 L1089.9,184.3 L1089.8,186.7 L1089.5,189.9 L1091.8,191.8 L1092.2,193.8 L1092.3,196.0 L1093.4,198.2 L1093.8,200.2 L1093.2,202.7 L1094.0,205.0 L1095.5,207.6 L1096.3,210.0 L1096.0,212.4 L1098.7,213.4 L1098.1,216.0 L1099.6,217.9 L1098.2,220.3 L1099.8,222.7 L1101.6,224.7 L1102.5,227.4 L1101.5,229.3 L1103.6,231.6 L1102.0,233.8 L1102.4,235.6 L1105.1,237.0 L1104.7,239.5 L1105.0,241.1 L1106.7,243.7 L1106.7,246.0 L1108.3,248.3 L1108.5,250.0 L1108.6,252.1 L1108.7,254.1 L1109.3,256.0 L1109.1,257.6 L1109.3,260.0 L1111.9,261.1 L1111.2,263.3 L1113.3,264.6 L1113.1,266.4 L1112.6,269.4 L1115.0,271.0 L1114.4,273.7" fill="none" stroke="#5E8E6A" stroke-width="1.4" stroke-linejoin="round"/>
<path d="M1062.2,99.6 L1063.6,101.3 L1063.2,103.4 L1065.1,105.4 L1064.4,107.8 L1066.7,109.6 L1067.3,111.2 L1066.2,114.2 L1066.8,116.7 L1068.6,117.8 L1068.4,120.0 L1070.2,121.9 L1068.3,125.2 L1070.3,127.1 L1072.0,128.8 L1071.5,131.2 L1072.2,134.0 L1073.0,136.0 L1074.3,138.5 L1074.2,141.3 L1075.5,142.5 L1076.4,144.7 L1075.2,147.8 L1075.5,149.6 L1076.4,152.2 L1078.8,153.2 L1077.4,156.1 L1080.1,157.9 L1078.7,160.6 L1080.5,162.7 L1083.0,164.5 L1083.3,167.2 L1082.2,169.3 L1081.8,171.8 L1083.4,174.5 L1084.1,176.2 L1086.3,177.6 L1085.9,180.1 L1085.1,182.6 L1088.1,183.7 L1088.8,186.3 L1087.4,188.7 L1088.8,189.9 L1089.2,192.0 L1090.2,194.0 L1091.4,195.8 L1092.3,197.4 L1090.3,200.4 L1092.3,201.9 L1093.0,203.9 L1092.7,206.0 L1093.5,208.6 L1095.7,210.6 L1095.3,213.2 L1096.1,216.0 L1095.7,219.1 L1098.1,220.6 L1099.2,221.9 L1098.9,223.7 L1100.4,225.1 L1100.7,227.5 L1100.9,229.7 L1100.4,232.5 L1102.6,233.8 L1103.3,235.3 L1101.3,237.8 L1103.9,238.8 L1103.6,241.9 L1103.8,244.4 L1105.9,246.8 L1104.5,249.0 L1105.1,251.5 L1106.7,253.9 L1108.1,255.4 L1108.6,257.3 L1110.1,258.7 L1110.5,260.7 L1110.8,262.4 L1110.4,265.6 L1110.8,267.1 L1111.0,269.6 L1111.2,271.9 L1113.8,273.5" fill="none" stroke="#5E8E6A" stroke-width="1.4" stroke-linejoin="round"/>
<path d="M1063.5,138.0 L1065.7,139.6 L1064.5,141.0 L1062.5,142.2 L1063.7,143.9 L1064.1,145.5 L1062.9,146.8 L1061.0,147.6 L1062.9,150.1 L1058.1,149.4 L1056.5,150.0 L1057.3,152.2 L1056.7,153.6 L1054.8,153.9 L1052.5,153.6 L1053.3,156.6 L1053.5,159.4 L1053.0,161.6 L1051.6,162.9 L1050.1,163.9 L1049.4,167.1 L1045.4,162.1 L1044.5,165.3 L1043.2,168.3 L1040.6,164.2 L1038.8,164.6 L1037.0,164.6 L1035.3,162.9 L1033.8,161.6 L1032.3,161.0 L1030.5,161.4 L1028.6,162.0 L1028.7,157.4 L1026.7,158.4 L1025.8,157.1 L1025.8,154.6 L1024.8,153.7 L1024.0,152.8 L1021.1,154.0 L1020.0,153.2 L1019.1,152.2 L1015.9,152.7 L1014.9,151.6 L1013.2,150.9 L1012.9,149.3 L1007.6,149.8 L1009.7,147.2 L1009.6,145.6 L1009.3,144.1 L1008.0,142.7 L1008.9,141.0 L1012.2,139.3 L1010.3,138.0 L1006.4,136.4 L1010.6,135.1 L1008.3,133.3 L1005.8,131.1 L1008.0,129.9 L1011.8,129.5 L1011.8,127.9 L1008.2,124.5 L1013.7,125.4 L1014.9,124.4 L1014.7,122.4 L1016.6,121.9 L1018.3,121.3 L1020.6,121.4 L1019.5,118.1 L1021.1,117.5 L1024.0,118.8 L1025.5,118.4 L1026.1,116.3 L1028.5,118.0 L1030.6,119.8 L1031.6,118.6 L1032.5,116.2 L1034.4,118.6 L1035.6,117.5 L1037.0,117.7 L1038.7,113.6 L1040.1,115.4 L1042.2,112.8 L1044.6,110.6 L1046.6,110.4 L1047.3,113.7 L1050.7,110.8 L1052.0,112.6 L1052.6,114.9 L1052.6,117.9 L1055.8,116.6 L1057.4,117.4 L1056.1,120.9 L1058.9,120.7 L1059.0,122.6 L1061.0,123.2 L1058.9,126.2 L1061.7,126.4 L1064.2,127.1 L1062.6,129.3 L1059.0,131.9 L1061.1,132.7 L1062.8,133.8 L1062.3,135.2 L1059.0,136.8Z" fill="none" stroke="#5E8E6A" stroke-width="1.2" stroke-linejoin="round"/>
<path d="M1062.0,135.9 L1063.9,136.6 L1064.3,138.6 L1064.7,140.7 L1062.4,141.2 L1061.2,143.1 L1059.3,142.2 L1058.0,141.0 L1058.1,139.3 L1058.2,137.9 L1058.5,136.0 L1060.2,135.1Z" fill="none" stroke="#5E8E6A" stroke-width="1.2" stroke-linejoin="round"/>
<path d="M1064.1,145.8 L1062.6,146.1 L1061.2,145.8 L1059.3,145.1 L1058.7,142.9 L1060.1,141.0 L1062.3,140.7 L1064.1,141.3 L1065.6,142.6 L1066.1,144.8Z" fill="none" stroke="#5E8E6A" stroke-width="1.2" stroke-linejoin="round"/>
<path d="M1054.2,158.9 L1052.1,159.4 L1050.2,158.4 L1050.2,156.2 L1049.4,154.5 L1050.6,153.2 L1052.1,152.7 L1053.8,151.3 L1055.6,152.3 L1056.8,154.0 L1055.8,155.9 L1055.9,157.8Z" fill="none" stroke="#5E8E6A" stroke-width="1.2" stroke-linejoin="round"/>
<path d="M1043.2,158.5 L1045.3,158.8 L1046.7,160.4 L1047.1,162.3 L1047.9,164.1 L1047.2,166.1 L1045.7,167.7 L1043.5,167.1 L1041.4,167.8 L1040.1,166.1 L1038.5,164.6 L1040.0,162.6 L1039.5,160.4 L1041.1,159.0Z" fill="none" stroke="#5E8E6A" stroke-width="1.2" stroke-linejoin="round"/>
<path d="M1040.1,165.8 L1038.5,165.8 L1037.4,164.6 L1036.4,163.4 L1035.4,161.5 L1036.5,159.6 L1038.2,158.4 L1040.3,158.8 L1042.3,159.0 L1043.9,160.5 L1044.2,162.6 L1044.1,164.9 L1042.5,166.6Z" fill="none" stroke="#5E8E6A" stroke-width="1.2" stroke-linejoin="round"/>
<path d="M1026.7,156.0 L1028.9,156.1 L1030.5,157.0 L1031.3,158.9 L1030.2,160.9 L1028.1,160.3 L1026.6,159.7 L1026.8,158.1Z" fill="none" stroke="#5E8E6A" stroke-width="1.2" stroke-linejoin="round"/>
<path d="M1021.5,154.4 L1021.3,152.5 L1022.0,150.9 L1023.3,150.0 L1024.6,149.3 L1026.5,148.4 L1028.1,149.6 L1028.4,151.5 L1027.7,153.0 L1027.3,154.3 L1026.5,156.0 L1024.7,156.0 L1022.9,155.8Z" fill="none" stroke="#5E8E6A" stroke-width="1.2" stroke-linejoin="round"/>
<path d="M1008.7,143.0 L1010.3,142.1 L1011.3,143.6 L1011.5,144.9 L1011.6,146.9 L1009.7,147.2 L1008.3,146.4 L1006.7,145.5 L1007.0,143.5Z" fill="none" stroke="#5E8E6A" stroke-width="1.2" stroke-linejoin="round"/>
<path d="M1006.4,134.2 L1007.6,132.3 L1009.0,130.5 L1011.1,131.6 L1013.0,132.2 L1012.8,134.2 L1012.5,135.9 L1010.9,136.2 L1009.6,136.2 L1007.5,136.3Z" fill="none" stroke="#5E8E6A" stroke-width="1.2" stroke-linejoin="round"/>
<path d="M1010.9,132.5 L1009.6,131.4 L1008.0,130.9 L1006.6,129.5 L1007.2,127.5 L1008.6,126.3 L1009.9,124.5 L1012.1,124.2 L1013.9,125.6 L1013.8,127.9 L1014.7,129.4 L1013.9,131.0 L1013.1,133.1Z" fill="none" stroke="#5E8E6A" stroke-width="1.2" stroke-linejoin="round"/>
<path d="M1015.6,120.4 L1017.1,119.5 L1019.0,119.3 L1021.1,119.9 L1021.5,122.1 L1021.0,123.9 L1020.8,126.1 L1018.5,125.7 L1016.7,126.6 L1014.9,125.6 L1014.2,123.7 L1014.6,121.8Z" fill="none" stroke="#5E8E6A" stroke-width="1.2" stroke-linejoin="round"/>
<path d="M1030.1,115.2 L1031.7,116.8 L1033.0,117.4 L1033.4,118.8 L1035.2,120.1 L1035.0,122.3 L1032.7,122.6 L1031.3,123.6 L1029.5,123.6 L1028.7,121.9 L1027.7,120.9 L1026.6,119.4 L1027.1,117.5 L1028.8,116.8Z" fill="none" stroke="#5E8E6A" stroke-width="1.2" stroke-linejoin="round"/>
<path d="M1036.9,115.4 L1037.4,113.4 L1039.5,112.9 L1041.5,113.3 L1042.7,115.0 L1042.3,116.9 L1041.8,118.9 L1039.7,119.5 L1037.8,118.9 L1037.2,117.1Z" fill="none" stroke="#5E8E6A" stroke-width="1.2" stroke-linejoin="round"/>
<path d="M1046.1,109.9 L1047.0,111.7 L1046.9,113.3 L1047.0,114.9 L1046.4,116.8 L1044.4,116.3 L1042.7,116.7 L1042.0,115.0 L1041.6,113.6 L1042.3,112.4 L1042.9,111.3 L1044.2,110.7Z" fill="none" stroke="#5E8E6A" stroke-width="1.2" stroke-linejoin="round"/>
<path d="M1060.0,128.4 L1058.3,129.9 L1056.9,128.2 L1055.8,127.0 L1055.0,125.6 L1055.8,124.2 L1056.3,123.0 L1057.3,121.8 L1058.8,121.5 L1061.0,120.7 L1061.7,122.8 L1061.8,124.4 L1063.1,126.3 L1061.7,127.7Z" fill="none" stroke="#5E8E6A" stroke-width="1.2" stroke-linejoin="round"/>
<path d="M1060.5,129.5 L1061.6,130.6 L1063.4,131.4 L1063.3,133.3 L1062.6,134.9 L1061.2,136.2 L1059.2,136.6 L1057.9,135.1 L1057.1,133.7 L1055.9,131.9 L1057.1,130.3 L1058.9,129.8Z" fill="none" stroke="#5E8E6A" stroke-width="1.2" stroke-linejoin="round"/>
<path d="M1028.7,130.1 L1029.6,131.6 L1027.7,133.3 L1025.7,134.9 L1027.0,137.0 L1029.1,136.2 L1031.3,137.2 L1032.8,135.2 L1032.3,133.0 L1030.0,133.1 L1028.3,131.4 L1026.9,130.1 L1026.9,127.7 L1027.0,125.3 L1025.5,123.8 L1026.6,122.3 L1027.5,121.0 L1028.7,119.2 L1030.2,118.9 L1030.2,121.4 L1031.7,122.8 L1031.7,124.5 L1031.6,126.8 L1032.8,127.9 L1034.8,127.9 L1037.3,127.8 L1039.0,129.5 L1041.2,129.5 L1042.7,131.0 L1044.3,132.5 L1043.1,134.3 L1041.5,133.6 L1039.2,134.5 L1037.8,135.0 L1036.5,132.8 L1034.8,133.4 L1034.0,132.2 L1033.2,130.7 L1033.7,128.7 L1032.7,127.0 L1033.9,126.0 L1036.0,126.2 L1036.1,128.6 L1038.2,128.8 L1039.1,130.0 L1040.9,130.1 L1043.4,130.4" fill="none" stroke="#5E8E6A" stroke-width="1.2" stroke-linejoin="round"/>
<path d="M1025.8,136.0 L1023.9,136.7 L1024.2,138.4 L1025.3,139.2 L1024.6,140.8 L1024.0,142.1 L1023.1,144.2 L1021.6,143.8 L1020.6,142.0 L1022.1,140.8 L1020.9,138.8 L1022.3,137.6 L1023.4,136.7 L1025.5,136.9 L1026.7,138.5 L1025.4,139.9 L1023.9,141.5 L1025.1,143.0 L1026.5,144.8 L1028.5,143.7 L1029.4,144.8 L1031.7,145.1 L1033.5,143.6 L1033.7,141.6 L1033.9,139.3 L1031.5,138.6 L1031.7,136.4 L1029.9,135.9 L1029.2,134.7 L1030.5,133.6 L1032.2,132.2 L1033.8,133.7 L1035.2,134.8 L1036.9,133.4 L1038.4,132.2 L1037.2,130.1 L1037.9,127.9 L1038.3,126.4 L1037.4,124.8 L1037.9,122.9 L1035.7,121.8 L1033.9,120.9 L1031.7,121.8 L1030.6,120.0 L1032.1,118.8 L1030.8,119.8" fill="none" stroke="#5E8E6A" stroke-width="1.2" stroke-linejoin="round"/>
<path d="M1059.5,140.7 L1058.5,138.6 L1059.1,137.1 L1060.6,136.5 L1060.3,135.0 L1058.4,135.8 L1058.7,137.1 L1060.6,137.1 L1060.4,138.7 L1058.4,138.8 L1058.1,141.2 L1057.8,143.3 L1056.2,144.5 L1056.1,145.9 L1057.6,147.9 L1057.9,145.4 L1055.9,144.8 L1053.7,146.0 L1051.8,145.5 L1052.1,143.0 L1054.0,141.6 L1055.6,143.1 L1057.6,141.7 L1057.8,139.8 L1056.4,138.0 L1056.7,135.8 L1058.4,134.5 L1057.2,132.3 L1058.7,131.2 L1059.0,128.9 L1058.1,127.8 L1059.7,126.0 L1059.9,128.2 L1058.2,128.0 L1056.4,129.5 L1057.4,131.2 L1056.9,132.9" fill="none" stroke="#5E8E6A" stroke-width="1.2" stroke-linejoin="round"/>
<path d="M1047.1,133.8 L1046.7,136.3 L1046.4,137.7 L1045.3,138.5 L1046.2,140.6 L1047.8,140.2 L1048.4,141.6 L1047.0,142.6 L1045.3,141.0 L1045.4,138.5 L1044.0,138.2 L1043.2,140.1 L1044.9,141.1 L1044.1,143.1 L1042.7,142.8 L1041.9,144.9 L1040.2,144.5 L1039.0,142.6 L1040.7,141.1 L1039.8,139.7 L1041.6,138.1 L1043.2,138.2 L1044.8,136.7 L1043.7,134.9 L1041.8,135.7 L1039.7,136.6 L1040.3,138.8 L1041.8,138.7 L1043.5,138.6 L1045.1,138.5 L1045.6,140.6 L1046.1,142.8 L1047.6,142.8 L1047.8,141.2 L1049.4,141.1 L1050.8,142.5 L1050.9,145.0 L1048.8,145.4 L1048.8,147.9 L1051.1,148.2 L1051.8,146.1" fill="none" stroke="#5E8E6A" stroke-width="1.2" stroke-linejoin="round"/>
<path d="M1052.0,153.2 L1053.9,152.7 L1054.7,151.2 L1055.9,149.1 L1054.5,148.0 L1053.3,149.1 L1053.2,151.6 L1051.4,153.1 L1050.1,154.3 L1050.0,155.7 L1048.6,155.9 L1047.4,157.5 L1045.8,159.5 L1045.0,160.6 L1045.3,163.0 L1047.4,163.1 L1047.7,161.7 L1048.0,159.8 L1048.4,158.0 L1050.0,158.0 L1051.0,159.2 L1050.1,160.4 L1048.6,159.6 L1047.9,157.2 L1049.9,156.2 L1049.3,154.1 L1047.8,153.3 L1046.4,155.1 L1044.2,155.3 L1042.9,157.0 L1040.9,156.0 L1038.8,154.9 L1037.1,155.5 L1037.3,156.9 L1039.1,158.2 L1038.0,160.5 L1036.5,160.1 L1035.5,162.0 L1037.2,161.4 L1036.9,159.2 L1038.2,158.7 L1039.6,158.3 L1040.4,159.6 L1039.7,161.7 L1037.5,161.4 L1035.0,161.0 L1034.1,159.7 L1032.5,160.5 L1030.8,159.8 L1032.5,159.0 L1031.8,156.6" fill="none" stroke="#5E8E6A" stroke-width="1.2" stroke-linejoin="round"/>
<path d="M1023.9,141.0 L1025.3,141.5 L1027.5,140.6 L1029.1,139.9 L1028.5,137.6 L1026.0,137.7 L1024.5,139.5 L1023.0,138.6 L1021.6,137.8 L1019.7,138.3 L1019.9,140.2 L1021.9,140.3 L1023.0,139.3 L1024.1,138.4 L1024.2,135.9 L1024.3,134.0 L1023.2,132.9 L1022.0,131.6 L1020.0,131.5 L1019.5,133.9 L1020.5,135.3 L1020.0,137.8 L1021.6,138.4 L1023.8,137.4 L1026.1,138.2 L1028.0,137.3 L1029.6,137.9 L1030.4,136.6 L1032.7,136.1 L1033.6,134.6 L1035.5,134.1 L1035.4,132.6 L1037.6,132.1 L1037.4,130.2 L1038.7,128.7 L1038.6,126.2 L1039.9,124.8 L1038.9,123.5 L1037.7,122.1 L1037.9,120.4 L1038.2,118.3 L1040.1,118.9 L1041.2,121.0 L1039.5,122.3 L1037.9,122.0 L1036.8,120.4 L1034.8,120.0" fill="none" stroke="#5E8E6A" stroke-width="1.2" stroke-linejoin="round"/>
<path d="M1023.6,137.2 L1025.9,138.3 L1026.6,140.6 L1027.9,141.2 L1028.6,143.3 L1030.2,143.1 L1031.7,142.9 L1033.2,144.1 L1035.2,143.8 L1036.0,146.2 L1034.9,148.2 L1036.5,149.4 L1038.8,149.1 L1039.3,150.6 L1039.8,152.1 L1040.4,154.3 L1041.1,156.4 L1043.1,157.4 L1044.4,155.7 L1043.0,154.3 L1041.6,155.3 L1041.1,157.6 L1040.7,159.9 L1039.1,159.9 L1038.8,161.7 L1039.6,162.9 L1039.9,161.2 L1041.4,160.2 L1043.6,160.7" fill="none" stroke="#5E8E6A" stroke-width="1.2" stroke-linejoin="round"/>
<path d="M1042.3,157.7 L1041.6,160.2 L1040.1,161.0 L1038.9,161.7 L1039.3,159.9 L1037.5,159.1 L1035.9,159.7 L1036.2,161.2 L1035.8,159.1 L1037.0,157.4 L1038.5,157.2 L1039.7,155.5 L1041.2,153.4 L1040.7,150.9 L1042.1,150.4 L1044.4,149.5 L1044.1,147.9 L1045.0,146.6 L1047.2,147.6 L1047.8,149.2 L1045.8,150.3 L1045.2,152.8 L1044.5,155.2 L1043.2,156.0 L1040.8,155.2 L1039.6,157.5 L1039.0,158.8" fill="none" stroke="#5E8E6A" stroke-width="1.2" stroke-linejoin="round"/>
<path d="M1037.2,129.1 L1035.6,130.9 L1033.8,129.8 L1033.5,128.1 L1035.4,127.3 L1037.7,126.4 L1038.6,127.8 L1040.5,127.0 L1042.5,126.3 L1043.4,124.0 L1044.2,122.0 L1046.0,121.4 L1046.8,122.8 L1048.9,122.0 L1048.5,119.9 L1049.4,118.5 L1050.7,116.6 L1049.3,115.2 L1047.7,113.7 L1045.8,113.8 L1043.4,113.8 L1041.7,115.7 L1043.3,117.8 L1045.3,118.0 L1046.9,120.0 L1048.7,120.2 L1050.6,120.4 L1052.0,122.2 L1054.6,122.5 L1056.5,120.9 L1055.8,119.7 L1053.4,119.1 L1053.5,117.2 L1051.6,116.7 L1050.4,114.5 L1048.8,115.8 L1047.1,117.2" fill="none" stroke="#5E8E6A" stroke-width="1.2" stroke-linejoin="round"/>
<path d="M1027.8,141.4 L1026.7,139.9 L1024.4,141.1 L1022.3,142.2 L1021.6,144.3 L1019.1,144.0 L1017.7,145.1 L1016.0,146.5 L1015.7,148.9 L1013.8,149.0 L1013.4,147.6 L1011.3,147.8 L1009.6,146.3 L1010.7,147.2 L1012.6,145.7 L1011.5,143.7 L1010.0,144.3 L1010.7,142.7 L1010.2,141.4 L1011.7,141.1 L1011.6,138.5 L1013.0,139.9 L1014.7,138.6 L1016.0,137.6 L1018.5,137.9 L1019.9,138.2 L1020.5,136.5 L1020.9,135.1 L1022.4,135.3 L1023.9,135.5 L1025.7,135.8 L1026.6,137.1 L1024.9,138.9 L1022.9,137.5 L1020.6,138.0 L1019.0,136.9 L1017.9,138.1 L1019.2,140.0 L1020.6,139.4 L1021.1,137.8 L1023.2,136.8 L1023.9,134.8" fill="none" stroke="#5E8E6A" stroke-width="1.2" stroke-linejoin="round"/>
<path d="M1044.4,125.0 L1045.9,124.2 L1047.5,124.8 L1049.4,125.5 L1049.0,127.5 L1050.4,128.0 L1051.2,126.5 L1052.0,125.1 L1054.1,124.5 L1054.9,123.1 L1056.1,120.8 L1055.4,122.2 L1056.7,123.2 L1058.5,124.7 L1060.0,125.9 L1058.9,127.9 L1060.7,129.3 L1059.5,128.4 L1058.2,129.6 L1058.1,131.1 L1059.4,132.6 L1057.7,132.5 L1057.3,130.3 L1057.0,128.1 L1058.2,126.5 L1057.2,125.4 L1055.4,126.5" fill="none" stroke="#5E8E6A" stroke-width="1.2" stroke-linejoin="round"/>
<path d="M1086.8,215.0 L1089.7,216.8 L1088.8,218.4 L1086.1,219.6 L1088.5,221.8 L1087.3,223.3 L1085.0,224.1 L1083.1,225.0 L1081.5,225.8 L1078.6,225.6 L1077.6,226.4 L1075.7,226.4 L1077.3,229.7 L1074.7,228.7 L1075.0,231.3 L1075.4,234.6 L1074.3,235.9 L1071.8,234.5 L1071.3,237.5 L1069.7,238.0 L1068.5,240.4 L1066.5,239.7 L1064.8,240.0 L1063.0,240.7 L1061.2,240.2 L1059.8,237.6 L1057.4,240.8 L1055.4,241.2 L1054.3,238.5 L1054.2,234.5 L1051.0,237.1 L1050.6,234.6 L1051.0,231.3 L1049.7,230.7 L1048.5,229.9 L1046.7,229.6 L1046.7,227.7 L1044.7,227.4 L1042.8,226.8 L1042.5,225.2 L1041.1,224.1 L1039.4,223.0 L1040.5,221.1 L1040.9,219.4 L1042.5,217.7 L1041.0,216.4 L1043.0,215.0 L1041.6,213.6 L1040.0,212.0 L1038.8,210.2 L1040.6,209.0 L1041.8,207.8 L1040.4,205.6 L1038.3,202.7 L1040.9,202.1 L1043.0,201.4 L1042.9,199.4 L1042.7,196.9 L1045.3,196.8 L1045.5,194.4 L1046.9,193.2 L1048.6,192.3 L1051.7,194.1 L1052.5,191.9 L1055.3,194.2 L1057.2,195.1 L1058.8,195.6 L1060.2,195.3 L1061.6,195.3 L1063.0,197.6 L1064.3,197.4 L1066.0,194.2 L1067.6,193.7 L1069.0,194.6 L1071.2,193.0 L1072.5,194.0 L1073.2,196.0 L1074.6,196.7 L1077.1,195.9 L1079.3,195.8 L1078.1,199.5 L1078.9,200.7 L1081.5,200.6 L1084.9,200.2 L1082.6,203.6 L1084.9,204.1 L1088.7,204.3 L1087.9,206.5 L1085.0,209.1 L1087.7,210.1 L1087.3,211.8 L1085.2,213.5Z" fill="none" stroke="#5E8E6A" stroke-width="1.2" stroke-linejoin="round"/>
<path d="M1085.4,216.6 L1087.5,216.4 L1088.9,217.9 L1089.4,219.9 L1087.9,221.6 L1085.8,221.6 L1085.0,219.9 L1084.1,218.2Z" fill="none" stroke="#5E8E6A" stroke-width="1.2" stroke-linejoin="round"/>
<path d="M1084.6,224.5 L1083.5,223.2 L1083.2,221.7 L1084.2,220.4 L1085.6,220.1 L1087.3,220.1 L1088.3,221.6 L1087.3,223.1 L1086.5,224.8Z" fill="none" stroke="#5E8E6A" stroke-width="1.2" stroke-linejoin="round"/>
<path d="M1075.9,222.9 L1078.0,223.6 L1079.1,225.7 L1078.2,227.8 L1077.0,229.6 L1074.8,229.9 L1072.8,229.0 L1071.5,227.0 L1071.9,224.6 L1073.9,223.5Z" fill="none" stroke="#5E8E6A" stroke-width="1.2" stroke-linejoin="round"/>
<path d="M1070.9,233.5 L1071.7,235.3 L1071.3,237.0 L1070.9,238.1 L1071.1,240.3 L1069.5,241.6 L1067.8,239.9 L1066.5,239.3 L1065.2,238.2 L1065.1,236.5 L1066.6,235.5 L1067.0,233.5 L1068.9,233.1Z" fill="none" stroke="#5E8E6A" stroke-width="1.2" stroke-linejoin="round"/>
<path d="M1056.8,241.0 L1055.4,239.3 L1056.0,237.3 L1057.6,236.2 L1059.2,235.8 L1061.1,235.4 L1062.6,236.8 L1062.3,238.8 L1062.3,240.9 L1060.5,241.9 L1058.3,242.6Z" fill="none" stroke="#5E8E6A" stroke-width="1.2" stroke-linejoin="round"/>
<path d="M1046.5,228.5 L1045.6,226.7 L1047.5,225.9 L1049.0,226.2 L1050.3,227.2 L1050.8,229.2 L1049.1,230.5 L1046.9,230.6Z" fill="none" stroke="#5E8E6A" stroke-width="1.2" stroke-linejoin="round"/>
<path d="M1039.0,223.8 L1040.1,222.3 L1040.8,221.3 L1041.5,219.2 L1043.2,220.2 L1044.4,221.1 L1045.5,222.2 L1046.0,224.0 L1044.3,224.9 L1043.3,226.5 L1041.4,226.4 L1040.6,224.8Z" fill="none" stroke="#5E8E6A" stroke-width="1.2" stroke-linejoin="round"/>
<path d="M1044.1,212.6 L1045.8,212.2 L1046.6,213.9 L1047.6,214.9 L1047.7,216.4 L1048.4,218.7 L1046.5,219.7 L1044.8,221.1 L1042.8,220.0 L1041.0,219.1 L1041.4,216.9 L1039.9,215.3 L1040.7,213.5 L1042.4,212.7Z" fill="none" stroke="#5E8E6A" stroke-width="1.2" stroke-linejoin="round"/>
<path d="M1044.7,205.1 L1043.5,206.4 L1041.5,207.0 L1040.8,204.8 L1039.5,203.8 L1040.3,202.2 L1041.0,201.2 L1041.4,199.6 L1042.7,198.0 L1044.9,198.0 L1046.6,199.3 L1047.6,201.1 L1046.6,203.0 L1046.2,204.6Z" fill="none" stroke="#5E8E6A" stroke-width="1.2" stroke-linejoin="round"/>
<path d="M1046.5,200.8 L1044.8,200.6 L1043.7,200.0 L1042.4,198.9 L1042.7,197.1 L1044.4,196.5 L1045.9,196.8 L1047.4,197.6 L1046.9,199.2Z" fill="none" stroke="#5E8E6A" stroke-width="1.2" stroke-linejoin="round"/>
<path d="M1063.6,197.0 L1065.1,198.3 L1064.7,200.2 L1063.2,201.2 L1062.1,202.9 L1060.3,202.0 L1059.2,201.0 L1057.1,200.3 L1056.2,198.3 L1057.2,196.2 L1059.5,196.0 L1061.0,195.4 L1062.8,195.4Z" fill="none" stroke="#5E8E6A" stroke-width="1.2" stroke-linejoin="round"/>
<path d="M1061.5,200.0 L1061.2,198.2 L1062.6,196.9 L1062.6,194.7 L1064.4,193.5 L1066.7,193.6 L1068.2,195.4 L1068.6,197.3 L1068.2,199.0 L1067.1,200.1 L1065.9,200.9 L1064.5,201.7 L1063.0,201.1Z" fill="none" stroke="#5E8E6A" stroke-width="1.2" stroke-linejoin="round"/>
<path d="M1078.7,205.1 L1076.7,203.9 L1075.3,202.9 L1074.6,201.3 L1073.8,199.7 L1074.5,198.1 L1076.2,197.4 L1077.4,196.2 L1078.9,197.1 L1080.2,197.7 L1081.3,198.8 L1082.6,200.5 L1082.2,202.5 L1080.5,203.9Z" fill="none" stroke="#5E8E6A" stroke-width="1.2" stroke-linejoin="round"/>
<path d="M1081.8,204.5 L1082.5,202.9 L1084.0,202.1 L1085.6,202.7 L1086.7,203.6 L1087.0,205.1 L1086.0,206.1 L1085.0,206.6 L1083.4,207.3 L1082.4,206.0Z" fill="none" stroke="#5E8E6A" stroke-width="1.2" stroke-linejoin="round"/>
<path d="M1057.8,197.8 L1055.8,198.2 L1055.8,200.6 L1054.6,201.9 L1052.0,201.9 L1051.7,200.2 L1053.8,199.5 L1053.3,197.0 L1051.6,195.7 L1052.0,198.1 L1050.0,198.8 L1049.2,200.4 L1050.0,202.3 L1049.1,204.3 L1048.4,205.7 L1050.2,206.9 L1050.5,208.8 L1050.8,210.6 L1052.7,210.6 L1053.1,212.9 L1053.4,215.1 L1052.5,216.3 L1051.4,217.8 L1049.6,216.9 L1048.3,216.3 L1047.8,214.9 L1049.1,214.2 L1050.6,213.4 L1052.1,213.9 L1052.8,215.2 L1054.3,215.7 L1055.7,215.0 L1056.2,213.4 L1057.7,212.6 L1057.0,210.2 L1058.8,209.2 L1058.1,207.0 L1056.3,206.1 L1055.0,206.6 L1052.8,205.5 L1052.2,203.7 L1050.3,202.8 L1049.0,202.1 L1048.1,203.4 L1049.1,204.5 L1050.6,204.5 L1051.7,203.4" fill="none" stroke="#5E8E6A" stroke-width="1.2" stroke-linejoin="round"/>
<path d="M1067.0,226.1 L1065.8,227.4 L1064.1,227.6 L1062.9,229.1 L1064.6,231.1 L1066.2,231.2 L1067.9,229.6 L1066.8,228.0 L1068.5,226.5 L1067.2,224.5 L1069.0,222.9 L1070.1,223.8 L1070.3,226.2 L1068.3,226.8 L1066.5,225.8 L1064.2,226.5 L1063.3,224.7 L1063.8,223.2 L1065.3,222.5 L1064.8,220.6 L1067.1,219.5 L1068.8,218.8 L1069.5,216.8 L1071.2,216.1 L1073.5,217.0 L1073.2,218.6 L1071.8,219.4 L1071.4,221.7 L1069.0,221.6 L1068.7,219.4 L1068.4,217.3 L1070.0,216.8 L1070.8,218.4 L1068.9,219.8 L1066.4,219.5 L1065.8,221.3 L1067.2,222.1 L1068.4,220.4 L1069.7,218.8 L1072.0,218.5 L1072.1,217.0 L1071.0,215.9 L1069.4,214.1 L1070.9,212.2 L1073.3,211.9 L1074.8,211.8 L1076.5,213.1 L1077.6,212.2" fill="none" stroke="#5E8E6A" stroke-width="1.2" stroke-linejoin="round"/>
<path d="M1068.6,205.8 L1070.3,206.0 L1070.4,208.5 L1068.5,208.9 L1067.7,206.9 L1066.9,205.0 L1066.2,203.3 L1067.2,201.0 L1065.3,199.7 L1063.0,200.2 L1061.6,200.5 L1060.7,198.4 L1059.0,197.7 L1059.9,200.0 L1060.8,202.2 L1062.7,201.8 L1062.7,200.3 L1061.0,200.1 L1060.9,198.1 L1058.7,197.8 L1056.3,197.5 L1056.2,195.9 L1054.6,194.5 L1052.9,195.8 L1051.6,194.7 L1050.0,194.8 L1048.7,196.3 L1048.9,198.0 L1050.6,198.1" fill="none" stroke="#5E8E6A" stroke-width="1.2" stroke-linejoin="round"/>
<path d="M1076.3,206.5 L1076.4,208.9 L1075.3,210.2 L1072.8,210.3 L1070.6,210.3 L1069.4,209.2 L1069.4,207.2 L1071.9,206.7 L1073.5,206.5 L1073.5,204.4 L1075.2,202.7 L1075.2,200.2 L1076.6,198.8 L1075.1,200.2 L1076.3,201.9 L1075.0,203.2 L1073.3,204.9 L1072.0,206.2 L1073.4,208.3 L1075.4,208.7 L1077.9,209.1 L1079.1,210.8 L1080.9,211.1 L1081.5,209.4 L1082.9,208.8 L1084.6,207.9 L1082.8,208.8 L1081.0,209.6 L1080.3,211.6 L1081.1,213.2 L1079.8,214.2 L1077.7,215.7 L1077.4,217.9 L1076.0,218.0 L1075.8,219.6 L1077.3,220.1 L1077.0,222.3 L1078.4,224.0" fill="none" stroke="#5E8E6A" stroke-width="1.2" stroke-linejoin="round"/>
<path d="M1055.1,197.8 L1056.7,198.3 L1057.4,199.6 L1058.2,201.2 L1056.4,202.5 L1055.0,201.2 L1056.2,199.5 L1055.9,198.2 L1053.7,196.8 L1052.2,197.1 L1052.3,198.8 L1049.9,199.4 L1048.3,198.4 L1047.3,199.5 L1045.7,199.5 L1047.8,199.5 L1049.1,200.7 L1051.1,199.2 L1050.0,196.9 L1051.6,195.7 L1053.2,196.0 L1055.2,196.3 L1057.7,196.8 L1059.4,197.1 L1058.1,198.0 L1057.9,199.6 L1055.5,199.6 L1055.3,201.2 L1053.2,201.3 L1052.9,203.3 L1051.3,204.5 L1052.3,206.5 L1054.2,207.1 L1056.4,205.9 L1055.9,204.3 L1055.3,202.7 L1053.0,203.1 L1052.4,201.3 L1051.8,199.4 L1050.1,199.6 L1050.1,201.6 L1048.4,201.8 L1048.3,204.0" fill="none" stroke="#5E8E6A" stroke-width="1.2" stroke-linejoin="round"/>
<path d="M1065.3,219.7 L1065.9,218.0 L1064.3,217.0 L1063.1,216.2 L1062.7,214.5 L1061.4,213.7 L1061.0,211.9 L1058.7,212.0 L1056.9,210.3 L1057.7,209.1 L1055.9,207.3 L1053.5,207.4 L1053.2,209.1 L1055.0,209.7 L1055.9,207.9 L1055.2,205.9 L1053.7,205.2 L1051.9,205.9 L1050.6,205.2 L1050.1,203.9 L1048.1,203.0 L1047.2,204.3 L1048.6,205.8 L1050.5,207.6 L1051.7,208.8 L1052.8,210.0 L1052.8,211.9 L1051.7,212.9 L1052.6,214.1 L1051.4,215.2 L1049.6,217.0 L1050.6,218.5 L1050.2,220.2 L1052.3,221.0 L1053.0,222.9 L1052.3,224.5 L1050.0,224.0 L1049.2,222.6 L1047.4,223.3 L1046.5,225.3 L1048.4,226.5 L1049.4,224.2 L1047.5,222.9 L1046.4,224.0 L1045.2,225.2" fill="none" stroke="#5E8E6A" stroke-width="1.2" stroke-linejoin="round"/>
<path d="M1066.6,233.7 L1064.7,234.0 L1063.1,234.2 L1061.6,232.9 L1060.5,234.0 L1058.7,232.6 L1056.6,232.8 L1055.2,234.6 L1053.9,236.4 L1055.5,238.1 L1057.3,236.9 L1056.7,235.4 L1056.1,234.1 L1055.1,231.7 L1054.1,229.5 L1056.1,228.1 L1057.5,229.5 L1056.2,231.2 L1055.0,232.8 L1052.8,233.1 L1053.9,231.6 L1055.7,232.5 L1057.7,231.9 L1058.5,233.2 L1060.3,232.6 L1061.0,234.0 L1059.7,235.1 L1060.8,237.2 L1061.5,234.9 L1063.4,235.2 L1063.5,237.3 L1061.8,237.6 L1059.8,236.3 L1058.2,238.0 L1056.4,238.0 L1057.9,236.4 L1059.5,234.7 L1061.3,234.7 L1063.6,234.7 L1065.3,233.0 L1067.5,233.0 L1069.6,233.0 L1069.9,231.3" fill="none" stroke="#5E8E6A" stroke-width="1.2" stroke-linejoin="round"/>
<path d="M1074.4,219.4 L1074.9,221.8 L1075.4,224.1 L1077.0,225.0 L1076.6,223.5 L1074.9,222.5 L1073.5,221.7 L1073.2,220.2 L1071.1,218.9 L1070.6,216.6 L1071.5,215.1 L1071.1,213.4 L1069.2,212.2 L1067.7,211.3 L1066.0,211.7 L1064.8,213.9 L1062.9,214.3 L1061.8,216.4 L1060.8,218.1 L1062.7,219.7 L1062.8,221.7 L1060.3,222.3 L1060.5,224.2 L1061.9,225.4 L1063.6,223.9 L1062.5,221.9 L1061.7,220.6 L1059.7,221.3 L1059.0,222.9 L1056.9,222.4 L1057.0,220.7 L1055.4,220.3 L1054.0,221.2 L1052.4,219.5 L1051.3,218.3 L1052.4,216.9 L1053.8,217.6 L1054.2,219.1 L1055.9,220.0 L1056.6,222.4" fill="none" stroke="#5E8E6A" stroke-width="1.2" stroke-linejoin="round"/>
<path d="M1072.7,215.9 L1072.1,214.3 L1073.5,213.4 L1072.7,211.6 L1074.8,210.3 L1076.4,209.3 L1078.3,209.8 L1078.9,208.4 L1080.8,207.7 L1081.8,209.6 L1080.0,211.2 L1078.0,209.5 L1075.7,209.7 L1075.5,212.3 L1073.6,213.9 L1074.5,215.4 L1076.6,216.0 L1077.2,214.6 L1075.9,213.7 L1074.6,215.1 L1072.9,214.0 L1071.3,212.9 L1069.8,213.2 L1069.0,211.4 L1068.4,209.8 L1069.8,208.9 L1071.6,209.3 L1073.6,209.8" fill="none" stroke="#5E8E6A" stroke-width="1.2" stroke-linejoin="round"/>
<path d="M1060.9,243.0 L1061.8,244.7 L1058.8,246.0 L1059.5,247.8 L1059.4,249.4 L1057.5,250.3 L1056.5,251.5 L1054.2,251.7 L1054.4,253.4 L1052.9,253.9 L1053.0,255.8 L1052.0,256.6 L1052.1,258.9 L1052.9,262.8 L1050.6,261.9 L1051.0,266.5 L1049.8,268.2 L1047.4,266.8 L1045.6,266.5 L1044.5,270.0 L1042.4,267.0 L1040.8,267.0 L1039.2,266.6 L1037.8,265.2 L1036.3,264.8 L1034.8,264.9 L1033.5,264.0 L1031.8,264.2 L1031.6,260.8 L1030.2,260.7 L1028.0,261.4 L1027.5,259.5 L1028.3,256.3 L1026.8,256.0 L1024.5,256.1 L1022.4,255.7 L1023.1,253.4 L1020.8,252.9 L1019.3,251.7 L1020.8,249.3 L1021.1,247.6 L1021.5,246.0 L1020.7,244.6 L1021.3,243.0 L1020.3,241.4 L1019.6,239.7 L1018.7,237.8 L1019.4,236.2 L1018.4,234.0 L1015.1,230.2 L1018.1,229.5 L1019.9,228.5 L1020.7,226.7 L1022.6,225.9 L1025.4,226.4 L1027.7,226.9 L1028.5,225.4 L1029.0,223.3 L1031.6,225.1 L1032.7,224.1 L1034.1,224.0 L1035.8,225.4 L1036.8,224.1 L1038.2,225.1 L1039.3,222.6 L1040.7,223.3 L1042.1,222.2 L1043.9,220.0 L1045.4,220.5 L1047.2,219.7 L1048.2,221.9 L1051.5,218.6 L1052.3,220.9 L1050.9,226.2 L1053.6,225.2 L1054.2,226.8 L1053.9,229.3 L1056.4,229.1 L1058.3,229.8 L1059.2,231.2 L1058.7,233.4 L1060.2,234.6 L1063.1,235.4 L1062.2,237.6 L1059.0,239.9 L1060.3,241.4Z" fill="none" stroke="#5E8E6A" stroke-width="1.2" stroke-linejoin="round"/>
<path d="M1057.9,244.6 L1059.6,244.4 L1060.8,245.8 L1060.0,247.5 L1058.8,248.8 L1057.2,247.9 L1056.6,246.7 L1056.0,244.8Z" fill="none" stroke="#5E8E6A" stroke-width="1.2" stroke-linejoin="round"/>
<path d="M1050.5,250.6 L1051.5,249.8 L1052.4,248.8 L1053.7,248.4 L1055.9,247.6 L1057.3,249.1 L1057.5,251.1 L1057.4,253.0 L1056.9,255.1 L1054.7,255.4 L1052.9,255.7 L1051.4,254.8 L1049.5,254.1 L1048.4,252.2Z" fill="none" stroke="#5E8E6A" stroke-width="1.2" stroke-linejoin="round"/>
<path d="M1049.1,269.4 L1047.3,267.9 L1047.3,266.0 L1047.8,264.6 L1049.1,264.2 L1050.3,264.4 L1051.6,265.1 L1052.3,266.8 L1051.0,268.2Z" fill="none" stroke="#5E8E6A" stroke-width="1.2" stroke-linejoin="round"/>
<path d="M1041.3,264.1 L1043.1,262.9 L1045.2,263.2 L1046.5,264.8 L1046.5,266.5 L1046.5,268.1 L1045.8,270.0 L1043.7,270.8 L1042.2,269.0 L1040.7,267.9 L1040.9,266.0Z" fill="none" stroke="#5E8E6A" stroke-width="1.2" stroke-linejoin="round"/>
<path d="M1037.0,267.7 L1034.8,267.4 L1033.5,265.7 L1032.1,264.6 L1030.8,262.9 L1032.3,261.2 L1033.4,260.0 L1035.0,259.9 L1036.3,259.7 L1038.1,259.6 L1039.9,260.5 L1039.6,262.6 L1040.0,264.6 L1039.0,266.6Z" fill="none" stroke="#5E8E6A" stroke-width="1.2" stroke-linejoin="round"/>
<path d="M1030.9,259.4 L1029.3,260.2 L1027.2,260.8 L1025.4,259.6 L1025.3,257.4 L1024.5,255.8 L1026.0,254.7 L1026.4,252.4 L1028.5,252.6 L1030.2,253.2 L1032.0,253.9 L1032.7,255.9 L1031.9,257.8Z" fill="none" stroke="#5E8E6A" stroke-width="1.2" stroke-linejoin="round"/>
<path d="M1024.3,247.8 L1022.3,247.4 L1020.6,246.6 L1020.3,244.9 L1021.2,243.5 L1022.5,243.1 L1024.2,242.7 L1025.7,244.0 L1024.8,245.8Z" fill="none" stroke="#5E8E6A" stroke-width="1.2" stroke-linejoin="round"/>
<path d="M1017.3,234.3 L1019.1,234.4 L1021.1,234.1 L1022.3,236.0 L1021.3,237.9 L1020.0,239.5 L1017.8,239.2 L1017.1,237.4 L1016.7,235.9Z" fill="none" stroke="#5E8E6A" stroke-width="1.2" stroke-linejoin="round"/>
<path d="M1025.2,224.4 L1026.6,222.7 L1028.7,224.0 L1030.2,224.7 L1030.7,226.1 L1032.5,227.3 L1033.1,229.5 L1030.7,230.3 L1029.2,230.9 L1027.7,230.8 L1025.7,231.3 L1024.0,230.1 L1024.9,227.9 L1024.5,226.2Z" fill="none" stroke="#5E8E6A" stroke-width="1.2" stroke-linejoin="round"/>
<path d="M1037.4,227.8 L1035.5,228.3 L1034.6,226.6 L1034.8,225.1 L1035.8,224.2 L1037.0,222.7 L1038.3,223.9 L1038.8,225.4 L1039.2,227.3Z" fill="none" stroke="#5E8E6A" stroke-width="1.2" stroke-linejoin="round"/>
<path d="M1043.4,222.1 L1045.1,222.8 L1045.0,224.7 L1044.4,226.3 L1042.7,226.6 L1041.5,227.0 L1040.1,226.9 L1039.0,226.0 L1038.3,224.7 L1037.9,223.0 L1038.9,221.5 L1040.7,221.3 L1042.2,221.1Z" fill="none" stroke="#5E8E6A" stroke-width="1.2" stroke-linejoin="round"/>
<path d="M1051.5,222.0 L1053.4,222.6 L1054.7,224.0 L1055.8,225.7 L1054.8,227.4 L1054.4,229.4 L1052.7,230.9 L1050.5,230.9 L1049.3,228.9 L1049.1,227.2 L1048.8,226.0 L1047.9,223.8 L1049.2,222.0Z" fill="none" stroke="#5E8E6A" stroke-width="1.2" stroke-linejoin="round"/>
<path d="M1062.7,238.9 L1061.1,240.4 L1059.0,239.7 L1058.3,238.0 L1057.7,236.8 L1057.5,235.2 L1058.8,234.4 L1060.1,234.1 L1062.0,233.6 L1063.7,235.0 L1063.4,237.1Z" fill="none" stroke="#5E8E6A" stroke-width="1.2" stroke-linejoin="round"/>
<path d="M1028.6,228.8 L1030.7,229.4 L1031.6,227.7 L1032.4,225.9 L1033.1,227.6 L1034.4,228.2 L1035.4,226.8 L1036.4,225.3 L1038.4,226.2 L1039.8,225.7 L1040.3,228.2 L1040.6,229.6 L1041.1,231.8 L1039.3,232.5 L1038.2,230.5 L1036.7,231.1 L1035.1,230.4 L1034.5,228.6 L1035.6,226.4 L1038.0,225.6 L1039.9,225.0 L1041.6,225.8 L1041.0,227.5 L1042.9,228.5 L1043.4,230.1 L1044.8,230.8 L1045.4,233.1 L1045.9,234.8 L1044.1,235.7 L1042.6,235.2 L1040.3,234.4 L1038.9,235.0 L1039.5,236.9 L1041.6,236.6 L1044.1,236.3 L1045.8,237.7 L1047.0,236.7 L1046.0,235.1 L1047.7,233.7 L1046.5,231.6 L1045.6,230.3 L1046.0,228.8" fill="none" stroke="#5E8E6A" stroke-width="1.2" stroke-linejoin="round"/>
<path d="M1052.5,245.4 L1054.3,244.2 L1053.7,242.8 L1054.5,241.0 L1056.2,241.5 L1057.0,239.6 L1055.3,238.4 L1055.0,236.7 L1052.6,236.7 L1052.2,238.6 L1050.0,238.6 L1049.6,236.2 L1049.2,234.0 L1048.9,232.4 L1049.7,231.3 L1051.8,231.0 L1053.9,230.7 L1054.3,232.1 L1052.6,233.0 L1052.1,234.8 L1051.5,236.7 L1049.8,236.5 L1047.9,236.3 L1046.4,234.4 L1047.6,233.1 L1049.6,234.4 L1050.1,236.9 L1050.7,239.4 L1048.5,240.2 L1047.4,242.6 L1048.4,244.8 L1047.2,245.6 L1045.1,246.9 L1044.8,248.7 L1042.3,248.6 L1040.9,247.2 L1039.5,248.2 L1040.1,249.6" fill="none" stroke="#5E8E6A" stroke-width="1.2" stroke-linejoin="round"/>
<path d="M1031.9,231.9 L1032.6,230.2 L1034.2,229.7 L1035.3,231.7 L1036.2,233.3 L1034.8,234.5 L1033.1,234.3 L1031.1,235.9 L1029.1,237.6 L1027.7,237.4 L1027.2,239.0 L1029.2,240.0 L1031.5,239.2 L1033.8,238.4 L1035.6,239.3 L1037.5,240.2 L1039.8,239.4 L1040.4,238.0 L1039.6,235.7 L1041.0,234.8 L1043.1,233.6 L1044.1,234.8 L1043.0,236.0 L1041.4,238.0 L1040.3,239.4 L1039.2,240.6 L1040.9,242.6" fill="none" stroke="#5E8E6A" stroke-width="1.2" stroke-linejoin="round"/>
<path d="M1042.3,256.1 L1040.9,255.4 L1039.2,256.1 L1038.6,257.4 L1040.2,258.5 L1040.5,260.5 L1039.1,261.1 L1037.6,260.3 L1036.5,261.8 L1038.2,263.5 L1040.1,262.2 L1041.1,263.3 L1039.7,265.2 L1041.7,264.9 L1043.0,265.8 L1043.9,264.1 L1044.8,262.5 L1044.3,261.0 L1046.4,259.9 L1048.3,258.9 L1048.9,256.7 L1051.1,256.9 L1051.9,254.5 L1052.4,252.6 L1050.8,251.8 L1048.8,250.8 L1048.1,248.6 L1049.0,246.9 L1051.2,246.2 L1053.7,245.5 L1054.4,247.0 L1056.0,246.5 L1056.8,245.1" fill="none" stroke="#5E8E6A" stroke-width="1.2" stroke-linejoin="round"/>
<path d="M1043.7,258.4 L1041.9,259.2 L1042.4,261.3 L1044.5,262.5 L1045.5,261.3 L1044.5,260.2 L1043.3,260.9 L1041.1,260.3 L1041.4,257.7 L1042.7,256.7 L1042.9,254.4 L1044.8,254.2 L1046.6,254.1 L1048.0,255.4 L1049.7,254.0 L1050.7,255.0 L1052.4,253.7 L1050.8,253.4 L1048.2,253.1 L1047.8,254.5 L1049.9,255.6 L1050.6,257.8 L1051.3,260.1 L1049.6,260.9 L1048.4,261.6 L1046.3,260.9 L1045.4,258.9 L1043.5,259.5 L1042.7,257.8 L1043.2,256.4 L1041.5,255.4 L1041.0,253.1 L1042.3,252.5 L1043.3,254.1 L1044.1,255.4 L1043.7,257.5 L1043.2,259.6 L1045.4,260.6 L1047.1,259.8 L1048.8,260.5 L1050.8,261.3 L1050.3,263.4 L1049.9,265.2 L1048.6,263.1" fill="none" stroke="#5E8E6A" stroke-width="1.2" stroke-linejoin="round"/>
<path d="M1024.4,235.4 L1024.9,237.5 L1022.5,238.5 L1021.3,236.6 L1020.1,234.7 L1021.2,233.8 L1023.1,232.1 L1022.3,230.7 L1020.1,231.6 L1019.6,233.0 L1020.6,235.1 L1022.7,235.9 L1024.8,234.9 L1026.3,237.0 L1027.5,238.7 L1030.1,239.1 L1030.6,237.4 L1033.0,237.8 L1034.6,238.0 L1035.5,239.3 L1033.7,241.2 L1032.0,243.0 L1033.2,244.6 L1032.9,246.1 L1034.4,246.6 L1035.3,245.0 L1037.4,245.7 L1038.3,244.1 L1037.1,243.1 L1034.6,243.4 L1034.0,241.3 L1036.2,240.2 L1038.1,240.9 L1039.8,240.0 L1039.4,238.4 L1037.3,237.3 L1034.9,238.1 L1035.3,240.5 L1035.5,242.0 L1037.4,243.4 L1036.3,245.5 L1035.2,247.8 L1036.0,250.2 L1036.8,252.3 L1035.8,254.3 L1033.9,253.7 L1031.9,253.1 L1030.5,253.9 L1028.4,255.1" fill="none" stroke="#5E8E6A" stroke-width="1.2" stroke-linejoin="round"/>
<path d="M1040.7,259.3 L1040.6,257.5 L1038.3,257.3 L1036.9,255.4 L1037.9,254.3 L1037.0,253.1 L1037.3,250.6 L1036.3,249.3 L1035.0,250.1 L1033.5,249.6 L1031.8,250.5 L1032.6,252.9 L1031.6,254.8 L1032.8,255.6 L1034.1,256.6 L1033.0,258.7 L1031.9,260.8 L1030.2,260.3 L1032.4,259.1 L1031.8,257.4 L1031.2,255.8 L1029.6,256.0 L1027.7,256.3 L1029.1,254.3 L1030.8,254.1 L1031.6,256.4 L1033.6,256.1 L1034.2,258.0 L1033.4,259.5 L1032.5,261.2" fill="none" stroke="#5E8E6A" stroke-width="1.2" stroke-linejoin="round"/>
<path d="M1041.7,259.3 L1043.7,259.6 L1045.0,261.6 L1046.0,263.1 L1047.9,262.3 L1047.3,259.9 L1045.8,259.0 L1046.3,257.5 L1047.0,255.7 L1048.6,255.0 L1049.7,256.6 L1048.5,257.7 L1047.0,259.2 L1048.0,260.8 L1049.6,260.1 L1050.9,262.1 L1049.6,260.0 L1047.7,259.7 L1047.0,261.5 L1044.9,262.5 L1045.3,263.9 L1046.8,264.8 L1048.7,264.3 L1049.6,266.2 L1050.4,264.2 L1051.0,262.5 L1050.4,261.1" fill="none" stroke="#5E8E6A" stroke-width="1.2" stroke-linejoin="round"/>
<path d="M1026.5,241.2 L1028.3,240.1 L1029.6,241.5 L1031.3,241.5 L1031.6,243.5 L1030.4,244.9 L1028.7,245.1 L1026.9,243.7 L1025.0,245.3 L1023.4,244.1 L1025.2,242.5 L1024.3,241.0 L1022.0,241.8 L1022.8,240.0 L1023.5,238.2 L1025.4,238.7 L1026.0,237.3 L1024.6,236.5 L1022.4,236.9 L1021.1,236.1 L1022.0,233.9 L1022.8,232.2 L1022.0,230.3 L1022.6,228.8 L1023.9,229.6 L1025.1,230.4 L1025.5,232.5 L1025.9,234.3 L1027.3,235.2 L1027.6,236.8 L1026.2,238.9 L1024.9,240.8 L1025.3,242.9 L1024.0,244.8 L1025.1,245.9 L1026.7,247.5 L1025.7,248.8 L1027.2,250.3 L1027.2,252.0 L1027.2,253.4 L1025.6,254.9 L1027.9,255.0 L1029.7,255.1 L1031.2,253.6 L1031.2,251.9 L1031.2,249.8 L1032.7,248.4 L1034.2,248.4 L1034.6,246.4 L1032.7,245.6" fill="none" stroke="#5E8E6A" stroke-width="1.2" stroke-linejoin="round"/>
<path d="M1097.0,247.0 L1097.6,248.4 L1096.6,249.6 L1095.7,250.7 L1099.3,253.2 L1099.0,254.9 L1099.0,256.7 L1097.5,257.6 L1099.0,260.9 L1097.4,261.9 L1094.5,261.2 L1094.6,264.0 L1093.1,264.9 L1092.1,266.7 L1090.3,266.8 L1088.9,268.1 L1087.3,269.2 L1085.0,265.6 L1083.4,265.4 L1082.0,265.5 L1080.4,266.9 L1079.0,265.9 L1077.6,265.1 L1076.0,265.5 L1074.5,265.1 L1072.8,264.9 L1072.2,262.8 L1071.2,261.5 L1071.2,259.4 L1071.2,257.5 L1069.5,257.3 L1068.0,256.7 L1066.8,255.7 L1066.4,254.2 L1062.5,254.0 L1062.9,252.1 L1062.7,250.4 L1061.7,248.8 L1059.3,247.0 L1060.9,245.2 L1061.7,243.4 L1059.5,241.0 L1061.5,239.6 L1063.1,238.3 L1063.6,236.5 L1064.9,235.3 L1068.5,235.9 L1071.1,236.4 L1071.1,234.6 L1071.7,233.0 L1073.7,233.6 L1074.6,232.6 L1074.5,228.9 L1075.6,227.3 L1077.6,228.9 L1079.0,228.0 L1080.3,225.5 L1082.0,228.5 L1083.4,229.5 L1085.0,228.1 L1086.7,227.6 L1088.2,228.0 L1089.4,229.2 L1091.1,229.4 L1094.1,227.5 L1093.8,231.0 L1094.5,232.7 L1097.0,232.5 L1098.8,233.2 L1097.1,236.6 L1099.5,237.0 L1102.1,237.7 L1100.5,240.3 L1098.8,242.5 L1099.7,243.9 L1100.0,245.4Z" fill="none" stroke="#5E8E6A" stroke-width="1.2" stroke-linejoin="round"/>
<path d="M1096.2,243.1 L1097.8,243.3 L1098.9,244.2 L1099.1,245.6 L1098.8,247.2 L1097.2,247.4 L1095.4,247.5 L1094.5,245.9 L1094.2,243.8Z" fill="none" stroke="#5E8E6A" stroke-width="1.2" stroke-linejoin="round"/>
<path d="M1096.5,253.6 L1098.1,253.2 L1099.6,254.3 L1099.2,255.9 L1098.6,257.1 L1097.2,257.0 L1095.9,256.4 L1095.5,254.9Z" fill="none" stroke="#5E8E6A" stroke-width="1.2" stroke-linejoin="round"/>
<path d="M1095.2,262.7 L1095.1,264.6 L1093.7,265.7 L1092.8,266.8 L1091.3,267.2 L1089.7,267.5 L1088.6,266.3 L1088.5,264.8 L1087.7,263.4 L1087.6,261.5 L1089.5,261.0 L1090.8,259.7 L1092.2,261.2 L1093.7,261.6Z" fill="none" stroke="#5E8E6A" stroke-width="1.2" stroke-linejoin="round"/>
<path d="M1078.7,264.2 L1079.7,262.2 L1081.6,261.5 L1083.8,261.4 L1084.4,263.4 L1084.8,265.3 L1083.3,266.4 L1081.7,266.2 L1080.6,265.5Z" fill="none" stroke="#5E8E6A" stroke-width="1.2" stroke-linejoin="round"/>
<path d="M1071.5,264.4 L1071.0,263.1 L1070.1,261.8 L1071.0,260.4 L1072.0,259.0 L1073.9,258.3 L1075.5,259.6 L1076.0,261.3 L1076.1,262.8 L1076.2,264.8 L1074.6,266.3 L1072.7,265.3Z" fill="none" stroke="#5E8E6A" stroke-width="1.2" stroke-linejoin="round"/>
<path d="M1069.1,258.5 L1068.6,256.8 L1068.1,255.0 L1069.8,254.3 L1071.3,253.6 L1072.9,254.6 L1073.8,256.4 L1072.2,257.6 L1070.9,258.0Z" fill="none" stroke="#5E8E6A" stroke-width="1.2" stroke-linejoin="round"/>
<path d="M1066.4,245.5 L1065.8,247.3 L1065.8,249.4 L1063.8,249.9 L1062.0,249.9 L1060.5,248.8 L1060.3,247.0 L1060.5,245.4 L1061.8,244.6 L1063.3,243.2 L1064.7,244.5Z" fill="none" stroke="#5E8E6A" stroke-width="1.2" stroke-linejoin="round"/>
<path d="M1062.2,237.5 L1063.7,237.0 L1065.3,237.6 L1067.2,238.4 L1067.1,240.4 L1066.8,242.3 L1065.2,243.4 L1063.4,244.6 L1061.6,243.4 L1060.3,241.9 L1059.4,240.0 L1059.9,237.8Z" fill="none" stroke="#5E8E6A" stroke-width="1.2" stroke-linejoin="round"/>
<path d="M1074.4,231.7 L1076.2,231.9 L1076.6,233.7 L1076.6,235.7 L1074.7,236.4 L1072.7,236.6 L1071.9,234.7 L1072.4,233.3 L1073.2,232.4Z" fill="none" stroke="#5E8E6A" stroke-width="1.2" stroke-linejoin="round"/>
<path d="M1087.8,231.9 L1085.8,232.8 L1084.1,232.2 L1082.6,231.5 L1082.5,229.8 L1083.2,228.6 L1084.1,227.8 L1085.5,227.7 L1086.3,228.7 L1086.8,229.8Z" fill="none" stroke="#5E8E6A" stroke-width="1.2" stroke-linejoin="round"/>
<path d="M1090.6,227.0 L1092.0,228.6 L1090.9,230.5 L1090.0,231.8 L1088.6,233.0 L1086.7,232.7 L1086.0,230.9 L1085.0,229.4 L1085.7,227.8 L1087.0,226.7 L1088.6,227.3Z" fill="none" stroke="#5E8E6A" stroke-width="1.2" stroke-linejoin="round"/>
<path d="M1097.1,240.1 L1095.8,238.3 L1096.2,236.3 L1097.8,235.4 L1099.3,234.5 L1100.7,235.7 L1101.4,237.3 L1101.3,239.4 L1099.3,240.2Z" fill="none" stroke="#5E8E6A" stroke-width="1.2" stroke-linejoin="round"/>
<path d="M1090.0,258.3 L1090.5,256.4 L1092.4,255.4 L1092.9,253.7 L1094.2,253.0 L1094.8,251.0 L1095.4,249.1 L1094.5,247.4 L1093.7,245.9 L1094.8,245.0 L1094.0,243.4 L1092.2,244.0 L1090.8,243.3 L1089.7,244.8 L1090.0,246.8 L1092.0,248.2 L1094.0,249.6 L1096.1,251.0 L1093.7,251.5 L1092.6,253.1 L1090.7,253.5 L1090.8,255.2 L1090.8,256.7 L1088.5,257.2 L1086.4,255.7 L1085.1,257.1 L1085.1,258.6 L1083.6,260.1 L1081.2,260.1 L1081.0,258.6 L1082.3,258.1 L1083.8,258.9 L1085.1,257.2 L1086.9,256.9 L1087.6,259.3 L1089.5,259.0 L1090.9,257.2 L1092.5,258.0 L1093.6,256.6" fill="none" stroke="#5E8E6A" stroke-width="1.2" stroke-linejoin="round"/>
<path d="M1077.8,243.5 L1079.6,243.8 L1080.2,242.0 L1080.9,240.0 L1079.9,237.9 L1081.6,236.6 L1082.8,237.8 L1081.6,239.6 L1079.2,240.0 L1078.3,241.5 L1076.6,241.7 L1076.1,240.2 L1074.3,239.4 L1072.2,240.2 L1071.5,242.0 L1070.7,243.7 L1068.3,244.6 L1067.4,246.7 L1069.0,247.8 L1070.4,248.7 L1069.7,250.3 L1070.4,252.0 L1071.3,254.2 L1073.6,255.1 L1076.0,256.1 L1076.8,258.0" fill="none" stroke="#5E8E6A" stroke-width="1.2" stroke-linejoin="round"/>
<path d="M1077.1,243.4 L1077.5,241.7 L1078.8,240.9 L1080.1,240.1 L1079.2,237.8 L1080.9,236.8 L1082.1,238.1 L1083.6,239.8 L1085.1,241.5 L1087.0,240.3 L1088.5,242.0 L1090.2,240.9 L1089.6,239.4 L1088.7,237.1 L1086.4,237.6 L1085.5,235.4 L1083.9,234.7 L1084.4,232.5 L1084.8,230.6 L1085.2,228.9 L1086.9,229.6 L1089.1,230.5 L1088.7,232.2 L1090.8,233.1 L1090.4,235.2 L1090.0,236.9 L1089.6,239.0 L1091.0,241.1 L1092.3,240.5 L1094.0,241.2 L1096.0,240.3 L1098.3,239.3 L1099.1,237.3 L1097.1,236.9 L1095.4,238.1 L1096.3,240.0 L1097.9,239.5 L1098.8,241.4 L1096.8,240.7 L1095.8,238.5 L1096.3,237.0 L1097.2,234.7 L1095.3,233.6 L1093.9,234.0 L1094.1,236.3" fill="none" stroke="#5E8E6A" stroke-width="1.2" stroke-linejoin="round"/>
<path d="M1088.0,253.7 L1089.6,255.2 L1088.3,257.0 L1087.3,258.3 L1085.7,258.5 L1084.4,257.5 L1083.0,256.4 L1083.8,254.8 L1083.3,253.0 L1081.2,253.3 L1080.5,250.9 L1078.2,251.2 L1077.6,249.2 L1079.7,248.1 L1080.8,249.5 L1082.2,248.7 L1083.7,247.9 L1085.1,248.4 L1085.8,247.0 L1088.1,246.4 L1089.8,245.9 L1090.9,243.9 L1091.9,241.9 L1092.8,240.3 L1092.0,237.9 L1093.0,236.2" fill="none" stroke="#5E8E6A" stroke-width="1.2" stroke-linejoin="round"/>
<path d="M1085.6,237.8 L1083.2,237.4 L1080.9,237.1 L1080.9,235.2 L1080.9,232.9 L1083.0,232.5 L1084.4,233.5 L1086.1,231.8 L1087.6,230.3 L1087.6,232.5 L1086.6,233.5 L1085.2,232.5 L1085.9,231.1 L1087.8,231.6 L1090.0,230.4 L1090.8,232.5 L1089.8,234.4 L1091.9,235.9 L1093.1,234.7 L1093.1,232.4 L1091.7,231.1 L1090.1,231.2 L1089.6,228.8 L1087.9,229.5" fill="none" stroke="#5E8E6A" stroke-width="1.2" stroke-linejoin="round"/>
<path d="M1073.6,248.2 L1071.3,248.2 L1069.5,246.5 L1068.0,247.6 L1067.7,249.8 L1066.4,250.7 L1064.7,249.0 L1065.7,247.6 L1064.1,246.0 L1064.1,243.9 L1065.7,243.6 L1067.6,243.3 L1069.1,244.4 L1070.7,242.9 L1069.3,240.8 L1069.6,239.4 L1071.5,239.4 L1072.7,238.2 L1074.9,238.3 L1076.6,240.1 L1075.0,242.1 L1073.4,241.3 L1074.1,239.4 L1076.4,238.2 L1077.2,236.0 L1075.5,235.1 L1076.0,233.3 L1075.1,231.5 L1077.5,232.3 L1079.0,231.4" fill="none" stroke="#5E8E6A" stroke-width="1.2" stroke-linejoin="round"/>
<path d="M1076.4,256.0 L1074.9,255.3 L1075.4,253.5 L1076.0,251.3 L1078.2,251.5 L1079.7,250.2 L1082.1,250.5 L1083.0,251.6 L1082.7,254.1 L1082.5,255.7 L1080.0,255.8 L1078.3,254.2 L1076.5,254.2 L1076.0,251.7 L1074.2,251.8 L1073.8,250.0 L1073.4,248.2 L1070.9,248.3 L1069.1,248.3 L1066.7,248.4 L1065.6,249.6 L1067.0,251.3 L1068.7,250.3 L1070.9,249.1 L1071.9,250.3 L1072.9,251.6 L1072.6,253.6 L1072.4,255.3 L1073.8,255.8 L1073.6,257.5 L1071.5,257.6 L1071.7,255.5 L1073.7,254.0 L1075.7,252.5 L1074.9,250.9 L1072.5,251.7 L1071.1,252.1" fill="none" stroke="#5E8E6A" stroke-width="1.2" stroke-linejoin="round"/>
<path d="M1085.7,248.3 L1085.3,246.8 L1084.7,245.1 L1082.4,244.0 L1081.7,242.2 L1079.4,241.1 L1080.1,238.8 L1081.9,239.0 L1083.2,240.7 L1084.4,242.2 L1083.0,243.8 L1083.1,245.3 L1085.2,245.5 L1085.3,246.9 L1084.0,248.3 L1082.1,248.4 L1081.8,246.6 L1080.6,245.9 L1079.0,247.7 L1077.7,246.8 L1076.0,245.8 L1077.0,243.6 L1076.1,241.5 L1074.0,242.0 L1072.3,242.4 L1072.4,244.3 L1073.7,245.4 L1075.7,243.8 L1075.9,241.3 L1074.8,240.1 L1073.3,240.0 L1073.0,237.5 L1072.8,235.6 L1074.3,233.6 L1076.3,233.4 L1077.4,232.0 L1079.0,231.9 L1079.2,229.7 L1077.3,229.2 L1078.1,230.5 L1080.2,231.0 L1082.6,231.6 L1083.4,229.7 L1085.3,229.0 L1086.9,229.8 L1088.9,229.0 L1090.7,229.9 L1091.3,231.5 L1093.7,231.2 L1094.2,232.7" fill="none" stroke="#5E8E6A" stroke-width="1.2" stroke-linejoin="round"/>
<path d="M85.9,456.0 L88.1,457.6 L86.4,459.0 L84.1,460.2 L85.6,462.0 L85.8,463.6 L84.2,464.7 L81.3,465.1 L82.3,467.1 L82.4,468.9 L78.4,468.1 L77.5,469.1 L77.8,471.1 L76.2,471.5 L75.4,472.6 L76.7,476.5 L75.8,478.1 L72.8,476.5 L71.2,476.8 L70.8,479.5 L68.8,479.2 L66.3,476.5 L65.6,479.7 L64.2,481.0 L62.2,477.5 L60.8,478.9 L59.2,479.9 L57.4,481.8 L55.9,480.5 L53.7,482.6 L51.6,483.3 L48.5,486.2 L48.7,480.7 L45.6,482.8 L43.1,483.1 L42.7,480.2 L43.4,476.3 L41.6,475.9 L42.3,472.9 L41.3,471.8 L43.0,468.6 L39.0,469.8 L37.4,469.0 L41.2,465.4 L37.7,465.5 L35.8,464.7 L36.7,462.9 L38.3,461.1 L38.3,459.8 L35.0,458.9 L38.4,457.2 L36.3,456.0 L33.5,454.5 L32.4,452.8 L33.0,451.3 L34.2,450.0 L29.3,446.9 L30.8,445.5 L34.7,445.2 L34.7,443.4 L34.2,441.2 L36.8,440.8 L40.6,441.5 L41.0,440.0 L39.9,436.9 L44.4,439.1 L43.6,435.9 L44.9,434.9 L45.4,432.5 L47.1,432.0 L48.8,431.5 L49.4,428.3 L51.9,429.6 L54.4,432.5 L55.7,430.3 L57.6,432.4 L59.2,431.9 L60.7,434.9 L62.3,433.0 L64.1,431.6 L65.0,434.8 L66.6,434.6 L68.9,432.7 L69.2,435.9 L69.4,438.5 L71.7,437.2 L73.4,437.3 L74.0,438.8 L74.6,440.2 L78.0,438.8 L81.2,438.1 L80.9,440.4 L81.8,441.7 L87.1,440.4 L88.8,441.7 L88.1,444.0 L87.3,446.2 L89.9,447.2 L88.0,449.5 L85.8,451.5 L90.1,452.5 L87.6,454.4Z" fill="none" stroke="#5E8E6A" stroke-width="1.2" stroke-linejoin="round"/>
<path d="M82.4,456.6 L84.3,455.8 L85.7,457.3 L86.3,458.7 L85.7,460.0 L85.0,461.0 L83.6,462.6 L82.3,461.1 L81.3,459.8 L80.7,457.8Z" fill="none" stroke="#5E8E6A" stroke-width="1.2" stroke-linejoin="round"/>
<path d="M82.6,464.4 L81.9,462.9 L81.5,461.0 L83.3,460.2 L84.8,460.9 L85.4,462.1 L85.6,463.6 L84.3,464.6Z" fill="none" stroke="#5E8E6A" stroke-width="1.2" stroke-linejoin="round"/>
<path d="M74.0,472.4 L75.3,472.7 L76.1,473.6 L77.1,475.2 L75.5,476.5 L73.6,476.5 L72.4,475.0 L72.8,473.3Z" fill="none" stroke="#5E8E6A" stroke-width="1.2" stroke-linejoin="round"/>
<path d="M69.0,479.4 L67.0,478.5 L67.2,476.3 L67.1,474.1 L69.1,473.2 L71.0,472.2 L72.5,473.8 L73.3,475.1 L73.7,476.5 L74.2,478.6 L72.7,479.9 L70.7,480.2Z" fill="none" stroke="#5E8E6A" stroke-width="1.2" stroke-linejoin="round"/>
<path d="M54.7,476.9 L56.7,476.4 L58.8,476.7 L59.3,478.7 L60.9,480.3 L60.1,482.4 L58.2,483.5 L56.1,483.9 L54.9,482.0 L54.5,480.5 L54.1,478.9Z" fill="none" stroke="#5E8E6A" stroke-width="1.2" stroke-linejoin="round"/>
<path d="M45.6,482.3 L46.0,480.2 L47.0,478.2 L49.4,478.6 L50.9,478.9 L52.2,479.5 L52.7,480.9 L53.5,482.3 L52.7,483.7 L51.8,485.2 L50.0,485.9 L48.1,485.5 L47.6,483.5Z" fill="none" stroke="#5E8E6A" stroke-width="1.2" stroke-linejoin="round"/>
<path d="M45.0,468.7 L45.6,470.4 L47.3,471.8 L46.3,473.5 L45.5,475.6 L43.2,474.6 L41.9,474.0 L40.4,473.4 L40.5,471.8 L40.3,470.1 L41.2,468.3 L43.2,468.1Z" fill="none" stroke="#5E8E6A" stroke-width="1.2" stroke-linejoin="round"/>
<path d="M36.5,461.1 L38.3,460.2 L40.2,459.5 L41.2,461.3 L41.7,462.8 L40.7,463.9 L39.5,465.0 L37.4,465.1 L36.0,463.3Z" fill="none" stroke="#5E8E6A" stroke-width="1.2" stroke-linejoin="round"/>
<path d="M34.5,453.9 L32.9,453.3 L31.7,452.7 L31.3,451.3 L31.6,449.9 L32.7,448.9 L34.4,448.7 L35.3,450.0 L36.7,451.2 L35.5,452.6Z" fill="none" stroke="#5E8E6A" stroke-width="1.2" stroke-linejoin="round"/>
<path d="M35.3,441.7 L37.4,442.5 L37.6,444.6 L37.3,446.7 L35.2,446.9 L33.8,446.3 L32.8,445.3 L32.6,443.7 L33.5,442.2Z" fill="none" stroke="#5E8E6A" stroke-width="1.2" stroke-linejoin="round"/>
<path d="M44.2,441.0 L45.3,442.8 L43.2,443.5 L42.1,444.8 L40.2,444.7 L38.1,444.1 L37.3,442.0 L38.8,440.2 L39.7,439.0 L41.0,437.2 L42.9,438.1 L45.0,438.6Z" fill="none" stroke="#5E8E6A" stroke-width="1.2" stroke-linejoin="round"/>
<path d="M44.8,431.8 L45.3,429.7 L47.4,429.0 L49.2,430.3 L50.9,430.6 L52.5,431.9 L52.7,434.0 L52.1,436.2 L49.6,436.1 L48.1,436.3 L46.9,435.7 L46.1,434.7 L45.3,433.5Z" fill="none" stroke="#5E8E6A" stroke-width="1.2" stroke-linejoin="round"/>
<path d="M60.2,435.9 L61.4,434.3 L61.8,432.5 L63.6,432.3 L65.0,433.0 L66.0,434.1 L67.4,435.6 L66.2,437.2 L64.9,438.5 L62.9,438.7 L60.9,437.9Z" fill="none" stroke="#5E8E6A" stroke-width="1.2" stroke-linejoin="round"/>
<path d="M67.6,437.9 L68.2,436.1 L70.0,435.9 L71.9,436.0 L72.2,437.9 L71.6,439.5 L70.0,439.6 L68.2,439.8Z" fill="none" stroke="#5E8E6A" stroke-width="1.2" stroke-linejoin="round"/>
<path d="M71.7,441.8 L72.0,440.2 L72.3,438.4 L73.9,437.6 L75.7,437.0 L76.9,438.6 L78.1,439.4 L78.3,440.8 L79.4,442.6 L78.0,443.8 L76.6,444.7 L75.0,445.4 L72.9,445.4 L72.4,443.2Z" fill="none" stroke="#5E8E6A" stroke-width="1.2" stroke-linejoin="round"/>
<path d="M87.4,454.4 L86.0,453.7 L84.4,453.6 L83.1,452.3 L82.9,450.6 L84.4,449.4 L84.7,447.8 L86.1,446.3 L87.9,447.4 L89.7,447.7 L91.0,449.2 L90.1,451.0 L91.0,453.2 L89.3,454.4Z" fill="none" stroke="#5E8E6A" stroke-width="1.2" stroke-linejoin="round"/>
<path d="M70.3,449.1 L72.3,447.5 L73.6,446.5 L75.4,448.2 L77.4,448.1 L78.7,446.6 L80.0,447.4 L81.9,446.9 L81.7,444.3 L83.9,443.7 L86.2,443.1 L86.4,445.4 L88.2,445.6 L86.8,446.8 L84.9,446.7 L83.0,448.3 L83.0,449.8 L84.5,451.4 L86.6,451.5 L86.3,449.9 L87.4,448.6 L86.3,447.4 L84.8,445.8 L82.8,445.7 L82.5,444.0 L80.0,443.9 L79.6,441.5 L80.0,444.0 L82.0,445.4 L84.1,445.0" fill="none" stroke="#5E8E6A" stroke-width="1.2" stroke-linejoin="round"/>
<path d="M79.3,445.4 L80.9,446.9 L79.9,448.4 L78.6,450.5 L80.5,452.2 L80.5,453.6 L79.3,454.9 L79.4,456.6 L80.9,456.8 L81.0,459.4 L82.8,461.0 L82.8,462.6 L82.9,464.6 L81.0,464.9 L80.2,466.3 L78.8,468.4 L77.4,468.7 L76.7,466.9 L74.4,467.3 L72.3,465.8 L70.7,466.2 L70.7,467.8 L72.5,468.1 L73.2,465.9 L75.0,466.1" fill="none" stroke="#5E8E6A" stroke-width="1.2" stroke-linejoin="round"/>
<path d="M59.1,452.2 L57.6,453.6 L55.2,453.4 L54.6,455.8 L56.0,456.4 L57.0,454.8 L56.6,453.2 L59.0,452.2 L61.2,451.2 L60.8,449.1 L62.1,447.0 L61.7,444.9 L60.0,445.0 L59.1,446.1 L59.3,448.2 L61.8,448.4 L62.5,446.0 L63.0,443.9 L61.7,441.8 L60.3,442.4 L58.0,443.3 L56.7,441.1 L55.2,441.7 L54.3,443.7" fill="none" stroke="#5E8E6A" stroke-width="1.2" stroke-linejoin="round"/>
<path d="M62.2,440.9 L61.9,439.4 L60.2,439.3 L58.8,437.8 L57.5,436.4 L55.7,437.5 L55.4,439.0 L53.4,440.3 L51.5,441.5 L49.5,441.1 L49.6,438.9 L48.6,437.8 L47.2,436.3 L45.3,437.5 L46.3,439.8 L47.0,441.4 L45.3,442.5 L42.9,441.9 L42.2,443.5 L41.6,445.0 L43.3,446.1 L45.1,445.6 L46.5,446.5 L48.0,447.4 L50.1,448.8 L51.5,449.7" fill="none" stroke="#5E8E6A" stroke-width="1.2" stroke-linejoin="round"/>
<path d="M76.4,463.3 L78.1,462.6 L79.7,463.3 L81.1,464.0 L82.7,464.7 L83.9,462.8 L81.8,461.9 L80.8,463.3 L79.5,465.3 L78.3,467.1 L76.5,466.3 L75.8,464.3 L76.6,462.6 L78.4,463.1 L79.2,461.3 L81.0,460.7 L82.7,460.1 L83.4,458.8 L81.7,457.6 L81.5,455.8 L79.6,454.4 L78.3,455.8 L76.7,457.3 L75.4,456.5 L76.3,454.6 L74.8,453.6 L75.8,451.4 L77.3,451.8 L78.8,452.3 L79.7,450.4 L79.2,448.9 L77.5,449.2 L76.0,448.1 L74.4,448.4 L73.6,446.3 L72.1,446.6 L71.3,444.3 L73.0,443.4 L72.2,441.4 L71.7,439.8 L72.5,442.2 L71.5,444.2 L72.4,446.6 L73.9,446.3 L74.6,448.2 L75.3,450.1 L77.0,449.8 L78.3,447.8 L80.4,448.7" fill="none" stroke="#5E8E6A" stroke-width="1.2" stroke-linejoin="round"/>
<path d="M70.5,468.2 L69.0,469.4 L67.0,471.0 L65.2,472.4 L65.1,474.0 L64.9,476.0 L63.7,476.9 L65.3,475.7 L64.5,474.1 L63.7,472.8 L61.8,473.4 L60.5,473.9 L59.5,472.2 L57.6,471.7 L56.3,472.5 L54.8,472.0 L53.1,471.6 L52.2,473.5 L49.9,472.8 L49.0,471.1 L49.7,468.6 L47.7,467.6 L47.3,466.3 L49.5,465.1 L50.9,464.4 L51.5,462.7 L49.5,461.8 L50.3,459.3 L50.8,457.6 L53.2,457.9 L54.5,456.9 L56.3,457.1 L56.4,458.6 L54.2,459.1 L52.6,458.0 L53.6,455.7 L52.4,454.9 L50.9,456.6 L49.6,455.7 L47.6,454.4 L46.4,455.7 L44.3,454.3 L42.9,453.4" fill="none" stroke="#5E8E6A" stroke-width="1.2" stroke-linejoin="round"/>
<path d="M52.6,455.4 L52.1,453.9 L53.1,451.8 L54.3,449.6 L52.4,448.2 L53.5,446.1 L51.7,444.7 L49.9,445.1 L48.4,444.0 L46.8,442.8 L44.8,441.4 L43.5,440.4 L44.4,438.4 L45.9,438.9 L46.6,437.4 L47.5,435.6 L46.2,434.6 L47.6,434.4 L48.3,436.3 L46.9,437.1 L44.8,438.2 L44.2,440.7 L45.2,442.5 L44.0,443.5 L42.9,444.5 L40.4,444.3 L39.1,445.4 L38.0,444.5 L36.5,445.7 L37.6,447.5 L39.4,448.0 L40.3,449.5 L42.2,448.8 L44.1,449.7 L43.6,451.3 L41.4,451.1 L40.2,452.2 L38.6,450.9" fill="none" stroke="#5E8E6A" stroke-width="1.2" stroke-linejoin="round"/>
<path d="M64.5,442.7 L66.1,440.8 L64.4,438.9 L65.4,437.6 L66.7,436.1 L68.2,437.9 L68.0,440.1 L67.8,442.0 L65.4,442.2 L65.2,444.7 L66.6,446.4 L65.0,448.3 L65.2,450.6 L67.0,450.7 L68.7,450.8 L71.2,451.0 L72.5,449.8 L73.7,450.8 L73.9,452.6 L74.1,454.4 L72.7,456.0 L71.3,457.7 L69.4,457.9 L67.8,458.0 L66.7,459.4 L65.3,458.6 L63.8,457.7 L61.5,458.4 L60.6,460.1 L58.4,459.3 L57.3,461.4 L55.4,461.9 L54.5,459.8 L56.0,458.7 L55.0,456.5 L55.9,454.2 L56.4,452.7 L55.1,452.0 L53.5,453.8 L52.4,455.2 L50.2,453.9 L49.1,455.2 L49.3,456.6 L47.6,457.1 L45.2,457.8 L43.0,456.5 L42.6,455.1 L41.2,454.3 L39.1,453.1" fill="none" stroke="#5E8E6A" stroke-width="1.2" stroke-linejoin="round"/>
<path d="M46.5,444.9 L44.6,443.9 L44.1,442.2 L42.3,442.4 L40.7,441.1 L42.6,442.6 L43.7,443.5 L44.9,442.4 L45.0,440.4 L45.1,438.9 L43.8,437.4 L45.2,435.6 L45.4,437.4 L43.8,438.0 L44.0,439.7 L45.2,440.5 L47.0,438.7 L48.6,439.8 L50.1,438.4 L51.9,436.6 L54.1,436.7 L54.5,434.8 L56.5,434.9 L58.2,436.7 L56.7,438.6 L57.9,439.9 L60.2,439.9 L62.0,441.8 L63.7,440.6 L64.1,438.6 L62.8,436.8 L60.2,436.3 L60.2,434.9 L57.8,434.5 L56.1,435.8 L55.0,434.8 L56.2,433.0 L57.7,433.6 L58.5,436.0" fill="none" stroke="#5E8E6A" stroke-width="1.2" stroke-linejoin="round"/>
<path d="M38.8,457.4 L40.1,458.2 L41.3,456.8 L40.0,455.1 L40.3,453.5 L41.6,452.5 L43.7,452.9 L45.1,455.0 L46.2,456.6 L47.9,455.8 L49.3,457.8 L47.8,459.3 L46.3,460.7 L47.8,462.8 L49.6,463.1 L50.3,461.0 L52.6,461.4 L54.1,463.5 L55.4,465.4 L53.8,466.9 L53.8,468.4 L55.5,468.7 L55.5,470.2 L56.6,471.2 L55.6,472.6 L56.0,474.4 L54.7,476.4 L56.2,477.8 L55.3,479.1 L53.4,479.4 L52.1,478.4 L50.4,480.1 L47.9,480.0 L48.3,478.0 L48.6,476.2 L50.2,476.2 L50.5,478.5 L48.9,479.0 L46.8,477.9 L46.4,476.4 L47.2,475.0 L48.3,473.1 L47.7,471.2 L47.1,468.9 L48.0,467.3 L49.8,466.9 L51.4,467.9 L51.9,469.6 L50.6,471.6 L51.2,474.1 L51.7,476.4" fill="none" stroke="#5E8E6A" stroke-width="1.2" stroke-linejoin="round"/>
<path d="M57.7,464.4 L58.8,462.1 L57.2,461.0 L55.6,462.5 L54.1,461.5 L52.8,460.6 L52.5,458.5 L54.0,458.0 L54.6,459.3 L53.4,460.2 L52.0,458.9 L53.2,457.0 L54.7,457.6 L54.3,459.6 L52.9,460.4 L52.6,461.8 L51.3,462.6 L49.1,462.0 L49.3,460.0 L47.0,459.4 L45.6,459.0 L44.7,457.5 L42.8,458.2 L42.2,459.7 L42.7,461.0 L43.6,463.3 L42.4,464.1 L42.0,465.7 L44.1,466.5 L44.9,465.2 L45.7,464.0 L44.5,462.9" fill="none" stroke="#5E8E6A" stroke-width="1.2" stroke-linejoin="round"/>
<path d="M53.6,469.9 L55.6,470.0 L55.9,472.4 L57.5,473.6 L59.3,471.9 L61.1,473.2 L62.7,473.0 L64.2,472.7 L65.2,471.3 L64.0,470.0 L62.5,468.5 L61.4,467.5 L60.0,466.0 L57.5,466.1 L56.0,464.6 L57.0,463.2 L56.7,461.4 L55.1,461.5 L54.8,459.8 L53.0,459.8 L51.6,458.4 L52.9,456.5 L51.1,454.6 L49.4,454.7 L49.0,452.5 L49.9,451.1 L49.6,449.2 L51.3,448.6 L50.9,446.3 L50.6,444.6 L48.0,444.6 L47.6,446.9 L46.0,448.0 L44.4,449.1 L42.9,447.6 L41.6,448.5 L39.1,448.1 L37.5,447.8 L36.6,450.0 L37.9,450.8 L39.4,451.6 L38.6,453.7 L36.9,454.5 L38.8,453.6" fill="none" stroke="#5E8E6A" stroke-width="1.2" stroke-linejoin="round"/>
<path d="M86.7,522.0 L86.1,523.3 L84.1,524.5 L84.7,525.8 L86.2,527.5 L86.3,528.9 L85.1,530.0 L85.3,531.5 L88.2,534.5 L88.7,536.6 L84.9,536.2 L87.7,540.0 L90.7,544.6 L85.6,542.8 L84.2,543.9 L83.0,545.1 L82.3,547.0 L80.5,547.6 L76.7,544.9 L77.8,550.0 L75.9,550.1 L73.5,548.9 L71.4,548.0 L71.3,553.1 L68.8,550.0 L67.0,549.2 L65.9,553.3 L64.1,552.6 L62.4,550.8 L60.9,547.4 L59.4,548.5 L57.9,548.8 L57.0,545.6 L54.9,548.3 L53.5,547.7 L51.4,549.0 L50.9,546.2 L49.6,545.5 L46.4,547.9 L46.9,544.2 L45.8,543.2 L44.7,542.1 L41.9,543.0 L42.9,539.8 L42.9,537.9 L40.7,537.9 L41.6,535.5 L42.9,533.2 L40.1,533.2 L35.9,533.6 L36.2,531.8 L37.0,529.9 L32.8,529.5 L29.4,528.4 L32.6,526.1 L31.8,524.5 L27.0,523.0 L29.3,521.1 L28.7,519.2 L32.0,517.8 L28.4,515.4 L31.0,514.1 L35.6,513.7 L33.9,511.4 L32.4,508.9 L36.8,509.1 L39.0,508.6 L36.4,505.1 L40.2,505.8 L41.1,504.6 L43.9,505.1 L43.8,503.1 L46.3,503.7 L47.7,503.4 L47.7,501.0 L48.6,499.8 L51.2,501.7 L51.1,498.3 L51.7,495.8 L53.0,494.8 L54.4,494.0 L56.4,495.4 L57.1,490.4 L58.9,490.1 L60.7,492.1 L62.4,491.5 L64.0,493.3 L65.5,494.2 L66.6,496.8 L68.7,494.2 L70.1,495.1 L71.0,497.1 L72.8,496.7 L75.6,494.5 L77.9,493.9 L77.3,498.1 L79.7,497.4 L82.3,497.0 L82.3,499.6 L84.8,499.5 L87.5,499.5 L86.1,503.0 L85.6,505.5 L87.7,506.1 L89.8,506.8 L90.3,508.5 L88.8,511.0 L87.3,513.2 L88.4,514.5 L87.8,516.1 L87.2,517.8 L86.6,519.3 L87.8,520.6Z" fill="none" stroke="#5E8E6A" stroke-width="1.2" stroke-linejoin="round"/>
<path d="M86.6,524.1 L85.3,524.7 L84.0,524.0 L83.1,523.1 L82.7,521.9 L81.7,520.2 L82.6,518.2 L84.8,518.9 L86.7,518.3 L88.6,519.3 L89.1,521.4 L88.0,523.2Z" fill="none" stroke="#5E8E6A" stroke-width="1.2" stroke-linejoin="round"/>
<path d="M89.3,535.5 L87.4,536.6 L85.5,537.4 L83.8,536.0 L84.5,534.0 L85.6,533.1 L87.0,532.3 L88.0,533.7Z" fill="none" stroke="#5E8E6A" stroke-width="1.2" stroke-linejoin="round"/>
<path d="M85.1,547.3 L83.5,546.4 L81.5,546.2 L80.8,544.2 L81.0,542.2 L82.4,540.6 L84.4,541.0 L86.3,540.1 L88.0,541.2 L88.4,543.3 L88.1,545.2 L86.8,546.6Z" fill="none" stroke="#5E8E6A" stroke-width="1.2" stroke-linejoin="round"/>
<path d="M72.7,550.5 L71.4,549.2 L71.2,547.7 L70.6,546.3 L70.9,544.2 L72.9,543.4 L74.6,544.6 L75.9,545.6 L76.6,547.3 L76.1,549.1 L74.5,550.1Z" fill="none" stroke="#5E8E6A" stroke-width="1.2" stroke-linejoin="round"/>
<path d="M69.4,546.8 L70.7,548.3 L70.6,550.5 L68.7,551.4 L67.3,552.0 L65.9,552.0 L64.5,551.3 L63.5,550.0 L63.8,548.4 L63.8,546.1 L65.8,545.1 L67.7,545.9Z" fill="none" stroke="#5E8E6A" stroke-width="1.2" stroke-linejoin="round"/>
<path d="M58.2,549.5 L56.4,550.9 L54.5,549.6 L52.4,549.2 L51.2,547.4 L52.0,545.4 L53.2,544.2 L53.5,542.2 L55.4,542.0 L57.0,542.4 L58.4,543.1 L59.9,544.3 L60.7,546.3 L60.3,548.5Z" fill="none" stroke="#5E8E6A" stroke-width="1.2" stroke-linejoin="round"/>
<path d="M44.9,545.1 L44.3,543.9 L44.4,542.5 L45.6,541.8 L47.1,541.5 L47.9,542.8 L48.7,544.2 L47.7,545.6 L46.1,545.8Z" fill="none" stroke="#5E8E6A" stroke-width="1.2" stroke-linejoin="round"/>
<path d="M46.6,536.1 L45.6,538.1 L43.7,539.2 L41.8,538.1 L40.9,536.7 L40.1,535.2 L41.4,534.0 L42.5,532.2 L44.6,532.7 L45.8,534.2Z" fill="none" stroke="#5E8E6A" stroke-width="1.2" stroke-linejoin="round"/>
<path d="M38.6,535.5 L39.3,533.4 L39.8,531.8 L41.5,531.7 L43.3,530.8 L44.8,532.2 L45.2,534.3 L44.3,536.2 L42.2,536.2 L40.8,535.8Z" fill="none" stroke="#5E8E6A" stroke-width="1.2" stroke-linejoin="round"/>
<path d="M34.3,529.0 L33.0,529.8 L31.5,531.4 L29.4,530.8 L28.9,528.7 L27.9,526.7 L29.8,525.6 L31.3,525.2 L32.8,525.1 L34.8,525.5 L34.5,527.5Z" fill="none" stroke="#5E8E6A" stroke-width="1.2" stroke-linejoin="round"/>
<path d="M38.7,507.0 L39.6,508.4 L40.0,509.6 L40.8,511.3 L39.5,512.6 L37.8,513.6 L36.2,512.2 L35.4,511.0 L35.3,509.5 L35.1,507.5 L36.8,506.3Z" fill="none" stroke="#5E8E6A" stroke-width="1.2" stroke-linejoin="round"/>
<path d="M43.3,509.0 L42.1,510.1 L41.2,511.8 L39.3,512.2 L37.5,511.5 L37.0,509.5 L37.3,508.1 L36.7,506.5 L37.6,504.9 L39.5,505.4 L41.2,504.4 L43.2,505.1 L43.3,507.2Z" fill="none" stroke="#5E8E6A" stroke-width="1.2" stroke-linejoin="round"/>
<path d="M54.3,500.7 L54.5,502.6 L54.3,504.6 L52.5,505.7 L50.8,505.0 L49.1,505.1 L48.1,503.9 L47.9,502.3 L48.3,500.8 L49.7,500.0 L51.0,499.6 L52.9,499.3Z" fill="none" stroke="#5E8E6A" stroke-width="1.2" stroke-linejoin="round"/>
<path d="M62.8,491.2 L64.1,492.2 L64.8,493.9 L64.1,495.8 L62.2,496.3 L60.6,495.7 L58.6,495.7 L58.0,493.7 L58.3,491.8 L59.9,490.8 L61.5,491.0Z" fill="none" stroke="#5E8E6A" stroke-width="1.2" stroke-linejoin="round"/>
<path d="M69.9,494.2 L70.8,496.1 L70.1,498.1 L68.6,499.6 L66.6,498.8 L64.4,498.7 L63.9,496.5 L64.5,494.6 L66.3,493.9 L67.8,494.3Z" fill="none" stroke="#5E8E6A" stroke-width="1.2" stroke-linejoin="round"/>
<path d="M77.2,494.9 L78.7,494.3 L80.6,494.0 L82.1,495.2 L83.3,496.9 L81.8,498.6 L81.6,500.5 L79.6,500.2 L78.2,501.1 L76.6,500.5 L76.4,498.7 L75.8,497.4 L75.7,495.7Z" fill="none" stroke="#5E8E6A" stroke-width="1.2" stroke-linejoin="round"/>
<path d="M83.5,506.9 L85.0,505.5 L86.5,504.2 L88.7,504.9 L88.8,507.2 L87.7,508.5 L86.2,508.8 L85.0,508.2Z" fill="none" stroke="#5E8E6A" stroke-width="1.2" stroke-linejoin="round"/>
<path d="M90.1,510.7 L91.1,512.7 L89.5,514.4 L88.1,515.7 L86.2,514.8 L84.7,514.6 L84.4,513.1 L84.2,511.8 L83.6,509.9 L85.5,509.5 L86.9,509.3 L88.6,509.5Z" fill="none" stroke="#5E8E6A" stroke-width="1.2" stroke-linejoin="round"/>
<path d="M57.8,521.3 L59.0,522.1 L58.2,523.9 L57.4,526.1 L59.2,527.2 L60.2,526.1 L61.9,527.2 L63.5,525.4 L62.4,524.1 L63.6,522.7 L65.1,521.1 L66.8,522.1 L67.2,523.8 L65.4,524.5 L64.4,522.9 L64.8,521.4 L63.1,520.7 L63.6,518.6 L64.2,516.3 L62.5,515.6 L60.9,516.2 L60.4,517.5 L61.4,519.9 L62.1,521.5 L63.5,521.2 L63.4,519.7 L63.2,517.1" fill="none" stroke="#5E8E6A" stroke-width="1.2" stroke-linejoin="round"/>
<path d="M45.0,507.1 L43.5,506.4 L45.6,507.4 L47.0,506.9 L46.6,504.9 L48.5,504.2 L49.9,504.9 L49.5,506.7 L50.3,508.1 L51.6,510.3 L50.9,512.8 L49.0,513.8 L48.6,515.2 L48.0,517.5 L46.4,518.4 L44.4,517.8 L43.5,516.0 L41.5,516.6 L40.0,517.1 L40.2,518.9 L40.4,520.6" fill="none" stroke="#5E8E6A" stroke-width="1.2" stroke-linejoin="round"/>
<path d="M61.1,512.6 L59.8,514.1 L58.2,513.2 L57.8,511.4 L59.0,509.6 L57.4,508.2 L55.3,508.4 L55.2,509.9 L53.4,511.3 L51.6,511.0 L51.5,509.3 L53.2,509.0 L55.6,508.5 L55.5,506.4 L57.0,506.1 L58.5,507.1 L60.1,508.1 L60.4,509.9 L60.8,512.1 L62.8,513.4 L64.4,514.6 L64.9,517.1 L66.8,517.1 L67.1,514.9 L65.3,514.2 L65.7,511.8 L67.4,510.6 L66.8,509.2 L65.9,507.4 L63.9,506.7 L63.0,508.3 L62.0,510.1 L62.5,511.6 L63.1,513.8 L63.7,515.5 L64.1,516.9 L65.4,517.6" fill="none" stroke="#5E8E6A" stroke-width="1.2" stroke-linejoin="round"/>
<path d="M55.9,509.3 L57.4,511.2 L59.4,510.1 L61.0,510.6 L61.9,508.9 L64.1,508.2 L65.0,510.1 L66.7,509.6 L66.4,507.3 L67.3,506.2 L67.0,503.7 L65.2,502.3 L63.5,502.6 L61.8,501.3 L62.9,499.2 L62.3,497.2 L61.5,494.8 L60.0,495.0 L58.8,494.1 L57.8,496.2 L56.4,496.6 L56.6,498.8 L58.3,500.0 L57.4,501.8 L56.6,503.4 L55.4,505.6 L57.0,506.9 L58.6,505.4 L60.3,506.7 L61.9,505.2 L61.9,503.6 L64.2,503.3 L65.7,504.5 L67.3,503.1 L68.7,501.8 L70.5,500.1 L72.2,501.4 L71.3,503.1 L69.2,503.8 L68.3,505.4 L70.3,506.9 L72.1,508.3 L73.8,508.0 L75.1,506.2 L74.7,504.5 L72.5,504.5 L70.3,504.5 L68.9,505.9 L69.0,507.9" fill="none" stroke="#5E8E6A" stroke-width="1.2" stroke-linejoin="round"/>
<path d="M59.7,537.0 L61.1,537.3 L61.1,539.5 L62.9,539.9 L63.7,541.1 L66.2,541.5 L67.9,540.4 L69.0,541.5 L67.9,543.1 L66.5,543.3 L65.7,541.0 L63.8,541.3 L63.2,539.4 L64.7,538.6 L65.3,536.4 L66.6,535.7 L66.1,534.0 L67.2,531.9 L68.6,531.5 L69.6,529.4 L68.2,528.4 L68.9,527.1 L69.8,525.2 L70.7,523.6 L69.2,522.5 L70.2,520.5 L72.5,519.8 L74.7,519.2 L76.4,520.1 L76.8,521.6" fill="none" stroke="#5E8E6A" stroke-width="1.2" stroke-linejoin="round"/>
<path d="M79.3,519.6 L79.5,521.5 L77.1,522.1 L74.6,522.7 L73.7,520.4 L73.1,519.1 L71.0,518.3 L69.5,519.0 L68.1,518.5 L68.4,516.7 L68.8,514.7 L69.2,512.6 L67.4,512.0 L66.6,510.1 L65.6,507.8 L64.7,505.8 L63.1,506.2 L62.5,504.9 L60.7,504.2 L59.8,502.1 L59.2,500.7" fill="none" stroke="#5E8E6A" stroke-width="1.2" stroke-linejoin="round"/>
<path d="M50.9,524.6 L48.6,523.6 L46.9,522.7 L45.7,524.4 L44.5,526.2 L44.9,528.7 L46.5,529.7 L46.8,531.3 L45.4,533.3 L43.4,532.3 L42.1,534.1 L43.2,535.2 L44.6,536.6 L46.5,536.6 L48.5,536.5 L48.8,534.7 L47.6,533.1 L45.1,532.8 L43.6,532.6 L42.4,533.6 L43.5,535.6 L45.6,534.9 L47.0,534.4 L49.2,533.6 L50.9,533.0 L53.0,532.3 L53.9,533.8 L52.5,534.9 L50.7,534.7" fill="none" stroke="#5E8E6A" stroke-width="1.2" stroke-linejoin="round"/>
<path d="M66.5,546.2 L66.6,543.8 L64.9,541.9 L65.0,540.3 L63.2,539.8 L62.1,537.8 L60.9,535.9 L58.5,535.3 L58.7,532.7 L57.7,531.7 L58.8,530.3 L57.8,529.1 L56.3,530.0 L55.1,530.8 L53.1,532.0 L53.9,534.1 L54.6,535.9 L56.2,535.6 L57.1,537.7 L56.1,539.8 L57.0,542.0 L56.3,543.6 L54.4,543.2 L53.5,541.6 L51.7,541.2 L51.0,539.9 L49.2,540.6 L47.0,541.4 L45.9,539.6 L47.2,538.5 L48.4,539.5 L47.5,540.9 L46.4,542.9 L48.2,544.4 L48.0,542.2 L46.2,540.7" fill="none" stroke="#5E8E6A" stroke-width="1.2" stroke-linejoin="round"/>
<path d="M77.0,507.4 L74.4,507.6 L72.7,506.1 L72.5,503.5 L70.6,501.8 L68.9,502.0 L68.7,503.8 L66.4,504.0 L64.7,504.2 L63.5,505.6 L61.4,505.8 L61.3,507.5 L63.0,507.9 L63.8,506.1 L62.9,503.9 L63.8,502.1 L65.5,501.4 L66.3,499.8 L67.9,499.2 L69.4,498.6 L68.4,500.8 L69.8,501.7 L71.4,500.1 L73.0,501.2 L72.3,502.8 L73.2,505.1 L72.2,507.3 L73.0,509.5 L75.4,509.0 L76.1,510.8 L78.5,511.8 L80.6,512.7 L82.0,513.3 L81.7,514.7 L81.2,516.8" fill="none" stroke="#5E8E6A" stroke-width="1.2" stroke-linejoin="round"/>
<path d="M85.9,520.0 L85.0,518.9 L83.2,519.7 L82.1,518.2 L83.7,516.6 L85.1,516.7 L86.5,518.2 L86.4,520.0 L84.8,518.2 L85.7,517.0 L87.1,517.7 L86.4,519.9 L85.5,518.2 L83.8,517.7 L82.3,517.2 L81.6,518.8 L80.7,520.7 L81.3,522.5 L83.1,522.2 L84.9,521.9 L84.4,520.4 L82.5,520.7 L80.7,519.4 L78.3,519.8 L76.1,520.1 L76.1,521.9 L77.7,523.4 L79.6,523.4 L80.0,520.9 L80.3,518.4 L77.9,517.7 L77.0,515.8 L78.6,514.6" fill="none" stroke="#5E8E6A" stroke-width="1.2" stroke-linejoin="round"/>
<path d="M84.6,512.5 L85.0,509.9 L85.2,508.2 L83.2,509.6 L84.0,511.3 L86.1,511.9 L84.6,512.7 L83.3,511.1 L81.7,510.9 L80.4,509.2 L78.2,508.9 L76.7,510.2 L75.4,509.0 L73.4,507.4 L72.0,506.2 L71.9,503.9 L73.3,502.3 L74.9,502.3 L76.3,503.7 L77.8,505.1 L76.9,506.3 L75.2,505.5 L74.5,503.4 L73.8,501.5 L73.1,499.5 L70.6,499.9 L69.4,501.6 L68.0,503.6 L65.8,502.6 L64.9,503.9 L66.8,505.7 L66.8,508.0 L65.4,509.3 L66.8,511.3 L67.7,512.7 L66.6,513.7 L68.0,515.7 L69.1,517.3 L70.9,516.4" fill="none" stroke="#5E8E6A" stroke-width="1.2" stroke-linejoin="round"/>
<path d="M59.3,520.4 L61.7,520.7 L61.8,522.9 L64.1,523.2 L64.2,525.4 L62.7,525.7 L60.3,526.3 L58.9,525.3 L57.8,526.4 L58.0,529.0 L58.0,531.0 L56.7,532.4 L54.7,531.1 L53.5,530.3 L52.5,531.3 L50.0,531.4 L48.3,529.7 L46.4,531.0 L44.7,532.2 L45.3,533.6 L44.5,536.0 L45.4,537.9 L47.4,536.5 L49.4,535.1 L50.8,535.4 L52.1,537.4" fill="none" stroke="#5E8E6A" stroke-width="1.2" stroke-linejoin="round"/>
<path d="M52.9,530.5 L54.3,528.4 L53.9,526.7 L53.4,524.6 L51.5,523.4 L51.1,521.4 L50.7,519.7 L49.1,518.7 L49.7,517.1 L47.8,516.0 L46.6,515.2 L44.5,515.8 L42.7,516.2 L41.4,515.4 L39.7,514.4 L38.0,516.3 L35.9,516.4 L35.7,518.6 L38.0,519.3 L39.1,521.4 L41.3,522.0 L42.0,523.3 L40.1,524.8 L38.2,526.3 L36.6,526.0 L35.7,524.9 L36.2,522.4 L38.6,522.4 L38.9,524.2 L41.5,524.2 L43.7,524.2 L45.2,522.7 L46.3,521.6 L45.2,520.1 L43.6,520.9 L42.6,519.5 L43.0,517.4" fill="none" stroke="#5E8E6A" stroke-width="1.2" stroke-linejoin="round"/>
<path d="M56.5,523.6 L56.6,521.1 L58.7,520.9 L58.8,518.4 L56.7,517.9 L56.1,519.4 L55.4,520.8 L57.5,522.1 L58.8,520.7 L60.1,521.5 L59.1,523.8 L56.7,523.2 L55.8,525.3 L55.2,526.8 L53.1,527.6 L52.5,529.1 L51.8,530.9 L49.3,530.3 L48.5,532.2 L46.4,533.0 L45.0,533.6 L42.7,532.5 L43.2,530.6 L41.6,529.9 L40.7,531.3 L41.8,532.3 L43.0,530.5 L42.5,528.3 L44.4,527.5 L45.7,529.5 L44.2,530.8 L42.4,529.4 L41.0,528.2 L39.4,529.6 L37.8,528.3 L37.6,525.8 L35.5,525.6 L34.0,523.8 L34.3,521.9 L32.4,521.4 L31.3,519.3 L33.6,520.0 L34.9,519.3 L36.5,518.4 L37.7,519.9 L39.4,521.9 L37.9,523.7 L36.5,522.9 L36.2,521.4 L34.0,521.5 L32.2,521.6" fill="none" stroke="#5E8E6A" stroke-width="1.2" stroke-linejoin="round"/>
<path d="M44.1,515.5 L45.9,514.8 L48.0,513.9 L47.7,512.4 L49.0,510.4 L49.8,509.0 L51.3,506.9 L49.9,505.6 L51.0,504.0 L53.3,505.0 L54.6,503.0 L56.4,502.6 L57.2,504.7 L56.1,506.9 L54.6,506.5 L54.8,504.0 L53.4,502.3 L51.0,502.1 L53.3,502.3 L55.5,502.4 L55.6,503.9 L55.8,505.6 L56.0,507.7" fill="none" stroke="#5E8E6A" stroke-width="1.2" stroke-linejoin="round"/>
<path d="M67.4,507.0 L69.6,508.4 L71.3,507.9 L71.1,505.6 L73.0,505.1 L73.9,507.1 L75.8,506.6 L75.6,504.3 L78.0,503.7 L78.7,502.3 L78.2,500.6 L79.4,498.4 L77.4,496.8 L75.6,497.0 L77.4,498.5 L79.2,500.0 L78.2,501.7 L77.4,503.1 L75.3,502.3 L75.6,500.9 L77.4,499.7 L79.2,500.1 L79.2,501.6 L81.0,502.0 L82.6,502.3 L83.2,500.5 L82.3,498.4 L80.5,497.7 L80.0,500.3 L80.8,501.4 L81.8,502.8 L83.0,504.3 L84.9,504.6 L83.5,505.7 L81.9,506.9 L81.7,509.2 L81.4,511.4" fill="none" stroke="#5E8E6A" stroke-width="1.2" stroke-linejoin="round"/>
<path d="M94.0,586.0 L95.7,587.8 L93.8,589.3 L91.1,590.5 L91.5,592.2 L93.5,594.4 L87.6,594.1 L90.0,596.5 L88.3,597.4 L88.7,599.3 L86.5,599.7 L86.3,601.3 L87.4,604.0 L86.0,604.8 L82.5,603.5 L82.0,604.9 L81.7,606.7 L80.9,607.9 L79.1,607.8 L79.4,611.1 L77.7,611.0 L75.8,610.4 L75.9,614.4 L75.4,617.9 L74.2,620.0 L71.6,616.6 L70.8,621.0 L69.5,625.2 L67.4,624.2 L65.4,621.1 L63.5,624.8 L62.0,620.1 L60.5,618.6 L59.2,616.2 L57.1,618.3 L56.7,614.0 L56.3,610.6 L54.5,611.4 L52.0,613.4 L51.6,610.9 L50.3,610.2 L49.0,609.5 L48.4,607.7 L46.9,607.3 L47.2,604.7 L43.7,606.2 L44.2,603.7 L45.1,601.1 L44.8,599.7 L42.2,599.7 L41.0,598.6 L41.9,596.5 L37.5,596.7 L36.1,595.4 L38.1,593.1 L35.6,592.0 L36.8,590.1 L35.5,588.6 L37.1,586.8 L38.4,585.2 L33.9,583.3 L38.9,582.2 L39.2,580.8 L39.1,579.2 L38.1,577.2 L39.7,576.1 L40.5,574.8 L38.7,572.2 L36.7,569.1 L38.8,568.3 L40.4,567.3 L35.8,561.2 L41.1,563.4 L43.4,563.2 L43.5,560.7 L44.2,558.8 L47.3,560.0 L48.7,559.2 L51.2,560.5 L52.1,558.8 L54.5,560.7 L56.4,561.7 L57.0,559.3 L58.6,559.6 L59.9,559.4 L61.1,558.3 L62.5,558.0 L64.1,561.3 L65.3,561.3 L66.8,557.8 L68.1,559.0 L69.1,561.3 L70.6,560.3 L72.0,560.3 L74.1,558.2 L75.2,559.4 L76.5,560.0 L79.9,556.7 L82.0,556.3 L81.7,560.1 L85.4,557.8 L86.9,558.8 L87.1,561.4 L87.2,563.8 L89.4,564.1 L91.4,564.8 L89.0,568.8 L90.9,569.5 L90.5,571.7 L90.3,573.6 L89.2,575.8 L93.5,575.8 L93.6,577.6 L93.8,579.3 L91.9,581.3 L96.3,582.4 L95.3,584.3Z" fill="none" stroke="#5E8E6A" stroke-width="1.2" stroke-linejoin="round"/>
<path d="M94.6,589.8 L94.2,591.6 L93.3,593.2 L91.5,594.4 L89.5,593.6 L88.1,591.8 L88.5,589.7 L89.7,588.1 L91.6,588.3 L93.6,588.1Z" fill="none" stroke="#5E8E6A" stroke-width="1.2" stroke-linejoin="round"/>
<path d="M86.0,600.1 L84.5,598.7 L84.2,596.9 L83.3,594.9 L84.5,593.1 L86.6,592.3 L88.8,592.2 L90.5,593.6 L90.7,595.7 L91.4,597.7 L90.3,599.7 L88.1,600.4Z" fill="none" stroke="#5E8E6A" stroke-width="1.2" stroke-linejoin="round"/>
<path d="M88.1,603.6 L86.9,605.5 L84.8,606.1 L82.9,605.4 L81.1,604.5 L81.8,602.5 L82.0,601.0 L83.2,600.1 L84.7,599.4 L86.2,600.3 L87.4,601.6Z" fill="none" stroke="#5E8E6A" stroke-width="1.2" stroke-linejoin="round"/>
<path d="M76.6,615.2 L75.6,617.0 L73.7,616.5 L72.4,615.2 L72.7,613.5 L73.4,612.4 L74.5,612.0 L76.1,610.8 L76.8,612.6 L77.3,614.0Z" fill="none" stroke="#5E8E6A" stroke-width="1.2" stroke-linejoin="round"/>
<path d="M71.5,623.4 L69.6,623.2 L67.6,622.5 L68.0,620.2 L68.3,618.8 L69.4,617.9 L70.4,617.2 L71.7,617.4 L72.5,618.4 L74.3,619.1 L73.6,620.7 L73.2,622.5Z" fill="none" stroke="#5E8E6A" stroke-width="1.2" stroke-linejoin="round"/>
<path d="M61.2,613.6 L60.9,615.7 L59.1,616.8 L57.1,617.1 L55.4,616.2 L53.6,615.4 L53.3,613.3 L54.0,611.7 L54.9,610.2 L56.5,609.5 L58.1,610.1 L59.9,610.2 L61.4,611.6Z" fill="none" stroke="#5E8E6A" stroke-width="1.2" stroke-linejoin="round"/>
<path d="M48.6,610.5 L48.9,608.6 L49.6,607.2 L51.3,606.5 L52.8,607.6 L52.9,609.4 L51.7,610.3 L50.4,611.2Z" fill="none" stroke="#5E8E6A" stroke-width="1.2" stroke-linejoin="round"/>
<path d="M44.2,605.4 L45.9,604.2 L46.6,602.2 L48.7,601.9 L50.8,602.6 L50.9,604.8 L51.7,606.5 L50.6,608.0 L49.4,609.4 L47.5,609.7 L46.0,608.6 L44.2,607.5Z" fill="none" stroke="#5E8E6A" stroke-width="1.2" stroke-linejoin="round"/>
<path d="M40.8,593.4 L42.6,592.5 L43.8,594.1 L45.1,595.7 L43.8,597.2 L42.5,597.9 L41.2,598.9 L39.9,598.0 L38.8,596.9 L39.0,595.4 L39.1,593.7Z" fill="none" stroke="#5E8E6A" stroke-width="1.2" stroke-linejoin="round"/>
<path d="M40.6,585.3 L39.5,586.6 L37.9,585.8 L36.1,585.7 L35.2,584.1 L34.6,581.9 L35.8,580.0 L37.9,579.3 L40.1,579.2 L41.6,580.8 L41.9,582.7 L41.1,584.1Z" fill="none" stroke="#5E8E6A" stroke-width="1.2" stroke-linejoin="round"/>
<path d="M37.6,571.0 L39.3,570.4 L41.4,569.6 L42.7,571.3 L42.8,573.1 L44.0,574.9 L42.9,576.8 L41.0,578.1 L38.6,578.3 L37.3,576.3 L37.3,574.3 L37.0,572.7Z" fill="none" stroke="#5E8E6A" stroke-width="1.2" stroke-linejoin="round"/>
<path d="M40.8,561.3 L43.0,561.5 L42.9,563.6 L42.4,565.1 L41.5,566.9 L39.6,566.4 L37.8,566.0 L37.6,564.1 L37.9,562.5 L39.1,561.3Z" fill="none" stroke="#5E8E6A" stroke-width="1.2" stroke-linejoin="round"/>
<path d="M52.6,559.2 L51.5,561.3 L50.3,562.4 L49.7,563.8 L48.2,565.0 L46.4,564.5 L44.3,563.7 L43.1,561.6 L43.8,559.4 L45.8,558.3 L47.3,557.6 L48.8,558.3 L50.2,558.6Z" fill="none" stroke="#5E8E6A" stroke-width="1.2" stroke-linejoin="round"/>
<path d="M64.4,563.4 L62.5,564.1 L60.8,562.8 L60.9,560.8 L61.1,559.3 L62.3,558.5 L63.9,557.5 L65.3,558.8 L66.0,560.4 L66.2,562.3Z" fill="none" stroke="#5E8E6A" stroke-width="1.2" stroke-linejoin="round"/>
<path d="M70.0,560.9 L69.9,562.6 L68.9,564.1 L67.1,564.1 L65.4,563.9 L64.4,562.5 L63.6,560.7 L64.7,559.0 L66.2,557.8 L68.1,558.1 L69.8,559.0Z" fill="none" stroke="#5E8E6A" stroke-width="1.2" stroke-linejoin="round"/>
<path d="M76.6,560.6 L76.4,559.1 L75.9,557.5 L77.3,556.4 L79.1,556.5 L80.6,557.5 L80.1,559.2 L79.3,560.2 L78.1,561.4Z" fill="none" stroke="#5E8E6A" stroke-width="1.2" stroke-linejoin="round"/>
<path d="M79.7,560.1 L80.3,557.9 L82.3,557.1 L84.1,556.8 L85.6,556.9 L87.5,557.1 L88.3,558.8 L89.0,560.5 L89.1,562.7 L87.5,564.2 L85.4,564.4 L83.5,564.6 L82.0,563.3 L80.9,561.9Z" fill="none" stroke="#5E8E6A" stroke-width="1.2" stroke-linejoin="round"/>
<path d="M93.2,575.3 L92.9,577.1 L91.1,577.9 L90.2,579.3 L88.3,580.5 L87.0,578.7 L85.2,577.9 L85.5,576.0 L85.0,574.1 L86.6,573.1 L87.8,571.8 L89.6,571.1 L90.7,573.1 L92.8,573.4Z" fill="none" stroke="#5E8E6A" stroke-width="1.2" stroke-linejoin="round"/>
<path d="M53.0,584.1 L53.1,582.5 L51.5,582.1 L49.7,581.6 L47.5,581.0 L45.4,580.4 L44.0,581.3 L42.9,580.0 L41.8,578.7 L40.2,578.6 L40.0,576.6 L42.1,576.0 L42.9,574.5 L42.3,572.4 L43.0,571.1 L45.1,571.8 L47.1,570.7 L48.8,569.8 L49.5,567.4 L50.1,565.4 L51.7,565.6 L52.9,567.2 L53.9,568.5 L55.6,567.6 L56.2,565.8 L57.7,565.0" fill="none" stroke="#5E8E6A" stroke-width="1.2" stroke-linejoin="round"/>
<path d="M53.7,587.6 L55.9,586.9 L57.6,587.8 L57.1,589.4 L58.7,590.2 L60.8,591.3 L62.4,590.8 L63.1,589.4 L65.0,590.0 L67.0,588.9 L67.5,586.9 L69.2,586.0 L69.7,583.9 L68.8,582.5 L66.6,582.0 L65.3,579.8 L63.8,580.4 L63.1,582.1 L61.4,582.8 L60.6,581.5 L59.6,579.9 L57.5,580.7 L55.5,579.9 L54.1,581.9 L54.5,583.7 L55.8,584.5 L55.1,586.3 L55.6,587.6 L53.6,588.9 L51.4,588.4 L49.9,588.1" fill="none" stroke="#5E8E6A" stroke-width="1.2" stroke-linejoin="round"/>
<path d="M63.2,610.5 L61.8,612.5 L62.3,614.9 L62.7,616.6 L61.4,617.1 L60.2,615.2 L58.6,615.8 L60.8,614.9 L62.3,614.3 L64.6,615.3 L65.4,617.5 L64.5,619.4 L65.4,617.4 L63.6,616.1 L64.4,614.4 L66.0,613.8 L68.2,615.0 L70.1,616.0 L72.6,615.2 L73.2,616.4 L72.1,617.4 L70.8,615.1" fill="none" stroke="#5E8E6A" stroke-width="1.2" stroke-linejoin="round"/>
<path d="M48.5,602.6 L48.6,600.2 L51.0,600.0 L52.2,601.0 L50.9,603.1 L49.1,602.5 L47.2,601.7 L46.3,599.6 L47.9,598.5 L50.3,599.0 L50.2,601.6 L50.1,603.5 L52.2,603.9 L52.1,606.0 L53.4,607.4 L53.3,609.7 L54.8,611.3 L56.9,611.3 L58.2,610.1 L60.1,611.4 L62.5,611.0 L63.7,611.8 L65.4,611.5 L67.1,612.8 L69.3,612.4 L71.3,612.0 L73.5,611.6 L74.1,613.3 L73.5,611.7 L75.3,610.7 L73.2,611.9 L71.5,611.5 L70.1,611.1 L69.1,609.1 L67.3,609.7 L67.6,611.2 L65.8,611.7 L65.1,610.5 L63.7,610.9 L61.4,611.7 L60.7,610.4" fill="none" stroke="#5E8E6A" stroke-width="1.2" stroke-linejoin="round"/>
<path d="M67.7,603.0 L68.9,603.9 L70.0,602.9 L71.8,604.2 L72.0,606.4 L72.3,608.3 L69.9,609.0 L68.4,609.4 L67.3,607.2 L64.8,606.4 L63.8,604.3 L65.2,603.3 L67.0,603.6 L68.6,603.8 L70.7,604.2 L72.3,604.4 L73.0,602.5 L73.6,600.8 L75.1,601.0 L76.6,603.1 L78.2,602.4 L80.1,603.1 L82.3,604.0 L80.7,603.4 L79.7,604.9 L81.0,606.0 L78.5,606.3 L77.2,605.1 L74.7,605.3 L72.6,605.5 L72.5,607.7 L74.0,608.1 L74.8,609.3 L74.3,611.0 L72.4,610.1 L70.6,610.8 L68.2,609.7 L66.8,611.8 L65.0,612.0 L64.4,610.5 L62.8,610.7 L61.8,612.2 L60.3,611.5 L58.7,610.7 L58.0,608.5 L55.7,608.8 L54.4,610.5 L55.5,609.1 L57.2,609.9 L59.6,609.0 L60.5,610.6" fill="none" stroke="#5E8E6A" stroke-width="1.2" stroke-linejoin="round"/>
<path d="M69.5,571.9 L68.0,573.1 L66.2,572.8 L64.6,574.0 L65.5,575.9 L67.3,576.4 L69.0,576.8 L70.9,577.4 L71.9,579.2 L70.2,580.5 L71.2,582.3 L69.5,583.6 L68.1,582.4 L65.9,582.5 L64.9,583.7 L64.0,584.8 L62.3,583.8 L63.2,581.4 L62.3,579.3 L62.9,577.7 L61.3,576.7 L59.4,575.6 L57.8,577.4 L56.7,578.6 L54.9,578.7 L53.7,580.1 L52.2,580.2 L50.0,580.3 L48.9,579.3 L48.8,577.6 L48.8,575.4 L46.9,573.6 L45.2,572.1 L43.5,572.2 L43.3,574.2 L41.2,574.3 L40.2,575.5 L41.4,574.1 L43.0,575.1 L42.4,576.5 L44.4,577.6 L43.6,579.6" fill="none" stroke="#5E8E6A" stroke-width="1.2" stroke-linejoin="round"/>
<path d="M71.8,567.1 L73.5,568.3 L75.3,569.6 L75.6,571.5 L75.8,573.0 L76.1,575.0 L74.1,575.6 L73.2,573.9 L72.3,572.1 L73.0,569.8 L74.7,570.0 L76.5,570.3 L78.2,569.0 L79.5,568.0 L82.0,568.3 L83.6,567.2 L85.4,565.7 L87.0,567.2 L84.9,568.7 L84.6,571.0 L86.0,571.4" fill="none" stroke="#5E8E6A" stroke-width="1.2" stroke-linejoin="round"/>
<path d="M45.1,589.8 L47.2,588.5 L47.5,587.1 L49.6,587.2 L51.9,587.3 L53.3,588.9 L54.4,590.1 L53.2,591.6 L54.4,592.9 L56.7,593.0 L57.1,591.2 L57.4,589.3 L56.1,588.8 L55.1,586.5 L53.7,585.9 L51.5,585.0 L50.9,583.4 L48.4,583.9 L47.7,582.2 L46.4,581.6 L46.8,579.5 L49.3,579.6 L49.6,578.0" fill="none" stroke="#5E8E6A" stroke-width="1.2" stroke-linejoin="round"/>
<path d="M67.0,608.0 L67.3,610.2 L67.5,611.9 L68.6,612.7 L69.8,611.6 L68.4,609.5 L69.0,607.1 L68.0,605.6 L66.6,603.5 L67.2,601.0 L69.7,601.1 L71.0,602.6 L69.4,604.5 L67.9,604.7 L65.5,604.9 L63.5,605.1 L62.5,606.4 L62.7,607.8 L63.0,610.4 L63.2,612.4 L61.9,613.9 L60.6,613.2 L58.1,613.9 L59.0,612.3 L59.8,610.8 L59.2,609.0" fill="none" stroke="#5E8E6A" stroke-width="1.2" stroke-linejoin="round"/>
<path d="M59.3,582.5 L60.4,584.2 L62.6,583.2 L63.5,580.8 L65.9,581.3 L65.9,583.0 L64.0,583.3 L63.4,581.7 L62.9,580.2 L60.7,580.5 L58.8,580.8 L57.4,582.7 L56.0,584.6 L57.1,585.8 L57.1,588.3 L54.8,588.7 L54.8,591.1 L57.0,591.5 L58.8,591.9 L59.8,593.5 L60.8,595.0 L63.1,595.4 L63.1,597.6 L63.0,599.7 L61.4,601.2 L59.5,601.1 L59.2,598.7" fill="none" stroke="#5E8E6A" stroke-width="1.2" stroke-linejoin="round"/>
<path d="M78.9,603.2 L78.5,605.2 L76.5,606.5 L76.0,609.0 L75.6,610.8 L75.1,613.2 L75.5,611.3 L74.2,612.2 L72.8,610.7 L71.4,611.6 L69.4,612.9 L67.4,612.4 L66.1,613.2 L64.7,611.7 L65.9,610.2 L65.5,607.7 L67.0,607.3 L66.7,605.1 L65.4,604.2 L65.1,602.0 L63.4,600.8 L61.1,601.2 L59.4,599.9 L59.1,597.7 L60.7,597.2 L61.4,595.7 L60.8,594.0 L58.7,594.4 L57.4,593.4 L57.1,591.5 L58.5,589.8 L60.7,589.5 L62.6,591.1 L64.3,590.9 L65.5,589.4 L65.2,587.2 L62.6,587.1 L62.2,588.7 L60.2,588.6 L58.0,588.6 L57.8,586.7 L59.1,585.0" fill="none" stroke="#5E8E6A" stroke-width="1.2" stroke-linejoin="round"/>
<path d="M42.5,594.1 L42.7,591.5 L44.1,590.3 L45.8,591.7 L44.9,593.3 L43.6,595.5 L41.6,596.0 L40.0,595.0 L39.7,593.4 L40.8,591.9 L42.2,592.5 L41.7,594.7 L39.7,594.5 L38.4,593.0 L39.6,591.6 L39.5,589.9 L42.0,589.2 L42.7,590.9 L42.0,592.7 L42.8,594.3 L43.8,596.5 L44.6,598.2 L43.9,600.0 L44.7,601.9 L46.2,600.9" fill="none" stroke="#5E8E6A" stroke-width="1.2" stroke-linejoin="round"/>
<path d="M58.5,600.6 L58.4,602.2 L56.8,602.4 L55.4,602.5 L55.3,604.1 L55.2,606.1 L53.5,607.6 L52.2,606.6 L50.8,607.8 L48.8,607.6 L50.2,606.4 L51.5,605.3 L51.6,603.5 L51.6,601.7 L53.1,601.5 L53.5,603.0 L51.3,604.1 L49.6,603.5 L47.7,604.5 L48.1,605.9 L49.9,606.8 L51.3,604.9 L52.4,603.4 L53.7,604.1 L55.1,603.6 L57.4,604.8 L59.0,602.7 L61.3,602.4 L62.2,601.2 L64.2,602.3 L63.7,604.1" fill="none" stroke="#5E8E6A" stroke-width="1.2" stroke-linejoin="round"/>
<path d="M62.8,573.5 L60.9,572.5 L60.4,570.7 L61.7,570.1 L61.1,567.7 L61.9,566.4 L60.4,565.1 L58.6,565.2 L57.7,566.4 L59.3,568.2 L58.0,569.8 L56.9,571.2 L55.3,570.3 L53.3,570.9 L53.6,573.4 L56.0,573.5 L57.3,572.2 L58.5,571.1 L59.9,571.2 L61.6,569.6 L63.7,571.2 L64.0,573.5 L62.8,575.0 L61.3,576.9 L58.7,577.1 L58.6,579.1 L57.2,580.3 L55.7,579.0 L54.2,580.3 L52.9,581.3" fill="none" stroke="#5E8E6A" stroke-width="1.2" stroke-linejoin="round"/>
<path d="M51.9,566.1 L53.0,568.3 L54.4,568.0 L55.3,566.4 L57.3,565.8 L59.1,566.9 L60.7,565.0 L62.2,563.2 L64.2,564.3 L65.7,563.8 L66.7,562.1 L65.5,561.2 L64.4,562.2 L63.2,561.2 L61.9,560.2 L60.3,561.7 L62.1,563.1 L64.0,564.6 L65.9,562.9 L65.0,561.5 L63.5,562.9 L63.4,565.1 L65.1,566.9" fill="none" stroke="#5E8E6A" stroke-width="1.2" stroke-linejoin="round"/>
<path d="M62.1,569.0 L61.3,570.8 L61.9,572.4 L62.5,573.7 L64.7,574.7 L65.6,573.3 L66.9,571.2 L67.8,569.7 L69.8,569.2 L70.7,567.8 L72.4,567.5 L74.4,568.8 L73.7,570.3 L72.2,570.9 L70.5,571.5 L68.6,572.3 L68.0,573.7 L67.3,575.3 L68.3,577.7 L69.8,577.3 L69.7,575.8 L68.1,574.4 L69.2,572.7 L68.5,570.2 L68.1,568.4 L65.5,568.6 L65.4,570.3 L67.1,572.3 L65.6,574.0 L65.8,575.7 L63.6,576.4 L62.5,574.1 L63.2,572.2 L64.6,571.6 L66.6,572.4 L67.6,570.8 L69.5,570.4 L71.8,569.9 L72.7,572.1 L74.6,572.9 L75.3,571.6 L77.3,571.2 L78.8,572.2 L80.2,571.9" fill="none" stroke="#5E8E6A" stroke-width="1.2" stroke-linejoin="round"/>
<path d="M65.4,603.4 L67.8,604.2 L67.6,605.8 L68.7,607.3 L67.4,608.8 L65.7,610.5 L63.7,610.5 L63.5,609.0 L65.0,608.5 L66.8,609.4 L67.8,607.9 L69.6,608.8 L70.4,607.6 L72.8,607.2 L73.5,609.4 L71.6,610.4 L72.1,611.8 L73.8,611.5 L75.1,612.5 L73.4,611.2 L71.9,611.4 L70.5,613.4 L68.8,613.6 L68.8,615.4 L68.7,617.7 L70.2,617.9 L72.2,616.5 L73.6,615.6 L71.6,615.2" fill="none" stroke="#5E8E6A" stroke-width="1.2" stroke-linejoin="round"/>
<path d="M51.5,567.2 L53.4,566.5 L54.3,568.1 L56.4,568.6 L58.6,567.2 L60.9,567.8 L62.3,567.0 L63.6,568.5 L65.3,570.3 L67.2,569.2 L66.4,567.3 L67.9,566.4 L70.1,566.9 L71.9,565.8 L71.1,563.8 L68.9,564.3 L66.8,564.7 L66.9,567.0 L68.4,567.2 L68.8,565.8 L71.2,566.1 L72.1,567.2 L71.8,568.9 L71.5,571.2 L72.4,572.4 L74.3,572.6 L75.3,574.0 L77.0,573.1 L77.6,571.1 L79.0,570.4 L79.9,571.5 L79.6,573.1 L78.4,573.9 L78.1,576.0 L77.8,577.8" fill="none" stroke="#5E8E6A" stroke-width="1.2" stroke-linejoin="round"/>
<path d="M291.8,624.0 L294.3,625.2 L295.3,626.6 L295.2,628.0 L297.7,630.1 L294.5,630.8 L293.3,632.0 L291.2,632.7 L290.0,633.8 L288.9,635.0 L285.5,634.2 L284.4,635.5 L283.1,636.8 L280.9,636.7 L278.3,634.9 L276.9,636.7 L275.0,636.9 L273.1,636.8 L271.4,635.6 L269.0,636.9 L267.2,636.2 L266.6,634.3 L265.5,633.3 L263.4,633.2 L262.4,632.2 L261.0,631.5 L258.3,631.3 L254.4,631.2 L252.9,630.0 L252.6,628.4 L253.8,626.7 L253.4,625.4 L255.7,624.0 L254.0,622.7 L255.2,621.4 L255.6,620.2 L259.7,619.9 L260.1,618.8 L259.7,617.4 L263.2,617.7 L263.3,616.4 L263.3,614.8 L263.1,612.5 L266.2,613.3 L267.1,611.6 L269.1,611.3 L270.9,610.7 L273.3,612.7 L275.0,611.4 L276.9,611.4 L279.3,610.0 L281.1,610.9 L284.1,609.8 L286.0,610.6 L285.6,613.7 L288.0,613.7 L289.6,614.5 L290.2,615.9 L291.5,616.8 L291.9,618.1 L291.9,619.4 L289.8,621.1 L289.9,622.1 L289.8,623.0Z" fill="none" stroke="#5E8E6A" stroke-width="1.2" stroke-linejoin="round"/>
<path d="M290.6,625.5 L288.7,625.2 L286.7,624.5 L287.2,622.4 L288.1,620.7 L290.1,620.4 L291.7,621.8 L291.8,623.8Z" fill="none" stroke="#5E8E6A" stroke-width="1.2" stroke-linejoin="round"/>
<path d="M296.4,627.9 L296.0,629.7 L295.2,630.9 L294.5,632.0 L293.5,634.1 L291.7,633.1 L290.5,631.9 L289.4,630.6 L290.3,629.1 L289.9,627.1 L291.3,625.6 L293.3,626.2 L294.4,627.5Z" fill="none" stroke="#5E8E6A" stroke-width="1.2" stroke-linejoin="round"/>
<path d="M277.8,630.4 L279.9,629.9 L281.2,631.5 L280.4,633.6 L281.5,635.6 L280.1,637.2 L278.0,636.9 L276.1,637.8 L274.5,636.5 L273.5,634.8 L274.7,633.1 L275.4,631.9 L276.0,630.0Z" fill="none" stroke="#5E8E6A" stroke-width="1.2" stroke-linejoin="round"/>
<path d="M275.4,636.2 L273.8,636.9 L272.1,637.7 L270.7,636.5 L269.8,634.7 L270.5,632.6 L272.6,631.4 L274.3,632.9 L275.1,634.4Z" fill="none" stroke="#5E8E6A" stroke-width="1.2" stroke-linejoin="round"/>
<path d="M259.6,629.2 L260.0,630.9 L258.7,632.1 L257.3,633.3 L255.7,632.4 L254.7,631.2 L254.0,629.5 L254.8,627.5 L256.9,627.7 L258.2,628.3Z" fill="none" stroke="#5E8E6A" stroke-width="1.2" stroke-linejoin="round"/>
<path d="M253.5,621.6 L255.4,620.9 L257.0,622.4 L258.3,623.4 L258.0,625.1 L258.2,626.4 L257.8,628.1 L256.2,628.4 L254.4,629.3 L253.3,627.8 L252.3,626.6 L251.5,624.9 L252.8,623.6Z" fill="none" stroke="#5E8E6A" stroke-width="1.2" stroke-linejoin="round"/>
<path d="M266.0,619.0 L265.5,620.7 L263.7,621.9 L261.6,621.1 L260.1,619.5 L260.3,617.3 L261.5,615.4 L263.6,614.5 L265.6,615.5 L266.7,617.3Z" fill="none" stroke="#5E8E6A" stroke-width="1.2" stroke-linejoin="round"/>
<path d="M268.4,614.3 L267.3,615.4 L265.8,615.3 L264.3,614.5 L263.4,612.6 L265.0,611.3 L266.6,610.0 L268.8,610.6 L269.0,612.8Z" fill="none" stroke="#5E8E6A" stroke-width="1.2" stroke-linejoin="round"/>
<path d="M284.2,612.9 L283.0,613.8 L281.7,613.6 L280.8,612.9 L279.4,611.8 L279.7,609.8 L281.7,608.7 L283.3,610.1 L283.7,611.5Z" fill="none" stroke="#5E8E6A" stroke-width="1.2" stroke-linejoin="round"/>
<path d="M288.4,621.9 L287.4,620.1 L287.7,618.3 L288.9,617.3 L290.2,617.0 L292.0,616.6 L293.7,617.8 L292.6,619.7 L291.7,620.9 L290.4,621.8Z" fill="none" stroke="#5E8E6A" stroke-width="1.2" stroke-linejoin="round"/>
<path d="M273.8,631.7 L274.7,630.4 L274.3,628.3 L276.5,627.5 L277.7,629.5 L280.0,628.6 L281.4,630.8 L282.6,632.9 L281.1,634.2 L282.8,632.8 L284.6,634.4 L287.1,634.1 L285.1,634.3 L283.9,633.3 L281.7,633.5 L280.1,632.2 L279.9,630.2 L281.5,629.9 L281.3,628.0 L282.4,626.8 L281.2,625.2 L281.4,623.2 L283.3,623.1 L284.5,621.8" fill="none" stroke="#5E8E6A" stroke-width="1.2" stroke-linejoin="round"/>
<path d="M290.3,628.0 L291.5,629.8 L292.3,631.1 L290.0,630.6 L289.3,632.6 L288.6,631.1 L286.2,631.7 L285.3,629.7 L283.4,629.1 L281.3,630.2 L281.8,631.8 L283.5,632.7 L285.6,633.8 L286.7,632.4 L286.3,630.3 L287.4,628.8 L286.4,627.8 L287.4,626.6 L287.1,625.1 L286.9,623.4 L285.0,622.1 L283.8,621.2 L284.5,619.7 L286.5,620.2 L288.2,619.3 L288.7,617.3 L286.5,618.6 L284.4,619.8 L283.4,618.6 L281.5,619.7 L280.2,618.2 L278.7,618.1" fill="none" stroke="#5E8E6A" stroke-width="1.2" stroke-linejoin="round"/>
<path d="M291.3,623.7 L289.5,624.3 L289.8,625.9 L288.5,626.4 L288.8,628.0 L289.1,629.4 L288.0,631.0 L288.3,632.4 L289.7,630.3 L291.4,631.1 L290.0,630.4 L290.6,628.3 L292.1,628.4 L293.7,630.4 L292.1,631.3 L290.4,632.2 L288.3,633.4 L287.6,631.6 L288.7,629.5 L288.2,628.0 L286.7,627.3 L285.0,626.5 L285.5,624.7 L287.7,623.5 L289.2,622.7 L288.8,621.3 L289.8,619.3 L287.7,620.0 L285.9,619.0 L284.3,621.0 L282.7,620.2 L281.2,619.3 L280.5,617.1" fill="none" stroke="#5E8E6A" stroke-width="1.2" stroke-linejoin="round"/>
<path d="M527.4,625.0 L527.9,626.1 L525.3,627.0 L520.4,627.4 L522.1,628.6 L520.0,629.1 L518.7,629.7 L518.8,630.7 L521.5,633.1 L520.1,634.0 L517.3,633.9 L517.2,635.8 L515.2,636.4 L512.1,635.7 L509.7,635.3 L508.4,636.8 L506.4,637.6 L504.0,636.2 L502.0,636.4 L499.3,638.6 L497.4,637.4 L495.5,636.6 L493.9,635.6 L490.8,636.3 L489.8,635.0 L489.3,633.6 L487.5,633.1 L485.4,632.7 L484.4,631.7 L485.1,630.3 L484.9,629.4 L485.2,628.3 L484.7,627.5 L481.9,626.9 L480.3,626.0 L476.4,625.0 L478.1,623.9 L477.3,622.7 L476.6,621.4 L477.5,620.2 L479.0,619.2 L481.3,618.5 L482.5,617.5 L485.8,617.5 L487.2,616.8 L488.1,615.7 L490.5,615.6 L493.8,616.4 L494.8,615.4 L496.7,615.3 L498.6,615.3 L500.2,614.8 L502.0,613.7 L504.1,613.2 L506.0,614.1 L507.7,614.7 L510.5,613.5 L511.3,615.3 L512.7,615.9 L515.7,615.4 L518.5,615.3 L519.5,616.3 L521.2,617.0 L524.6,617.2 L526.4,618.0 L524.5,619.8 L524.9,620.9 L527.0,621.7 L527.3,622.8 L525.9,624.0Z" fill="none" stroke="#5E8E6A" stroke-width="1.2" stroke-linejoin="round"/>
<path d="M527.0,626.7 L525.1,627.0 L523.6,626.0 L522.2,624.6 L521.9,622.5 L523.3,621.0 L525.0,620.6 L526.4,621.1 L528.1,620.8 L528.8,622.4 L528.7,623.9 L527.7,624.9Z" fill="none" stroke="#5E8E6A" stroke-width="1.2" stroke-linejoin="round"/>
<path d="M513.1,628.8 L513.0,626.6 L515.0,625.5 L516.6,625.0 L518.0,623.5 L519.5,624.9 L521.0,625.7 L522.6,627.1 L521.8,629.1 L520.7,630.5 L519.7,632.4 L517.6,633.0 L515.3,632.5 L513.9,630.8Z" fill="none" stroke="#5E8E6A" stroke-width="1.2" stroke-linejoin="round"/>
<path d="M518.8,635.5 L517.4,637.1 L515.4,638.0 L513.3,637.0 L513.6,634.7 L514.0,632.7 L516.1,632.8 L517.3,633.9Z" fill="none" stroke="#5E8E6A" stroke-width="1.2" stroke-linejoin="round"/>
<path d="M505.4,633.7 L505.7,635.4 L506.0,637.5 L504.7,639.2 L502.6,640.4 L500.6,639.1 L499.5,637.7 L498.2,636.6 L496.8,634.8 L497.8,632.8 L498.9,630.9 L501.2,631.5 L502.9,631.3 L505.2,631.4Z" fill="none" stroke="#5E8E6A" stroke-width="1.2" stroke-linejoin="round"/>
<path d="M489.6,628.7 L491.3,629.4 L492.4,631.1 L491.9,633.0 L491.1,634.6 L489.8,636.2 L487.7,636.8 L485.4,636.3 L484.9,633.9 L484.2,632.1 L484.8,630.3 L485.7,628.4 L487.9,628.7Z" fill="none" stroke="#5E8E6A" stroke-width="1.2" stroke-linejoin="round"/>
<path d="M486.9,624.4 L487.7,626.3 L487.8,627.7 L487.1,628.8 L486.0,629.9 L484.0,629.8 L483.4,627.9 L484.2,626.4 L485.0,624.9Z" fill="none" stroke="#5E8E6A" stroke-width="1.2" stroke-linejoin="round"/>
<path d="M478.5,624.0 L477.2,623.1 L475.6,622.2 L476.0,620.4 L476.6,618.7 L478.3,618.0 L479.9,618.8 L480.9,619.8 L482.0,621.1 L482.0,623.1 L480.5,624.8Z" fill="none" stroke="#5E8E6A" stroke-width="1.2" stroke-linejoin="round"/>
<path d="M487.0,619.2 L485.7,620.1 L483.9,620.5 L482.0,619.2 L482.1,617.0 L483.8,615.9 L485.4,615.4 L486.6,616.4 L487.3,617.6Z" fill="none" stroke="#5E8E6A" stroke-width="1.2" stroke-linejoin="round"/>
<path d="M502.0,618.3 L500.4,619.6 L498.5,618.7 L497.4,617.0 L497.8,615.2 L498.8,613.9 L500.0,612.4 L501.5,613.6 L503.2,613.9 L504.7,615.6 L503.9,617.6Z" fill="none" stroke="#5E8E6A" stroke-width="1.2" stroke-linejoin="round"/>
<path d="M508.9,612.9 L510.3,613.8 L510.9,615.4 L509.9,617.1 L508.0,617.0 L506.4,616.2 L505.6,614.3 L507.2,612.8Z" fill="none" stroke="#5E8E6A" stroke-width="1.2" stroke-linejoin="round"/>
<path d="M526.1,615.7 L527.7,617.3 L527.6,619.6 L526.7,621.8 L524.3,621.8 L522.4,622.2 L521.2,620.7 L520.9,619.2 L520.6,617.8 L520.3,615.6 L522.4,615.3 L524.1,615.6Z" fill="none" stroke="#5E8E6A" stroke-width="1.2" stroke-linejoin="round"/>
<path d="M521.1,620.5 L521.3,622.5 L521.4,624.0 L521.5,625.8 L519.8,627.7 L518.2,626.6 L516.8,625.8 L515.6,625.0 L515.3,623.6 L517.6,622.6 L517.1,620.2 L515.0,618.9 L513.5,619.3 L512.2,621.5 L510.0,620.7 L510.5,618.1 L508.9,617.5 L507.4,618.2 L508.1,620.5 L510.1,621.7 L511.4,620.0 L513.3,621.1 L515.5,620.4 L516.2,621.8 L517.7,621.4 L519.5,622.3 L519.1,623.7 L518.3,626.0 L516.4,626.9 L515.7,629.0 L513.4,630.1 L512.2,628.4 L510.7,626.3 L508.7,627.3 L509.2,629.0 L510.4,629.7 L512.5,630.9 L514.5,630.3 L514.2,628.3 L512.8,627.2 L510.9,629.0 L512.1,630.7 L513.7,631.0 L514.9,630.1 L516.7,630.5 L518.5,629.2 L519.9,628.2 L518.1,626.5 L519.4,624.6 L519.0,622.6" fill="none" stroke="#5E8E6A" stroke-width="1.2" stroke-linejoin="round"/>
<path d="M517.8,630.4 L516.0,631.0 L514.8,633.3 L513.3,633.7 L511.5,634.3 L509.4,633.2 L508.1,633.6 L505.9,634.3 L503.6,635.0 L503.9,636.9 L505.3,635.1 L505.0,633.0 L507.2,632.4 L508.9,633.3 L509.5,635.2 L510.2,633.9 L512.5,634.8 L511.8,633.2 L512.5,631.5 L515.0,632.0 L516.6,630.9 L517.6,631.9 L517.5,634.1 L515.9,633.7 L514.2,634.8 L512.1,634.4 L511.6,635.7 L512.1,634.3 L510.8,633.5 L509.2,633.9 L508.5,632.3 L507.1,632.7" fill="none" stroke="#5E8E6A" stroke-width="1.2" stroke-linejoin="round"/>
<path d="M788.6,624.0 L788.9,625.0 L786.1,625.8 L786.9,626.9 L787.5,628.0 L786.1,628.8 L784.7,629.6 L781.7,629.7 L784.3,632.0 L781.9,632.3 L780.4,633.0 L780.1,634.7 L777.9,635.0 L775.6,635.2 L772.4,633.9 L770.9,634.7 L769.4,636.6 L767.0,634.9 L764.9,635.8 L762.5,636.7 L759.4,638.4 L757.9,636.4 L755.2,636.7 L753.8,635.3 L753.1,633.8 L753.4,631.9 L751.0,631.8 L749.1,631.4 L749.5,630.0 L748.7,629.2 L747.3,628.5 L744.9,628.0 L748.3,626.4 L746.6,625.8 L742.1,625.1 L740.1,624.0 L740.4,622.8 L740.2,621.7 L736.3,619.9 L741.0,619.3 L743.3,618.5 L743.8,617.4 L746.0,616.7 L748.5,616.4 L749.7,615.5 L751.1,614.6 L751.7,613.2 L755.3,614.1 L756.3,612.6 L758.7,612.8 L760.9,612.9 L763.3,614.0 L764.9,612.3 L767.0,612.5 L768.8,613.7 L771.1,612.9 L772.7,613.7 L775.0,613.4 L775.9,614.8 L777.0,615.7 L780.7,614.8 L781.7,615.8 L786.0,615.3 L787.4,616.2 L792.2,616.2 L791.2,617.9 L789.2,619.6 L793.2,620.2 L790.4,621.8 L787.7,623.0Z" fill="none" stroke="#5E8E6A" stroke-width="1.2" stroke-linejoin="round"/>
<path d="M786.2,624.8 L785.4,623.8 L784.9,622.4 L785.9,621.2 L787.5,620.3 L788.7,621.6 L789.1,623.0 L789.0,624.5 L787.7,625.8Z" fill="none" stroke="#5E8E6A" stroke-width="1.2" stroke-linejoin="round"/>
<path d="M785.4,630.1 L783.8,630.7 L781.9,630.8 L781.3,629.0 L781.5,627.4 L782.4,625.7 L784.2,626.2 L785.1,627.3 L786.6,628.6Z" fill="none" stroke="#5E8E6A" stroke-width="1.2" stroke-linejoin="round"/>
<path d="M771.1,636.4 L769.9,635.2 L768.6,634.0 L768.6,631.9 L770.3,630.5 L772.3,630.8 L774.2,631.4 L775.4,633.2 L773.9,634.9 L772.9,636.4Z" fill="none" stroke="#5E8E6A" stroke-width="1.2" stroke-linejoin="round"/>
<path d="M766.9,629.9 L768.8,630.3 L769.2,632.3 L768.6,633.9 L768.9,635.5 L767.4,636.1 L766.3,637.2 L764.4,638.2 L762.8,637.0 L762.4,635.1 L762.5,633.5 L762.4,631.8 L763.4,630.4 L764.9,628.8Z" fill="none" stroke="#5E8E6A" stroke-width="1.2" stroke-linejoin="round"/>
<path d="M751.1,633.3 L751.5,631.7 L752.1,630.4 L753.3,629.4 L754.8,630.0 L756.0,630.8 L756.8,632.2 L757.2,634.3 L755.4,635.3 L753.6,635.2 L752.5,634.0Z" fill="none" stroke="#5E8E6A" stroke-width="1.2" stroke-linejoin="round"/>
<path d="M749.8,628.3 L748.3,629.4 L746.5,628.8 L744.8,628.0 L744.4,626.1 L745.9,624.9 L747.2,624.5 L748.6,624.0 L750.1,624.9 L750.6,626.7Z" fill="none" stroke="#5E8E6A" stroke-width="1.2" stroke-linejoin="round"/>
<path d="M740.1,619.1 L741.8,619.3 L742.8,620.7 L743.6,622.2 L742.8,623.8 L741.1,623.9 L739.4,624.6 L737.7,623.6 L736.8,621.5 L737.7,619.2Z" fill="none" stroke="#5E8E6A" stroke-width="1.2" stroke-linejoin="round"/>
<path d="M752.5,619.4 L750.9,618.3 L750.2,616.8 L750.6,615.3 L750.8,613.7 L752.2,612.5 L754.2,612.4 L755.0,614.3 L755.3,615.8 L755.5,617.4 L753.9,618.0Z" fill="none" stroke="#5E8E6A" stroke-width="1.2" stroke-linejoin="round"/>
<path d="M763.8,613.0 L765.1,611.9 L766.9,611.2 L768.3,612.5 L769.9,613.5 L770.5,615.3 L770.8,617.4 L769.6,619.2 L767.6,620.1 L765.6,619.9 L763.5,619.7 L762.3,617.9 L761.7,616.0 L762.8,614.3Z" fill="none" stroke="#5E8E6A" stroke-width="1.2" stroke-linejoin="round"/>
<path d="M772.2,619.4 L770.3,618.1 L768.2,617.5 L768.3,615.3 L769.2,613.9 L770.0,612.4 L771.8,612.4 L774.0,612.1 L775.0,614.1 L774.0,615.9 L773.3,617.2Z" fill="none" stroke="#5E8E6A" stroke-width="1.2" stroke-linejoin="round"/>
<path d="M781.2,616.1 L781.6,614.4 L783.3,613.6 L785.3,613.1 L786.9,614.3 L787.0,616.3 L787.4,618.3 L785.4,618.8 L784.0,619.1 L783.0,618.3 L780.8,618.0Z" fill="none" stroke="#5E8E6A" stroke-width="1.2" stroke-linejoin="round"/>
<path d="M747.8,621.9 L747.7,620.1 L750.0,619.6 L752.1,621.0 L753.7,622.1 L755.4,623.2 L754.8,624.5 L752.3,623.9 L750.9,624.8 L749.8,623.6 L748.7,622.2 L747.3,623.1 L746.0,621.6 L743.9,622.9 L743.6,624.4 L742.6,622.9 L741.8,621.7 L743.1,621.1 L743.8,619.4 L742.9,621.8 L745.0,620.8 L746.3,620.3 L746.8,618.9 L749.1,619.4 L749.1,620.9 L747.2,621.2 L745.3,621.5 L744.1,623.2 L742.3,622.3 L740.4,621.4 L742.0,620.8 L742.8,622.1 L744.1,621.6 L743.7,619.4" fill="none" stroke="#5E8E6A" stroke-width="1.2" stroke-linejoin="round"/>
<path d="M770.5,619.9 L768.9,618.2 L770.5,616.2 L772.0,616.9 L772.7,619.0 L773.1,620.5 L770.9,621.6 L768.5,620.8 L768.9,618.5 L767.0,617.8 L766.0,615.7 L764.3,615.1 L765.2,617.0 L764.6,618.7 L764.0,620.3 L763.1,622.6 L764.6,623.4 L765.1,625.7 L765.5,627.4 L764.1,628.0 L763.1,626.5 L764.5,625.2 L764.5,623.3 L766.3,621.6 L768.3,623.1 L768.6,625.4 L767.6,626.6 L766.6,627.8 L764.4,626.6 L763.7,624.2 L761.8,623.2 L761.3,621.1 L762.2,619.6 L761.5,617.3 L760.2,616.5 L758.4,615.5 L759.0,613.8 L760.9,614.8" fill="none" stroke="#5E8E6A" stroke-width="1.2" stroke-linejoin="round"/>
<path d="M761.3,621.5 L762.3,623.5 L762.9,624.8 L761.6,625.7 L760.0,626.9 L758.1,626.5 L756.1,626.2 L755.3,628.4 L753.4,629.2 L752.8,630.8 L754.6,630.0 L756.5,629.1 L757.1,627.4 L756.2,625.7 L754.0,625.0 L752.5,624.5 L752.9,621.9 L753.1,620.4 L754.7,620.4 L756.6,620.3 L758.0,621.7 L756.7,623.6 L754.5,622.6 L752.9,623.2 L751.5,623.7 L750.3,621.8 L751.5,620.8 L752.8,619.6 L752.9,617.4 L751.2,617.0 L753.6,617.6 L754.2,616.0 L756.5,616.5 L758.7,617.0 L760.3,616.0 L759.7,614.5 L758.1,613.9 L757.2,615.2 L757.8,617.2 L758.3,619.2 L758.9,621.4 L756.8,622.4" fill="none" stroke="#5E8E6A" stroke-width="1.2" stroke-linejoin="round"/>
</svg></body></html>
